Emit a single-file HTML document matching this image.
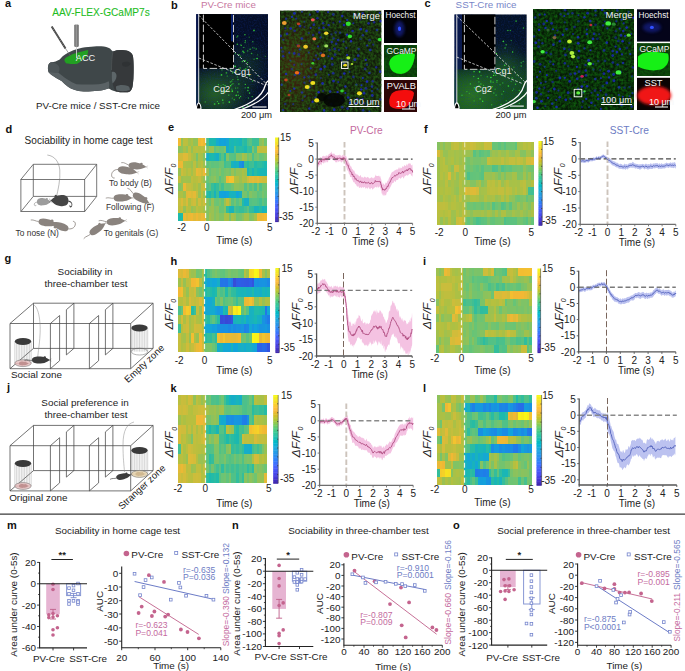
<!DOCTYPE html><html><head><meta charset="utf-8"><style>html,body{margin:0;padding:0;background:#fff;overflow:hidden;width:685px;height:671px;position:relative}svg{display:block;position:absolute;left:0;top:0}.hm{position:absolute;filter:blur(0.5px)}</style></head><body><div class="hm" style="left:178px;top:138px;width:89.20px;height:82.70px"><div style="height:7.518px;background:linear-gradient(90deg,#f2ba33 0.00% 2.86%,#92c258 2.86% 5.71%,#bdbf3e 5.71% 8.57%,#bbbf3e 8.57% 11.43%,#a1c14c 11.43% 14.29%,#adc044 14.29% 17.14%,#93c257 17.14% 20.00%,#93c257 20.00% 22.86%,#edb935 22.86% 25.71%,#f3bd32 25.71% 28.57%,#ebb935 28.57% 31.43%,#48c08d 31.43% 34.29%,#1bb7b3 34.29% 37.14%,#1cb9ae 37.14% 40.00%,#1bb7b2 40.00% 42.86%,#14aad0 42.86% 45.71%,#13a1db 45.71% 48.57%,#12a4da 48.57% 51.43%,#14a0dc 51.43% 54.29%,#13a7d5 54.29% 57.14%,#1bb8b0 57.14% 60.00%,#1ab5b7 60.00% 62.86%,#1bb9af 62.86% 65.71%,#1ab7b3 65.71% 68.57%,#19b3ba 68.57% 71.43%,#30bd9e 71.43% 74.29%,#27bba4 74.29% 77.14%,#4dc08a 77.14% 80.00%,#5ac280 80.00% 82.86%,#3cbe96 82.86% 85.71%,#3bbe96 85.71% 88.57%,#3ebe94 88.57% 91.43%,#88c25f 91.43% 94.29%,#97c154 94.29% 97.14%,#71c470 97.14% 100.00%)"></div><div style="height:7.518px;background:linear-gradient(90deg,#8bc25d 0.00% 2.86%,#90c259 2.86% 5.71%,#a9c047 5.71% 8.57%,#96c255 8.57% 11.43%,#bcbf3e 11.43% 14.29%,#95c255 14.29% 17.14%,#b5c03f 17.14% 20.00%,#babf3f 20.00% 22.86%,#b4c040 22.86% 25.71%,#bbbf3e 25.71% 28.57%,#b5c03f 28.57% 31.43%,#79c36a 31.43% 34.29%,#98c153 34.29% 37.14%,#9bc151 37.14% 40.00%,#61c37c 40.00% 42.86%,#72c46f 42.86% 45.71%,#67c477 45.71% 48.57%,#69c476 48.57% 51.43%,#7fc366 51.43% 54.29%,#15acca 54.29% 57.14%,#1ab6b5 57.14% 60.00%,#19b3bc 60.00% 62.86%,#4ec089 62.86% 65.71%,#24bba6 65.71% 68.57%,#29bca3 68.57% 71.43%,#26bba5 71.43% 74.29%,#1bb7b2 74.29% 77.14%,#37be99 77.14% 80.00%,#33bd9c 80.00% 82.86%,#7dc367 82.86% 85.71%,#52c186 85.71% 88.57%,#bdbf3e 88.57% 91.43%,#c0be3d 91.43% 94.29%,#c2be3d 94.29% 97.14%,#c1be3d 97.14% 100.00%)"></div><div style="height:7.518px;background:linear-gradient(90deg,#cfbc3b 0.00% 2.86%,#d0bc3a 2.86% 5.71%,#e0ba37 5.71% 8.57%,#deba38 8.57% 11.43%,#c6bd3c 11.43% 14.29%,#afc042 14.29% 17.14%,#a4c14a 17.14% 20.00%,#78c36b 20.00% 22.86%,#a8c147 22.86% 25.71%,#a4c14a 25.71% 28.57%,#84c362 28.57% 31.43%,#17afc5 31.43% 34.29%,#1ab7b3 34.29% 37.14%,#1cb9ae 37.14% 40.00%,#19b3bb 40.00% 42.86%,#16aec5 42.86% 45.71%,#35bd9b 45.71% 48.57%,#56c283 48.57% 51.43%,#29bca3 51.43% 54.29%,#83c363 54.29% 57.14%,#5ac281 57.14% 60.00%,#57c283 60.00% 62.86%,#51c187 62.86% 65.71%,#85c261 65.71% 68.57%,#80c365 68.57% 71.43%,#a7c148 71.43% 74.29%,#9ac151 74.29% 77.14%,#72c46f 77.14% 80.00%,#80c365 80.00% 82.86%,#4bc08b 82.86% 85.71%,#71c470 85.71% 88.57%,#7ec367 88.57% 91.43%,#66c478 91.43% 94.29%,#6dc473 94.29% 97.14%,#7bc369 97.14% 100.00%)"></div><div style="height:7.518px;background:linear-gradient(90deg,#ebb935 0.00% 2.86%,#ecb935 2.86% 5.71%,#adc044 5.71% 8.57%,#a6c149 8.57% 11.43%,#a5c149 11.43% 14.29%,#9ac152 14.29% 17.14%,#bcbf3e 17.14% 20.00%,#97c154 20.00% 22.86%,#aec043 22.86% 25.71%,#b9bf3f 25.71% 28.57%,#9ec14f 28.57% 31.43%,#5dc27e 31.43% 34.29%,#67c477 34.29% 37.14%,#5ec37e 37.14% 40.00%,#63c37a 40.00% 42.86%,#61c37c 42.86% 45.71%,#6ec472 45.71% 48.57%,#70c471 48.57% 51.43%,#3fbf93 51.43% 54.29%,#4dc08a 54.29% 57.14%,#4dc089 57.14% 60.00%,#18b3bc 60.00% 62.86%,#16adc8 62.86% 65.71%,#18b2bd 65.71% 68.57%,#1894e0 68.57% 71.43%,#1c87e5 71.43% 74.29%,#36bd9a 74.29% 77.14%,#28bca4 77.14% 80.00%,#3ebe94 80.00% 82.86%,#42bf92 82.86% 85.71%,#23bba7 85.71% 88.57%,#2fbc9f 88.57% 91.43%,#30bd9e 91.43% 94.29%,#27bba5 94.29% 97.14%,#1bb9af 97.14% 100.00%)"></div><div style="height:7.518px;background:linear-gradient(90deg,#98c153 0.00% 2.86%,#cbbd3b 2.86% 5.71%,#bebe3e 5.71% 8.57%,#aec043 8.57% 11.43%,#bbbf3e 11.43% 14.29%,#a5c14a 14.29% 17.14%,#bdbf3e 17.14% 20.00%,#e9b936 20.00% 22.86%,#e0ba37 22.86% 25.71%,#d0bc3a 25.71% 28.57%,#ebb935 28.57% 31.43%,#98c154 31.43% 34.29%,#65c379 34.29% 37.14%,#7ac36a 37.14% 40.00%,#7cc368 40.00% 42.86%,#72c470 42.86% 45.71%,#86c261 45.71% 48.57%,#6ac475 48.57% 51.43%,#77c36b 51.43% 54.29%,#7ec367 54.29% 57.14%,#74c36e 57.14% 60.00%,#99c153 60.00% 62.86%,#80c365 62.86% 65.71%,#96c255 65.71% 68.57%,#99c153 68.57% 71.43%,#a9c046 71.43% 74.29%,#9fc14e 74.29% 77.14%,#1bb7b2 77.14% 80.00%,#2abca2 80.00% 82.86%,#19b4b9 82.86% 85.71%,#29bca3 85.71% 88.57%,#1bb9af 88.57% 91.43%,#1ab6b5 91.43% 94.29%,#1ab6b6 94.29% 97.14%,#1ab5b6 97.14% 100.00%)"></div><div style="height:7.518px;background:linear-gradient(90deg,#c1be3d 0.00% 2.86%,#9ac151 2.86% 5.71%,#a2c14c 5.71% 8.57%,#a0c14d 8.57% 11.43%,#9ec14f 11.43% 14.29%,#bebf3e 14.29% 17.14%,#b6bf3f 17.14% 20.00%,#babf3e 20.00% 22.86%,#c6bd3c 22.86% 25.71%,#afc042 25.71% 28.57%,#97c154 28.57% 31.43%,#65c479 31.43% 34.29%,#79c36a 34.29% 37.14%,#84c362 37.14% 40.00%,#90c259 40.00% 42.86%,#78c36b 42.86% 45.71%,#58c282 45.71% 48.57%,#6ec472 48.57% 51.43%,#82c363 51.43% 54.29%,#eeb935 54.29% 57.14%,#f3c32f 57.14% 60.00%,#f3c22f 60.00% 62.86%,#b6c03f 62.86% 65.71%,#b1c041 65.71% 68.57%,#9cc150 68.57% 71.43%,#b1c041 71.43% 74.29%,#adc044 74.29% 77.14%,#cbbd3b 77.14% 80.00%,#debb38 80.00% 82.86%,#e5ba36 82.86% 85.71%,#dbbb38 85.71% 88.57%,#e5ba36 88.57% 91.43%,#d6bc39 91.43% 94.29%,#cfbc3b 94.29% 97.14%,#cdbd3b 97.14% 100.00%)"></div><div style="height:7.518px;background:linear-gradient(90deg,#81c364 0.00% 2.86%,#8fc25a 2.86% 5.71%,#ebb935 5.71% 8.57%,#c8bd3c 8.57% 11.43%,#c4be3d 11.43% 14.29%,#bdbf3e 14.29% 17.14%,#abc045 17.14% 20.00%,#b5c03f 20.00% 22.86%,#9ec14f 22.86% 25.71%,#c4be3d 25.71% 28.57%,#c7bd3c 28.57% 31.43%,#52c186 31.43% 34.29%,#5dc27e 34.29% 37.14%,#38be98 37.14% 40.00%,#26bba5 40.00% 42.86%,#36bd99 42.86% 45.71%,#5bc280 45.71% 48.57%,#41bf92 48.57% 51.43%,#66c478 51.43% 54.29%,#63c37a 54.29% 57.14%,#64c37a 57.14% 60.00%,#74c36e 60.00% 62.86%,#90c259 62.86% 65.71%,#8ec25b 65.71% 68.57%,#87c260 68.57% 71.43%,#87c260 71.43% 74.29%,#56c283 74.29% 77.14%,#79c36a 77.14% 80.00%,#58c282 80.00% 82.86%,#6ac475 82.86% 85.71%,#4cc08a 85.71% 88.57%,#80c365 88.57% 91.43%,#52c186 91.43% 94.29%,#6ec472 94.29% 97.14%,#72c36f 97.14% 100.00%)"></div><div style="height:7.518px;background:linear-gradient(90deg,#acc045 0.00% 2.86%,#aec043 2.86% 5.71%,#9cc150 5.71% 8.57%,#e0ba37 8.57% 11.43%,#e4ba37 11.43% 14.29%,#dbbb38 14.29% 17.14%,#e5ba36 17.14% 20.00%,#c4be3d 20.00% 22.86%,#98c153 22.86% 25.71%,#bbbf3e 25.71% 28.57%,#9ac152 28.57% 31.43%,#26bba5 31.43% 34.29%,#1bb8b1 34.29% 37.14%,#32bd9d 37.14% 40.00%,#18b2bd 40.00% 42.86%,#38be99 42.86% 45.71%,#13a3db 45.71% 48.57%,#13a3db 48.57% 51.43%,#13a1db 51.43% 54.29%,#12a5da 54.29% 57.14%,#19b3ba 57.14% 60.00%,#18b1c0 60.00% 62.86%,#18b2bd 62.86% 65.71%,#12a6d8 65.71% 68.57%,#17aec5 68.57% 71.43%,#7ac369 71.43% 74.29%,#76c36c 74.29% 77.14%,#5bc280 77.14% 80.00%,#84c262 80.00% 82.86%,#76c36c 82.86% 85.71%,#74c36e 85.71% 88.57%,#5cc27f 88.57% 91.43%,#63c37a 91.43% 94.29%,#78c36b 94.29% 97.14%,#6ac475 97.14% 100.00%)"></div><div style="height:7.518px;background:linear-gradient(90deg,#c5be3d 0.00% 2.86%,#dbbb38 2.86% 5.71%,#c1be3d 5.71% 8.57%,#d8bb39 8.57% 11.43%,#adc043 11.43% 14.29%,#c7bd3c 14.29% 17.14%,#d0bc3a 17.14% 20.00%,#abc045 20.00% 22.86%,#cfbc3b 22.86% 25.71%,#babf3e 25.71% 28.57%,#ccbd3b 28.57% 31.43%,#86c260 31.43% 34.29%,#6ac476 34.29% 37.14%,#99c153 37.14% 40.00%,#70c471 40.00% 42.86%,#6ac476 42.86% 45.71%,#7cc368 45.71% 48.57%,#65c479 48.57% 51.43%,#9bc151 51.43% 54.29%,#bfbe3d 54.29% 57.14%,#9ac151 57.14% 60.00%,#5cc27f 60.00% 62.86%,#71c470 62.86% 65.71%,#57c283 65.71% 68.57%,#6dc473 68.57% 71.43%,#21bba9 71.43% 74.29%,#17b0c2 74.29% 77.14%,#17afc5 77.14% 80.00%,#54c185 80.00% 82.86%,#59c281 82.86% 85.71%,#58c282 85.71% 88.57%,#50c188 88.57% 91.43%,#43bf91 91.43% 94.29%,#5fc37d 94.29% 97.14%,#51c187 97.14% 100.00%)"></div><div style="height:7.518px;background:linear-gradient(90deg,#bfbe3d 0.00% 2.86%,#c7bd3c 2.86% 5.71%,#98c153 5.71% 8.57%,#bebe3e 8.57% 11.43%,#b6bf3f 11.43% 14.29%,#96c255 14.29% 17.14%,#a4c14b 17.14% 20.00%,#bdbf3e 20.00% 22.86%,#b3c040 22.86% 25.71%,#b5c03f 25.71% 28.57%,#a6c149 28.57% 31.43%,#83c363 31.43% 34.29%,#95c255 34.29% 37.14%,#9bc151 37.14% 40.00%,#82c364 40.00% 42.86%,#8cc25c 42.86% 45.71%,#67c478 45.71% 48.57%,#6ac475 48.57% 51.43%,#82c363 51.43% 54.29%,#30bd9e 54.29% 57.14%,#19b4ba 57.14% 60.00%,#19b4b9 60.00% 62.86%,#4ac08c 62.86% 65.71%,#3ebe94 65.71% 68.57%,#34bd9b 68.57% 71.43%,#35bd9a 71.43% 74.29%,#46bf8f 74.29% 77.14%,#5cc27f 77.14% 80.00%,#36bd9a 80.00% 82.86%,#2fbc9f 82.86% 85.71%,#19b3bc 85.71% 88.57%,#1ab6b5 88.57% 91.43%,#26bba5 91.43% 94.29%,#18b2be 94.29% 97.14%,#1bb7b3 97.14% 100.00%)"></div><div style="height:7.518px;background:linear-gradient(90deg,#1ebaab 0.00% 2.86%,#22bba7 2.86% 5.71%,#efb835 5.71% 8.57%,#dcbb38 8.57% 11.43%,#ebb935 11.43% 14.29%,#f0b834 14.29% 17.14%,#dfba38 17.14% 20.00%,#eeb835 20.00% 22.86%,#e1ba37 22.86% 25.71%,#ecb935 25.71% 28.57%,#e7b936 28.57% 31.43%,#85c261 31.43% 34.29%,#a4c14a 34.29% 37.14%,#99c153 37.14% 40.00%,#83c363 40.00% 42.86%,#92c258 42.86% 45.71%,#81c364 45.71% 48.57%,#81c364 48.57% 51.43%,#a7c148 51.43% 54.29%,#a9c046 54.29% 57.14%,#7ac36a 57.14% 60.00%,#a6c149 60.00% 62.86%,#9ac152 62.86% 65.71%,#71c470 65.71% 68.57%,#77c36c 68.57% 71.43%,#8ac25e 71.43% 74.29%,#a4c14a 74.29% 77.14%,#a3c14b 77.14% 80.00%,#7fc366 80.00% 82.86%,#8ac25d 82.86% 85.71%,#a6c149 85.71% 88.57%,#ebb935 88.57% 91.43%,#e8b936 91.43% 94.29%,#f0b834 94.29% 97.14%,#f3bc32 97.14% 100.00%)"></div></div>
<div class="hm" style="left:437.4px;top:142.2px;width:96.40px;height:82.60px"><div style="height:7.509px;background:linear-gradient(90deg,#86c260 0.00% 2.86%,#9ac152 2.86% 5.71%,#87c260 5.71% 8.57%,#9dc14f 8.57% 11.43%,#99c152 11.43% 14.29%,#bbbf3e 14.29% 17.14%,#c3be3d 17.14% 20.00%,#c1be3d 20.00% 22.86%,#aec043 22.86% 25.71%,#c0be3d 25.71% 28.57%,#c3be3d 28.57% 31.43%,#c0be3d 31.43% 34.29%,#ccbd3b 34.29% 37.14%,#c7bd3c 37.14% 40.00%,#babf3e 40.00% 42.86%,#b5c03f 42.86% 45.71%,#b1c040 45.71% 48.57%,#cabd3c 48.57% 51.43%,#c6be3c 51.43% 54.29%,#c3be3d 54.29% 57.14%,#66c478 57.14% 60.00%,#69c476 60.00% 62.86%,#5dc27e 62.86% 65.71%,#6ac475 65.71% 68.57%,#5ac281 68.57% 71.43%,#6ec472 71.43% 74.29%,#6ec472 74.29% 77.14%,#70c471 77.14% 80.00%,#5ec37e 80.00% 82.86%,#a1c14c 82.86% 85.71%,#abc045 85.71% 88.57%,#b9bf3f 88.57% 91.43%,#b2c040 91.43% 94.29%,#bbbf3e 94.29% 97.14%,#afc042 97.14% 100.00%)"></div><div style="height:7.509px;background:linear-gradient(90deg,#d7bb39 0.00% 2.86%,#b4c040 2.86% 5.71%,#96c255 5.71% 8.57%,#97c154 8.57% 11.43%,#a7c148 11.43% 14.29%,#a9c147 14.29% 17.14%,#a1c14d 17.14% 20.00%,#a6c149 20.00% 22.86%,#a1c14d 22.86% 25.71%,#aac046 25.71% 28.57%,#9dc14f 28.57% 31.43%,#9bc151 31.43% 34.29%,#93c257 34.29% 37.14%,#58c282 37.14% 40.00%,#6dc473 40.00% 42.86%,#57c282 42.86% 45.71%,#5fc37d 45.71% 48.57%,#69c476 48.57% 51.43%,#62c37b 51.43% 54.29%,#90c259 54.29% 57.14%,#9fc14e 57.14% 60.00%,#99c153 60.00% 62.86%,#a6c149 62.86% 65.71%,#9ac152 65.71% 68.57%,#96c255 68.57% 71.43%,#a8c147 71.43% 74.29%,#96c255 74.29% 77.14%,#91c259 77.14% 80.00%,#a7c148 80.00% 82.86%,#a7c148 82.86% 85.71%,#87c260 85.71% 88.57%,#83c363 88.57% 91.43%,#a3c14b 91.43% 94.29%,#a4c14a 94.29% 97.14%,#90c259 97.14% 100.00%)"></div><div style="height:7.509px;background:linear-gradient(90deg,#a1c14d 0.00% 2.86%,#b2c040 2.86% 5.71%,#bbbf3e 5.71% 8.57%,#9fc14e 8.57% 11.43%,#a9c147 11.43% 14.29%,#b1c040 14.29% 17.14%,#9fc14e 17.14% 20.00%,#a7c148 20.00% 22.86%,#9cc150 22.86% 25.71%,#aac046 25.71% 28.57%,#7bc369 28.57% 31.43%,#75c36d 31.43% 34.29%,#82c364 34.29% 37.14%,#78c36b 37.14% 40.00%,#77c36c 40.00% 42.86%,#78c36b 42.86% 45.71%,#83c363 45.71% 48.57%,#7fc366 48.57% 51.43%,#c1be3d 51.43% 54.29%,#b5c03f 54.29% 57.14%,#afc042 57.14% 60.00%,#adc044 60.00% 62.86%,#b1c041 62.86% 65.71%,#c1be3d 65.71% 68.57%,#adc044 68.57% 71.43%,#b7bf3f 71.43% 74.29%,#c3be3d 74.29% 77.14%,#c4be3d 77.14% 80.00%,#b7bf3f 80.00% 82.86%,#c5be3c 82.86% 85.71%,#bebf3e 85.71% 88.57%,#aec043 88.57% 91.43%,#d1bc3a 91.43% 94.29%,#d2bc3a 94.29% 97.14%,#debb38 97.14% 100.00%)"></div><div style="height:7.509px;background:linear-gradient(90deg,#9fc14e 0.00% 2.86%,#b1c041 2.86% 5.71%,#b6c03f 5.71% 8.57%,#b4c040 8.57% 11.43%,#a2c14c 11.43% 14.29%,#8fc25a 14.29% 17.14%,#cabd3c 17.14% 20.00%,#c8bd3c 20.00% 22.86%,#a9c046 22.86% 25.71%,#acc045 25.71% 28.57%,#73c36f 28.57% 31.43%,#6ac475 31.43% 34.29%,#74c36d 34.29% 37.14%,#67c477 37.14% 40.00%,#60c37c 40.00% 42.86%,#6fc471 42.86% 45.71%,#58c282 45.71% 48.57%,#6dc473 48.57% 51.43%,#6bc475 51.43% 54.29%,#71c470 54.29% 57.14%,#4ec189 57.14% 60.00%,#54c185 60.00% 62.86%,#74c36e 62.86% 65.71%,#52c186 65.71% 68.57%,#5fc37d 68.57% 71.43%,#66c478 71.43% 74.29%,#61c37c 74.29% 77.14%,#71c470 77.14% 80.00%,#74c36e 80.00% 82.86%,#78c36b 82.86% 85.71%,#70c471 85.71% 88.57%,#90c259 88.57% 91.43%,#7dc367 91.43% 94.29%,#75c36d 94.29% 97.14%,#70c471 97.14% 100.00%)"></div><div style="height:7.509px;background:linear-gradient(90deg,#9ec14f 0.00% 2.86%,#b5c03f 2.86% 5.71%,#a9c047 5.71% 8.57%,#b4c040 8.57% 11.43%,#dbbb38 11.43% 14.29%,#a3c14b 14.29% 17.14%,#b5c03f 17.14% 20.00%,#92c258 20.00% 22.86%,#aec043 22.86% 25.71%,#aec043 25.71% 28.57%,#74c36e 28.57% 31.43%,#4dc08a 31.43% 34.29%,#62c37b 34.29% 37.14%,#64c37a 37.14% 40.00%,#66c478 40.00% 42.86%,#60c37c 42.86% 45.71%,#58c282 45.71% 48.57%,#9ec14f 48.57% 51.43%,#9dc150 51.43% 54.29%,#96c255 54.29% 57.14%,#a0c14d 57.14% 60.00%,#90c259 60.00% 62.86%,#7cc368 62.86% 65.71%,#95c255 65.71% 68.57%,#7dc367 68.57% 71.43%,#98c153 71.43% 74.29%,#94c257 74.29% 77.14%,#a6c149 77.14% 80.00%,#a4c14b 80.00% 82.86%,#7cc368 82.86% 85.71%,#80c365 85.71% 88.57%,#a1c14d 88.57% 91.43%,#82c363 91.43% 94.29%,#9dc14f 94.29% 97.14%,#7fc366 97.14% 100.00%)"></div><div style="height:7.509px;background:linear-gradient(90deg,#a4c14a 0.00% 2.86%,#aac046 2.86% 5.71%,#a5c14a 5.71% 8.57%,#bcbf3e 8.57% 11.43%,#a0c14d 11.43% 14.29%,#aac046 14.29% 17.14%,#9fc14e 17.14% 20.00%,#9bc151 20.00% 22.86%,#b2c040 22.86% 25.71%,#a4c14a 25.71% 28.57%,#94c256 28.57% 31.43%,#9dc150 31.43% 34.29%,#84c362 34.29% 37.14%,#83c363 37.14% 40.00%,#9cc150 40.00% 42.86%,#a9c047 42.86% 45.71%,#81c364 45.71% 48.57%,#93c257 48.57% 51.43%,#bdbf3e 51.43% 54.29%,#b8bf3f 54.29% 57.14%,#bdbf3e 57.14% 60.00%,#acc045 60.00% 62.86%,#bdbf3e 62.86% 65.71%,#99c153 65.71% 68.57%,#aac046 68.57% 71.43%,#b8bf3f 71.43% 74.29%,#a6c149 74.29% 77.14%,#a8c147 77.14% 80.00%,#a9c147 80.00% 82.86%,#a6c149 82.86% 85.71%,#b7bf3f 85.71% 88.57%,#bdbf3e 88.57% 91.43%,#a0c14e 91.43% 94.29%,#a3c14b 94.29% 97.14%,#b6bf3f 97.14% 100.00%)"></div><div style="height:7.509px;background:linear-gradient(90deg,#adc043 0.00% 2.86%,#b0c041 2.86% 5.71%,#abc045 5.71% 8.57%,#b4c040 8.57% 11.43%,#b1c040 11.43% 14.29%,#a9c147 14.29% 17.14%,#9bc151 17.14% 20.00%,#92c257 20.00% 22.86%,#b2c040 22.86% 25.71%,#b2c040 25.71% 28.57%,#dfba37 28.57% 31.43%,#d4bc3a 31.43% 34.29%,#ddbb38 34.29% 37.14%,#e0ba37 37.14% 40.00%,#d3bc3a 40.00% 42.86%,#9fc14e 42.86% 45.71%,#a5c14a 45.71% 48.57%,#a7c149 48.57% 51.43%,#b8bf3f 51.43% 54.29%,#bebf3e 54.29% 57.14%,#bdbf3e 57.14% 60.00%,#b9bf3f 60.00% 62.86%,#c3be3d 62.86% 65.71%,#c3be3d 65.71% 68.57%,#b0c042 68.57% 71.43%,#c1be3d 71.43% 74.29%,#babf3f 74.29% 77.14%,#a8c148 77.14% 80.00%,#b5c03f 80.00% 82.86%,#a5c14a 82.86% 85.71%,#aec043 85.71% 88.57%,#bdbf3e 88.57% 91.43%,#9ec14f 91.43% 94.29%,#44bf90 94.29% 97.14%,#40bf93 97.14% 100.00%)"></div><div style="height:7.509px;background:linear-gradient(90deg,#a9c047 0.00% 2.86%,#a0c14d 2.86% 5.71%,#b3c040 5.71% 8.57%,#abc045 8.57% 11.43%,#a2c14c 11.43% 14.29%,#aec043 14.29% 17.14%,#b8bf3f 17.14% 20.00%,#a1c14d 20.00% 22.86%,#bcbf3e 22.86% 25.71%,#a1c14d 25.71% 28.57%,#a2c14c 28.57% 31.43%,#9ec14f 31.43% 34.29%,#b2c040 34.29% 37.14%,#b3c040 37.14% 40.00%,#adc044 40.00% 42.86%,#9bc151 42.86% 45.71%,#9cc150 45.71% 48.57%,#b1c041 48.57% 51.43%,#a4c14b 51.43% 54.29%,#a9c047 54.29% 57.14%,#adc044 57.14% 60.00%,#97c154 60.00% 62.86%,#9fc14e 62.86% 65.71%,#b5c03f 65.71% 68.57%,#9dc150 68.57% 71.43%,#b2c040 71.43% 74.29%,#95c255 74.29% 77.14%,#90c259 77.14% 80.00%,#78c36b 80.00% 82.86%,#6fc472 82.86% 85.71%,#7cc368 85.71% 88.57%,#83c363 88.57% 91.43%,#65c379 91.43% 94.29%,#78c36b 94.29% 97.14%,#72c36f 97.14% 100.00%)"></div><div style="height:7.509px;background:linear-gradient(90deg,#c1be3d 0.00% 2.86%,#bebe3e 2.86% 5.71%,#c0be3d 5.71% 8.57%,#bbbf3e 8.57% 11.43%,#acc045 11.43% 14.29%,#b6bf3f 14.29% 17.14%,#b4c040 17.14% 20.00%,#adc044 20.00% 22.86%,#a9c046 22.86% 25.71%,#b7bf3f 25.71% 28.57%,#88c25f 28.57% 31.43%,#6dc473 31.43% 34.29%,#72c470 34.29% 37.14%,#6ac476 37.14% 40.00%,#72c46f 40.00% 42.86%,#73c36f 42.86% 45.71%,#67c477 45.71% 48.57%,#7ec367 48.57% 51.43%,#71c470 51.43% 54.29%,#84c362 54.29% 57.14%,#56c283 57.14% 60.00%,#6bc474 60.00% 62.86%,#75c36d 62.86% 65.71%,#53c185 65.71% 68.57%,#5cc27f 68.57% 71.43%,#75c36d 71.43% 74.29%,#5dc27e 74.29% 77.14%,#86c260 77.14% 80.00%,#7fc365 80.00% 82.86%,#9bc151 82.86% 85.71%,#86c260 85.71% 88.57%,#9dc150 88.57% 91.43%,#90c259 91.43% 94.29%,#80c365 94.29% 97.14%,#a2c14c 97.14% 100.00%)"></div><div style="height:7.509px;background:linear-gradient(90deg,#babf3f 0.00% 2.86%,#b5c040 2.86% 5.71%,#afc042 5.71% 8.57%,#b5c03f 8.57% 11.43%,#bcbf3e 11.43% 14.29%,#9ec14f 14.29% 17.14%,#a0c14d 17.14% 20.00%,#b5c03f 20.00% 22.86%,#a7c148 22.86% 25.71%,#bdbf3e 25.71% 28.57%,#aac046 28.57% 31.43%,#9dc150 31.43% 34.29%,#8ec25a 34.29% 37.14%,#a1c14d 37.14% 40.00%,#a0c14d 40.00% 42.86%,#9fc14e 42.86% 45.71%,#a7c148 45.71% 48.57%,#9bc151 48.57% 51.43%,#acc044 51.43% 54.29%,#a0c14d 54.29% 57.14%,#8ec25a 57.14% 60.00%,#a9c046 60.00% 62.86%,#8fc25a 62.86% 65.71%,#adc044 65.71% 68.57%,#aec043 68.57% 71.43%,#90c259 71.43% 74.29%,#90c259 74.29% 77.14%,#a4c14a 77.14% 80.00%,#9ac152 80.00% 82.86%,#97c154 82.86% 85.71%,#a6c149 85.71% 88.57%,#95c255 88.57% 91.43%,#8dc25b 91.43% 94.29%,#9ec14f 94.29% 97.14%,#acc045 97.14% 100.00%)"></div><div style="height:7.509px;background:linear-gradient(90deg,#b6c03f 0.00% 2.86%,#93c257 2.86% 5.71%,#adc043 5.71% 8.57%,#9cc150 8.57% 11.43%,#b6bf3f 11.43% 14.29%,#9fc14e 14.29% 17.14%,#93c257 17.14% 20.00%,#ccbd3b 20.00% 22.86%,#d3bc3a 22.86% 25.71%,#c6bd3c 25.71% 28.57%,#74c36e 28.57% 31.43%,#62c37b 31.43% 34.29%,#73c36f 34.29% 37.14%,#5dc37e 37.14% 40.00%,#4ac08c 40.00% 42.86%,#51c187 42.86% 45.71%,#5cc27f 45.71% 48.57%,#60c37c 48.57% 51.43%,#77c36c 51.43% 54.29%,#64c379 54.29% 57.14%,#62c37b 57.14% 60.00%,#6ec472 60.00% 62.86%,#71c470 62.86% 65.71%,#78c36b 65.71% 68.57%,#4dc08a 68.57% 71.43%,#59c281 71.43% 74.29%,#5bc280 74.29% 77.14%,#5dc27f 77.14% 80.00%,#5cc27f 80.00% 82.86%,#71c470 82.86% 85.71%,#71c470 85.71% 88.57%,#64c379 88.57% 91.43%,#58c282 91.43% 94.29%,#7ac369 94.29% 97.14%,#65c479 97.14% 100.00%)"></div></div>
<div class="hm" style="left:178.1px;top:269.1px;width:91.80px;height:82.70px"><div style="height:9.189px;background:linear-gradient(90deg,#ddbb38 0.00% 2.86%,#d8bb39 2.86% 5.71%,#ebb935 5.71% 8.57%,#deba38 8.57% 11.43%,#a8c147 11.43% 14.29%,#9ac152 14.29% 17.14%,#9fc14e 17.14% 20.00%,#71c470 20.00% 22.86%,#7ac369 22.86% 25.71%,#a5c14a 25.71% 28.57%,#2bbca1 28.57% 31.43%,#4cc08a 31.43% 34.29%,#5fc37d 34.29% 37.14%,#71c470 37.14% 40.00%,#7ec366 40.00% 42.86%,#6ec472 42.86% 45.71%,#62c37b 45.71% 48.57%,#5ec37e 48.57% 51.43%,#70c471 51.43% 54.29%,#7fc366 54.29% 57.14%,#72c36f 57.14% 60.00%,#76c36d 60.00% 62.86%,#7ac36a 62.86% 65.71%,#69c476 65.71% 68.57%,#65c379 68.57% 71.43%,#b6c03f 71.43% 74.29%,#9bc151 74.29% 77.14%,#f6d924 77.14% 80.00%,#f7de21 80.00% 82.86%,#faf616 82.86% 85.71%,#f9f019 85.71% 88.57%,#f0b834 88.57% 91.43%,#a6c149 91.43% 94.29%,#85c261 94.29% 97.14%,#aac046 97.14% 100.00%)"></div><div style="height:9.189px;background:linear-gradient(90deg,#a0c14d 0.00% 2.86%,#c3be3d 2.86% 5.71%,#97c154 5.71% 8.57%,#bbbf3e 8.57% 11.43%,#c2be3d 11.43% 14.29%,#f2b933 14.29% 17.14%,#f2bb32 17.14% 20.00%,#f3c22f 20.00% 22.86%,#bfbe3e 22.86% 25.71%,#91c259 25.71% 28.57%,#15accb 28.57% 31.43%,#13a2db 31.43% 34.29%,#14a9d1 34.29% 37.14%,#12a5d9 37.14% 40.00%,#12a6d9 40.00% 42.86%,#16adc8 42.86% 45.71%,#2375e8 45.71% 48.57%,#2277e8 48.57% 51.43%,#2473e8 51.43% 54.29%,#1b89e4 54.29% 57.14%,#2179e8 57.14% 60.00%,#364dd9 60.00% 62.86%,#2f5ce5 62.86% 65.71%,#2d5ee7 65.71% 68.57%,#2f5ce5 68.57% 71.43%,#305ae4 71.43% 74.29%,#3059e3 74.29% 77.14%,#2d5ee7 77.14% 80.00%,#3353df 80.00% 82.86%,#1892e1 82.86% 85.71%,#1a8de3 85.71% 88.57%,#1892e1 88.57% 91.43%,#1893e1 91.43% 94.29%,#1891e1 94.29% 97.14%,#1b88e5 97.14% 100.00%)"></div><div style="height:9.189px;background:linear-gradient(90deg,#f2b934 0.00% 2.86%,#f3be31 2.86% 5.71%,#b6bf3f 5.71% 8.57%,#96c254 8.57% 11.43%,#c7bd3c 11.43% 14.29%,#c3be3d 14.29% 17.14%,#d1bc3a 17.14% 20.00%,#8bc25d 20.00% 22.86%,#76c36d 22.86% 25.71%,#92c258 25.71% 28.57%,#22bba8 28.57% 31.43%,#2fbd9e 31.43% 34.29%,#23bba7 34.29% 37.14%,#1ab7b3 37.14% 40.00%,#20bba9 40.00% 42.86%,#5fc37d 42.86% 45.71%,#4bc08b 45.71% 48.57%,#58c282 48.57% 51.43%,#24bba6 51.43% 54.29%,#4ec189 54.29% 57.14%,#31bd9d 57.14% 60.00%,#2ebca0 60.00% 62.86%,#1bb7b2 62.86% 65.71%,#19b5b8 65.71% 68.57%,#19b3bb 68.57% 71.43%,#1ab5b7 71.43% 74.29%,#18b1bf 74.29% 77.14%,#18b2be 77.14% 80.00%,#1fbaaa 80.00% 82.86%,#17afc5 82.86% 85.71%,#18b1c0 85.71% 88.57%,#16aec6 88.57% 91.43%,#1ab6b5 91.43% 94.29%,#18b1bf 94.29% 97.14%,#1ab6b4 97.14% 100.00%)"></div><div style="height:9.189px;background:linear-gradient(90deg,#b8bf3f 0.00% 2.86%,#b6c03f 2.86% 5.71%,#c5be3d 5.71% 8.57%,#afc042 8.57% 11.43%,#d9bb39 11.43% 14.29%,#c8bd3c 14.29% 17.14%,#c0be3d 17.14% 20.00%,#c8bd3c 20.00% 22.86%,#dcbb38 22.86% 25.71%,#c5be3c 25.71% 28.57%,#14aad0 28.57% 31.43%,#13a7d7 31.43% 34.29%,#14a9d1 34.29% 37.14%,#17b0c2 37.14% 40.00%,#70c471 40.00% 42.86%,#5bc280 42.86% 45.71%,#80c365 45.71% 48.57%,#52c186 48.57% 51.43%,#60c37c 51.43% 54.29%,#6bc475 54.29% 57.14%,#73c36f 57.14% 60.00%,#57c283 60.00% 62.86%,#3bbe96 62.86% 65.71%,#5dc27e 65.71% 68.57%,#55c184 68.57% 71.43%,#e6ba36 71.43% 74.29%,#eeb835 74.29% 77.14%,#f3c12f 77.14% 80.00%,#e6b936 80.00% 82.86%,#91c259 82.86% 85.71%,#90c259 85.71% 88.57%,#b4c040 88.57% 91.43%,#98c153 91.43% 94.29%,#aec043 94.29% 97.14%,#aec043 97.14% 100.00%)"></div><div style="height:9.189px;background:linear-gradient(90deg,#4bc08b 0.00% 2.86%,#65c479 2.86% 5.71%,#f2bb33 5.71% 8.57%,#f5cc2a 8.57% 11.43%,#f4c42e 11.43% 14.29%,#23bba7 14.29% 17.14%,#3fbe94 17.14% 20.00%,#c3be3d 20.00% 22.86%,#99c153 22.86% 25.71%,#e8b936 25.71% 28.57%,#14a8d3 28.57% 31.43%,#14a8d3 31.43% 34.29%,#15aace 34.29% 37.14%,#14aacf 37.14% 40.00%,#13a0dc 40.00% 42.86%,#1698df 42.86% 45.71%,#14a0dc 45.71% 48.57%,#23bba7 48.57% 51.43%,#1ab6b6 51.43% 54.29%,#d5bc39 54.29% 57.14%,#c1be3d 57.14% 60.00%,#f9ec1b 60.00% 62.86%,#f7e120 62.86% 65.71%,#faf417 65.71% 68.57%,#5dc27e 68.57% 71.43%,#80c365 71.43% 74.29%,#58c282 74.29% 77.14%,#18b1c0 77.14% 80.00%,#18b2bf 80.00% 82.86%,#21bba9 82.86% 85.71%,#21bba9 85.71% 88.57%,#1cbaac 88.57% 91.43%,#1bb7b2 91.43% 94.29%,#2277e8 94.29% 97.14%,#13a7d6 97.14% 100.00%)"></div><div style="height:9.189px;background:linear-gradient(90deg,#a5c149 0.00% 2.86%,#d5bc39 2.86% 5.71%,#abc045 5.71% 8.57%,#cabd3c 8.57% 11.43%,#a3c14b 11.43% 14.29%,#b4c040 14.29% 17.14%,#c4be3d 17.14% 20.00%,#aec043 20.00% 22.86%,#a7c148 22.86% 25.71%,#d3bc3a 25.71% 28.57%,#35bd9a 28.57% 31.43%,#24bba6 31.43% 34.29%,#4fc188 34.29% 37.14%,#61c37c 37.14% 40.00%,#45bf8f 40.00% 42.86%,#26bba5 42.86% 45.71%,#374cd9 45.71% 48.57%,#3451dd 48.57% 51.43%,#3948d5 51.43% 54.29%,#374cd9 54.29% 57.14%,#3255e0 57.14% 60.00%,#18b2bd 60.00% 62.86%,#1ab5b7 62.86% 65.71%,#1bb7b2 65.71% 68.57%,#17b0c2 68.57% 71.43%,#1bb8b1 71.43% 74.29%,#14a9d1 74.29% 77.14%,#17b0c2 77.14% 80.00%,#18b2bd 80.00% 82.86%,#1ab7b3 82.86% 85.71%,#17afc4 85.71% 88.57%,#16aec5 88.57% 91.43%,#1893e1 91.43% 94.29%,#1c87e6 94.29% 97.14%,#207be8 97.14% 100.00%)"></div><div style="height:9.189px;background:linear-gradient(90deg,#40bf93 0.00% 2.86%,#b3c040 2.86% 5.71%,#c7bd3c 5.71% 8.57%,#cfbc3b 8.57% 11.43%,#a6c149 11.43% 14.29%,#b5c03f 14.29% 17.14%,#d3bc3a 17.14% 20.00%,#cfbc3b 20.00% 22.86%,#cdbd3b 22.86% 25.71%,#b9bf3f 25.71% 28.57%,#14a8d2 28.57% 31.43%,#13a7d6 31.43% 34.29%,#13a6d7 34.29% 37.14%,#149fdc 37.14% 40.00%,#13a2db 40.00% 42.86%,#1893e1 42.86% 45.71%,#1990e2 45.71% 48.57%,#198fe2 48.57% 51.43%,#1990e2 51.43% 54.29%,#1c88e5 54.29% 57.14%,#1795e0 57.14% 60.00%,#1b8ae4 60.00% 62.86%,#1990e2 62.86% 65.71%,#198fe2 65.71% 68.57%,#1795e0 68.57% 71.43%,#1e81e8 71.43% 74.29%,#1c87e5 74.29% 77.14%,#13a8d4 77.14% 80.00%,#1699df 80.00% 82.86%,#12a3db 82.86% 85.71%,#159bde 85.71% 88.57%,#1893e1 88.57% 91.43%,#1795e0 91.43% 94.29%,#1699de 94.29% 97.14%,#1990e2 97.14% 100.00%)"></div><div style="height:9.189px;background:linear-gradient(90deg,#c6be3c 0.00% 2.86%,#aac046 2.86% 5.71%,#a3c14b 5.71% 8.57%,#c1be3d 8.57% 11.43%,#95c255 11.43% 14.29%,#f3be31 14.29% 17.14%,#afc042 17.14% 20.00%,#9ac152 20.00% 22.86%,#efb834 22.86% 25.71%,#cbbd3b 25.71% 28.57%,#26bba5 28.57% 31.43%,#35bd9a 31.43% 34.29%,#2fbc9f 34.29% 37.14%,#48c08d 37.14% 40.00%,#30bd9e 40.00% 42.86%,#f3c130 42.86% 45.71%,#efb835 45.71% 48.57%,#f3c32f 48.57% 51.43%,#e8b936 51.43% 54.29%,#ebb935 54.29% 57.14%,#e6ba36 57.14% 60.00%,#e6b936 60.00% 62.86%,#eab936 62.86% 65.71%,#f2ba33 65.71% 68.57%,#6cc474 68.57% 71.43%,#76c36c 71.43% 74.29%,#59c281 74.29% 77.14%,#6fc472 77.14% 80.00%,#faf616 80.00% 82.86%,#f9f218 82.86% 85.71%,#f9ef19 85.71% 88.57%,#eab936 88.57% 91.43%,#f3c42e 91.43% 94.29%,#f2bb32 94.29% 97.14%,#f2b834 97.14% 100.00%)"></div><div style="height:9.189px;background:linear-gradient(90deg,#c5be3c 0.00% 2.86%,#afc042 2.86% 5.71%,#b7bf3f 5.71% 8.57%,#cfbc3a 8.57% 11.43%,#b8bf3f 11.43% 14.29%,#c6be3c 14.29% 17.14%,#dabb39 17.14% 20.00%,#eab936 20.00% 22.86%,#f1b834 22.86% 25.71%,#d3bc3a 25.71% 28.57%,#77c36b 28.57% 31.43%,#7cc368 31.43% 34.29%,#81c364 34.29% 37.14%,#6ec473 37.14% 40.00%,#58c282 40.00% 42.86%,#15abcc 42.86% 45.71%,#18b2bc 45.71% 48.57%,#13a6d7 48.57% 51.43%,#13a8d4 51.43% 54.29%,#13a6d7 54.29% 57.14%,#18b2be 57.14% 60.00%,#12a4da 60.00% 62.86%,#12a5d9 62.86% 65.71%,#16adc8 65.71% 68.57%,#17afc4 68.57% 71.43%,#14aacf 71.43% 74.29%,#17afc3 74.29% 77.14%,#17afc5 77.14% 80.00%,#14a9d0 80.00% 82.86%,#12a3db 82.86% 85.71%,#2b64e8 85.71% 88.57%,#2c62e8 88.57% 91.43%,#276be8 91.43% 94.29%,#2b64e8 94.29% 97.14%,#3353df 97.14% 100.00%)"></div></div>
<div class="hm" style="left:435.9px;top:267.8px;width:96.10px;height:85.00px"><div style="height:7.727px;background:linear-gradient(90deg,#9dc150 0.00% 2.86%,#87c260 2.86% 5.71%,#99c152 5.71% 8.57%,#edb935 8.57% 11.43%,#e2ba37 11.43% 14.29%,#bcbf3e 14.29% 17.14%,#abc045 17.14% 20.00%,#a4c14a 20.00% 22.86%,#acc045 22.86% 25.71%,#bbbf3e 25.71% 28.57%,#70c470 28.57% 31.43%,#85c261 31.43% 34.29%,#79c36a 34.29% 37.14%,#71c470 37.14% 40.00%,#7cc368 40.00% 42.86%,#7ac369 42.86% 45.71%,#7dc367 45.71% 48.57%,#ccbd3b 48.57% 51.43%,#cebd3b 51.43% 54.29%,#b5c03f 54.29% 57.14%,#d0bc3a 57.14% 60.00%,#5ec37d 60.00% 62.86%,#6dc473 62.86% 65.71%,#67c477 65.71% 68.57%,#5bc280 68.57% 71.43%,#4fc188 71.43% 74.29%,#c1be3d 74.29% 77.14%,#c4be3d 77.14% 80.00%,#b6bf3f 80.00% 82.86%,#a2c14c 82.86% 85.71%,#f3be31 85.71% 88.57%,#f3bd32 88.57% 91.43%,#f3bf31 91.43% 94.29%,#f3c030 94.29% 97.14%,#f3c030 97.14% 100.00%)"></div><div style="height:7.727px;background:linear-gradient(90deg,#babf3e 0.00% 2.86%,#aec043 2.86% 5.71%,#b3c040 5.71% 8.57%,#b2c040 8.57% 11.43%,#bbbf3e 11.43% 14.29%,#b7bf3f 14.29% 17.14%,#bebf3e 17.14% 20.00%,#b3c040 20.00% 22.86%,#b5c03f 22.86% 25.71%,#c3be3d 25.71% 28.57%,#75c36d 28.57% 31.43%,#7bc369 31.43% 34.29%,#71c470 34.29% 37.14%,#59c281 37.14% 40.00%,#66c478 40.00% 42.86%,#60c37c 42.86% 45.71%,#5fc37d 45.71% 48.57%,#59c281 48.57% 51.43%,#58c282 51.43% 54.29%,#68c477 54.29% 57.14%,#75c36d 57.14% 60.00%,#78c36b 60.00% 62.86%,#7cc368 62.86% 65.71%,#6cc474 65.71% 68.57%,#9ec14f 68.57% 71.43%,#a5c149 71.43% 74.29%,#a0c14d 74.29% 77.14%,#bfbe3e 77.14% 80.00%,#abc045 80.00% 82.86%,#97c154 82.86% 85.71%,#8cc25c 85.71% 88.57%,#91c258 88.57% 91.43%,#9cc150 91.43% 94.29%,#94c256 94.29% 97.14%,#7cc368 97.14% 100.00%)"></div><div style="height:7.727px;background:linear-gradient(90deg,#bdbf3e 0.00% 2.86%,#b3c040 2.86% 5.71%,#c9bd3c 5.71% 8.57%,#cabd3c 8.57% 11.43%,#c9bd3c 11.43% 14.29%,#c8bd3c 14.29% 17.14%,#b5c03f 17.14% 20.00%,#a8c147 20.00% 22.86%,#c3be3d 22.86% 25.71%,#c7bd3c 25.71% 28.57%,#77c36b 28.57% 31.43%,#6ac475 31.43% 34.29%,#87c260 34.29% 37.14%,#71c470 37.14% 40.00%,#6dc473 40.00% 42.86%,#65c379 42.86% 45.71%,#87c260 45.71% 48.57%,#6dc473 48.57% 51.43%,#68c477 51.43% 54.29%,#4cc08a 54.29% 57.14%,#5bc280 57.14% 60.00%,#67c477 60.00% 62.86%,#45bf8f 62.86% 65.71%,#57c283 65.71% 68.57%,#48c08d 68.57% 71.43%,#70c470 71.43% 74.29%,#61c37c 74.29% 77.14%,#69c476 77.14% 80.00%,#70c471 80.00% 82.86%,#63c37a 82.86% 85.71%,#60c37c 85.71% 88.57%,#79c36a 88.57% 91.43%,#80c365 91.43% 94.29%,#95c255 94.29% 97.14%,#98c153 97.14% 100.00%)"></div><div style="height:7.727px;background:linear-gradient(90deg,#b5c03f 0.00% 2.86%,#a0c14e 2.86% 5.71%,#bbbf3e 5.71% 8.57%,#bfbe3e 8.57% 11.43%,#bfbe3e 11.43% 14.29%,#bbbf3e 14.29% 17.14%,#b8bf3f 17.14% 20.00%,#acc045 20.00% 22.86%,#acc044 22.86% 25.71%,#a5c149 25.71% 28.57%,#85c261 28.57% 31.43%,#78c36b 31.43% 34.29%,#8cc25c 34.29% 37.14%,#74c36e 37.14% 40.00%,#75c36d 40.00% 42.86%,#6ec472 42.86% 45.71%,#76c36c 45.71% 48.57%,#8ac25d 48.57% 51.43%,#8cc25c 51.43% 54.29%,#90c259 54.29% 57.14%,#6cc474 57.14% 60.00%,#dcbb38 60.00% 62.86%,#dabb39 62.86% 65.71%,#d6bc39 65.71% 68.57%,#e0ba37 68.57% 71.43%,#dcbb38 71.43% 74.29%,#d5bc39 74.29% 77.14%,#f3be31 77.14% 80.00%,#f1b834 80.00% 82.86%,#f1b834 82.86% 85.71%,#f2b834 85.71% 88.57%,#f2b834 88.57% 91.43%,#eab936 91.43% 94.29%,#ddbb38 94.29% 97.14%,#cbbd3b 97.14% 100.00%)"></div><div style="height:7.727px;background:linear-gradient(90deg,#8bc25d 0.00% 2.86%,#b3c040 2.86% 5.71%,#c1be3d 5.71% 8.57%,#afc042 8.57% 11.43%,#adc043 11.43% 14.29%,#b4c040 14.29% 17.14%,#ccbd3b 17.14% 20.00%,#c5be3c 20.00% 22.86%,#c7bd3c 22.86% 25.71%,#b0c042 25.71% 28.57%,#40bf92 28.57% 31.43%,#4dc08a 31.43% 34.29%,#4dc08a 34.29% 37.14%,#40bf93 37.14% 40.00%,#30bd9e 40.00% 42.86%,#3dbe95 42.86% 45.71%,#7bc368 45.71% 48.57%,#79c36a 48.57% 51.43%,#b6bf3f 51.43% 54.29%,#acc044 54.29% 57.14%,#b6c03f 57.14% 60.00%,#b5c03f 60.00% 62.86%,#b0c041 62.86% 65.71%,#bfbe3e 65.71% 68.57%,#b4c040 68.57% 71.43%,#67c477 71.43% 74.29%,#81c364 74.29% 77.14%,#80c365 77.14% 80.00%,#67c477 80.00% 82.86%,#79c36a 82.86% 85.71%,#8bc25d 85.71% 88.57%,#7ec367 88.57% 91.43%,#7fc366 91.43% 94.29%,#77c36c 94.29% 97.14%,#afc042 97.14% 100.00%)"></div><div style="height:7.727px;background:linear-gradient(90deg,#c3be3d 0.00% 2.86%,#a9c047 2.86% 5.71%,#b1c041 5.71% 8.57%,#a1c14c 8.57% 11.43%,#b2c040 11.43% 14.29%,#b8bf3f 14.29% 17.14%,#b9bf3f 17.14% 20.00%,#f3c030 20.00% 22.86%,#eeb935 22.86% 25.71%,#a6c149 25.71% 28.57%,#63c37a 28.57% 31.43%,#62c37b 31.43% 34.29%,#7ac36a 34.29% 37.14%,#5cc27f 37.14% 40.00%,#32bd9d 40.00% 42.86%,#49c08d 42.86% 45.71%,#2fbc9f 45.71% 48.57%,#31bd9d 48.57% 51.43%,#30bd9e 51.43% 54.29%,#9cc150 54.29% 57.14%,#9cc150 57.14% 60.00%,#b1c041 60.00% 62.86%,#90c259 62.86% 65.71%,#6dc473 65.71% 68.57%,#8bc25d 68.57% 71.43%,#88c25f 71.43% 74.29%,#7cc368 74.29% 77.14%,#7ec366 77.14% 80.00%,#7ec367 80.00% 82.86%,#75c36d 82.86% 85.71%,#7cc368 85.71% 88.57%,#79c36a 88.57% 91.43%,#83c363 91.43% 94.29%,#78c36b 94.29% 97.14%,#83c363 97.14% 100.00%)"></div><div style="height:7.727px;background:linear-gradient(90deg,#89c25e 0.00% 2.86%,#b0c041 2.86% 5.71%,#88c25f 5.71% 8.57%,#9bc151 8.57% 11.43%,#97c154 11.43% 14.29%,#8dc25b 14.29% 17.14%,#e3ba37 17.14% 20.00%,#d0bc3a 20.00% 22.86%,#a5c14a 22.86% 25.71%,#abc045 25.71% 28.57%,#a5c149 28.57% 31.43%,#b4c040 31.43% 34.29%,#c4be3d 34.29% 37.14%,#7cc368 37.14% 40.00%,#5dc27e 40.00% 42.86%,#72c470 42.86% 45.71%,#6cc474 45.71% 48.57%,#74c36e 48.57% 51.43%,#a4c14a 51.43% 54.29%,#9fc14e 54.29% 57.14%,#a3c14b 57.14% 60.00%,#c1be3d 60.00% 62.86%,#a0c14d 62.86% 65.71%,#9fc14e 65.71% 68.57%,#b0c041 68.57% 71.43%,#a0c14d 71.43% 74.29%,#dfba37 74.29% 77.14%,#edb935 77.14% 80.00%,#dfba37 80.00% 82.86%,#eab936 82.86% 85.71%,#bebe3e 85.71% 88.57%,#b0c041 88.57% 91.43%,#b0c042 91.43% 94.29%,#a6c149 94.29% 97.14%,#abc045 97.14% 100.00%)"></div><div style="height:7.727px;background:linear-gradient(90deg,#b3c040 0.00% 2.86%,#b5c040 2.86% 5.71%,#b3c040 5.71% 8.57%,#acc044 8.57% 11.43%,#c0be3d 11.43% 14.29%,#b0c041 14.29% 17.14%,#adc044 17.14% 20.00%,#b1c041 20.00% 22.86%,#bebe3e 22.86% 25.71%,#b6c03f 25.71% 28.57%,#82c364 28.57% 31.43%,#85c261 31.43% 34.29%,#72c470 34.29% 37.14%,#81c364 37.14% 40.00%,#67c477 40.00% 42.86%,#77c36c 42.86% 45.71%,#76c36c 45.71% 48.57%,#73c36f 48.57% 51.43%,#6ac475 51.43% 54.29%,#84c362 54.29% 57.14%,#71c470 57.14% 60.00%,#73c36e 60.00% 62.86%,#68c477 62.86% 65.71%,#87c260 65.71% 68.57%,#87c260 68.57% 71.43%,#6bc475 71.43% 74.29%,#73c36f 74.29% 77.14%,#6fc472 77.14% 80.00%,#6bc475 80.00% 82.86%,#85c261 82.86% 85.71%,#7cc368 85.71% 88.57%,#88c25f 88.57% 91.43%,#7fc365 91.43% 94.29%,#71c470 94.29% 97.14%,#83c363 97.14% 100.00%)"></div><div style="height:7.727px;background:linear-gradient(90deg,#a2c14c 0.00% 2.86%,#b5c03f 2.86% 5.71%,#b3c040 5.71% 8.57%,#a1c14d 8.57% 11.43%,#a9c046 11.43% 14.29%,#b3c040 14.29% 17.14%,#d2bc3a 17.14% 20.00%,#d1bc3a 20.00% 22.86%,#dabb38 22.86% 25.71%,#c3be3d 25.71% 28.57%,#7bc369 28.57% 31.43%,#8cc25c 31.43% 34.29%,#77c36c 34.29% 37.14%,#67c477 37.14% 40.00%,#6ac475 40.00% 42.86%,#76c36d 42.86% 45.71%,#87c260 45.71% 48.57%,#84c262 48.57% 51.43%,#c3be3d 51.43% 54.29%,#b5c03f 54.29% 57.14%,#bbbf3e 57.14% 60.00%,#b4c040 60.00% 62.86%,#a4c14a 62.86% 65.71%,#b3c040 65.71% 68.57%,#a9c047 68.57% 71.43%,#bdbf3e 71.43% 74.29%,#d1bc3a 74.29% 77.14%,#bbbf3e 77.14% 80.00%,#b8bf3f 80.00% 82.86%,#85c261 82.86% 85.71%,#7ac36a 85.71% 88.57%,#81c364 88.57% 91.43%,#a0c14d 91.43% 94.29%,#9fc14e 94.29% 97.14%,#8bc25d 97.14% 100.00%)"></div><div style="height:7.727px;background:linear-gradient(90deg,#9dc14f 0.00% 2.86%,#81c364 2.86% 5.71%,#a2c14c 5.71% 8.57%,#90c259 8.57% 11.43%,#92c258 11.43% 14.29%,#dbbb38 14.29% 17.14%,#d6bc39 17.14% 20.00%,#e0ba37 20.00% 22.86%,#e1ba37 22.86% 25.71%,#b9bf3f 25.71% 28.57%,#8ac25d 28.57% 31.43%,#90c259 31.43% 34.29%,#6cc474 34.29% 37.14%,#86c260 37.14% 40.00%,#6ec472 40.00% 42.86%,#51c187 42.86% 45.71%,#44bf90 45.71% 48.57%,#2dbca0 48.57% 51.43%,#3ebe94 51.43% 54.29%,#51c187 54.29% 57.14%,#53c185 57.14% 60.00%,#55c184 60.00% 62.86%,#43bf91 62.86% 65.71%,#4bc08b 65.71% 68.57%,#4ac08c 68.57% 71.43%,#69c476 71.43% 74.29%,#74c36e 74.29% 77.14%,#5ac280 77.14% 80.00%,#5dc27e 80.00% 82.86%,#48c08d 82.86% 85.71%,#4dc08a 85.71% 88.57%,#57c283 88.57% 91.43%,#30bd9e 91.43% 94.29%,#58c282 94.29% 97.14%,#3abe97 97.14% 100.00%)"></div><div style="height:7.727px;background:linear-gradient(90deg,#63c37a 0.00% 2.86%,#acc045 2.86% 5.71%,#b7bf3f 5.71% 8.57%,#97c154 8.57% 11.43%,#9fc14e 11.43% 14.29%,#b4c040 14.29% 17.14%,#b2c040 17.14% 20.00%,#a0c14d 20.00% 22.86%,#9ac152 22.86% 25.71%,#b0c042 25.71% 28.57%,#6bc474 28.57% 31.43%,#72c36f 31.43% 34.29%,#63c37a 34.29% 37.14%,#6cc474 37.14% 40.00%,#76c36d 40.00% 42.86%,#78c36b 42.86% 45.71%,#83c363 45.71% 48.57%,#7cc368 48.57% 51.43%,#6cc473 51.43% 54.29%,#73c36e 54.29% 57.14%,#6dc473 57.14% 60.00%,#33bd9c 60.00% 62.86%,#34bd9b 62.86% 65.71%,#56c283 65.71% 68.57%,#4fc188 68.57% 71.43%,#52c186 71.43% 74.29%,#96c254 74.29% 77.14%,#84c362 77.14% 80.00%,#97c154 80.00% 82.86%,#8fc25a 82.86% 85.71%,#99c152 85.71% 88.57%,#c8bd3c 88.57% 91.43%,#cabd3b 91.43% 94.29%,#59c281 94.29% 97.14%,#78c36b 97.14% 100.00%)"></div></div>
<div class="hm" style="left:178.1px;top:395.3px;width:88.90px;height:87.90px"><div style="height:9.767px;background:linear-gradient(90deg,#babf3f 0.00% 2.86%,#c9bd3c 2.86% 5.71%,#c7bd3c 5.71% 8.57%,#b9bf3f 8.57% 11.43%,#d1bc3a 11.43% 14.29%,#c9bd3c 14.29% 17.14%,#91c258 17.14% 20.00%,#bcbf3e 20.00% 22.86%,#b0c041 22.86% 25.71%,#97c154 25.71% 28.57%,#a8c147 28.57% 31.43%,#65c379 31.43% 34.29%,#6fc471 34.29% 37.14%,#4ec089 37.14% 40.00%,#50c188 40.00% 42.86%,#49c08d 42.86% 45.71%,#5ec37d 45.71% 48.57%,#70c471 48.57% 51.43%,#40bf93 51.43% 54.29%,#20baa9 54.29% 57.14%,#18b2be 57.14% 60.00%,#16adc7 60.00% 62.86%,#17afc5 62.86% 65.71%,#19b4ba 65.71% 68.57%,#17afc5 68.57% 71.43%,#4dc089 71.43% 74.29%,#4cc08b 74.29% 77.14%,#55c184 77.14% 80.00%,#6dc473 80.00% 82.86%,#4bc08b 82.86% 85.71%,#b7bf3f 85.71% 88.57%,#adc044 88.57% 91.43%,#a7c148 91.43% 94.29%,#a8c148 94.29% 97.14%,#bebe3e 97.14% 100.00%)"></div><div style="height:9.767px;background:linear-gradient(90deg,#cebc3b 0.00% 2.86%,#c9bd3c 2.86% 5.71%,#d0bc3a 5.71% 8.57%,#c9bd3c 8.57% 11.43%,#b6c03f 11.43% 14.29%,#b3c040 14.29% 17.14%,#c2be3d 17.14% 20.00%,#c4be3d 20.00% 22.86%,#ccbd3b 22.86% 25.71%,#d1bc3a 25.71% 28.57%,#ccbd3b 28.57% 31.43%,#a6c149 31.43% 34.29%,#96c254 34.29% 37.14%,#97c154 37.14% 40.00%,#9dc150 40.00% 42.86%,#8dc25b 42.86% 45.71%,#9dc150 45.71% 48.57%,#a1c14d 48.57% 51.43%,#6ac476 51.43% 54.29%,#61c37c 54.29% 57.14%,#63c37a 57.14% 60.00%,#6fc472 60.00% 62.86%,#6cc474 62.86% 65.71%,#69c476 65.71% 68.57%,#63c37a 68.57% 71.43%,#4fc188 71.43% 74.29%,#4cc08a 74.29% 77.14%,#5ac280 77.14% 80.00%,#5bc280 80.00% 82.86%,#28bca3 82.86% 85.71%,#3dbe95 85.71% 88.57%,#40bf93 88.57% 91.43%,#35bd9a 91.43% 94.29%,#39be97 94.29% 97.14%,#26bba5 97.14% 100.00%)"></div><div style="height:9.767px;background:linear-gradient(90deg,#9ec14f 0.00% 2.86%,#b5c03f 2.86% 5.71%,#acc044 5.71% 8.57%,#b6bf3f 8.57% 11.43%,#b8bf3f 11.43% 14.29%,#b8bf3f 14.29% 17.14%,#b6c03f 17.14% 20.00%,#efb835 20.00% 22.86%,#eeb835 22.86% 25.71%,#efb835 25.71% 28.57%,#e3ba37 28.57% 31.43%,#7ac369 31.43% 34.29%,#7cc368 34.29% 37.14%,#8dc25c 37.14% 40.00%,#97c154 40.00% 42.86%,#88c25f 42.86% 45.71%,#17aec5 45.71% 48.57%,#14a9d0 48.57% 51.43%,#14aacf 51.43% 54.29%,#198fe2 54.29% 57.14%,#1991e2 57.14% 60.00%,#1a8de3 60.00% 62.86%,#1697df 62.86% 65.71%,#1795e0 65.71% 68.57%,#1893e1 68.57% 71.43%,#1f7fe8 71.43% 74.29%,#1f7de8 74.29% 77.14%,#1892e1 77.14% 80.00%,#59c281 80.00% 82.86%,#43bf91 82.86% 85.71%,#b4c040 85.71% 88.57%,#aac046 88.57% 91.43%,#adc044 91.43% 94.29%,#a7c148 94.29% 97.14%,#9ec14f 97.14% 100.00%)"></div><div style="height:9.767px;background:linear-gradient(90deg,#d4bc3a 0.00% 2.86%,#cfbc3b 2.86% 5.71%,#cfbc3b 5.71% 8.57%,#afc043 8.57% 11.43%,#c5be3c 11.43% 14.29%,#aac046 14.29% 17.14%,#c8bd3c 17.14% 20.00%,#abc045 20.00% 22.86%,#c4be3d 22.86% 25.71%,#afc042 25.71% 28.57%,#d4bc3a 28.57% 31.43%,#32bd9c 31.43% 34.29%,#1bb9ae 34.29% 37.14%,#33bd9c 37.14% 40.00%,#2bbca1 40.00% 42.86%,#1ab5b6 42.86% 45.71%,#56c283 45.71% 48.57%,#57c283 48.57% 51.43%,#35bd9a 51.43% 54.29%,#babf3f 54.29% 57.14%,#a8c147 57.14% 60.00%,#9ac152 60.00% 62.86%,#31bd9d 62.86% 65.71%,#1fbaaa 65.71% 68.57%,#44bf90 68.57% 71.43%,#3ebe94 71.43% 74.29%,#5bc280 74.29% 77.14%,#64c37a 77.14% 80.00%,#f3c130 80.00% 82.86%,#f4c82c 82.86% 85.71%,#f5cd2a 85.71% 88.57%,#f5d228 88.57% 91.43%,#f3c22f 91.43% 94.29%,#f2bb33 94.29% 97.14%,#f1b834 97.14% 100.00%)"></div><div style="height:9.767px;background:linear-gradient(90deg,#d6bb39 0.00% 2.86%,#b6c03f 2.86% 5.71%,#c0be3d 5.71% 8.57%,#abc045 8.57% 11.43%,#a1c14c 11.43% 14.29%,#7ec367 14.29% 17.14%,#c1be3d 17.14% 20.00%,#b9bf3f 20.00% 22.86%,#c0be3d 22.86% 25.71%,#cabd3b 25.71% 28.57%,#d9bb39 28.57% 31.43%,#76c36c 31.43% 34.29%,#92c258 34.29% 37.14%,#7fc366 37.14% 40.00%,#9ec14f 40.00% 42.86%,#9ac152 42.86% 45.71%,#45bf8f 45.71% 48.57%,#44bf90 48.57% 51.43%,#33bd9c 51.43% 54.29%,#1ebaaa 54.29% 57.14%,#37be99 57.14% 60.00%,#29bca3 60.00% 62.86%,#1fbaaa 62.86% 65.71%,#1bb8af 65.71% 68.57%,#41bf92 68.57% 71.43%,#c9bd3c 71.43% 74.29%,#bbbf3e 74.29% 77.14%,#bfbe3e 77.14% 80.00%,#bbbf3e 80.00% 82.86%,#b8bf3f 82.86% 85.71%,#d7bb39 85.71% 88.57%,#cabd3b 88.57% 91.43%,#c3be3d 91.43% 94.29%,#c4be3d 94.29% 97.14%,#c1be3d 97.14% 100.00%)"></div><div style="height:9.767px;background:linear-gradient(90deg,#43bf91 0.00% 2.86%,#c2be3d 2.86% 5.71%,#abc045 5.71% 8.57%,#bbbf3e 8.57% 11.43%,#d0bc3a 11.43% 14.29%,#c8bd3c 14.29% 17.14%,#bfbe3d 17.14% 20.00%,#babf3e 20.00% 22.86%,#b7bf3f 22.86% 25.71%,#afc043 25.71% 28.57%,#b6c03f 28.57% 31.43%,#54c184 31.43% 34.29%,#50c188 34.29% 37.14%,#55c184 37.14% 40.00%,#82c363 40.00% 42.86%,#80c365 42.86% 45.71%,#50c187 45.71% 48.57%,#61c37c 48.57% 51.43%,#54c185 51.43% 54.29%,#86c261 54.29% 57.14%,#93c257 57.14% 60.00%,#35bd9b 60.00% 62.86%,#40bf93 62.86% 65.71%,#31bd9d 65.71% 68.57%,#43bf90 68.57% 71.43%,#30bd9e 71.43% 74.29%,#16adc9 74.29% 77.14%,#16aec6 77.14% 80.00%,#15acca 80.00% 82.86%,#42bf91 82.86% 85.71%,#52c186 85.71% 88.57%,#3fbf93 88.57% 91.43%,#55c184 91.43% 94.29%,#7dc368 94.29% 97.14%,#98c153 97.14% 100.00%)"></div><div style="height:9.767px;background:linear-gradient(90deg,#b4c040 0.00% 2.86%,#b9bf3f 2.86% 5.71%,#adc044 5.71% 8.57%,#9ac152 8.57% 11.43%,#ddbb38 11.43% 14.29%,#dbbb38 14.29% 17.14%,#d6bb39 17.14% 20.00%,#b6bf3f 20.00% 22.86%,#9bc151 22.86% 25.71%,#99c153 25.71% 28.57%,#a2c14c 28.57% 31.43%,#59c281 31.43% 34.29%,#29bca3 34.29% 37.14%,#35bd9a 37.14% 40.00%,#77c36c 40.00% 42.86%,#7cc368 42.86% 45.71%,#64c379 45.71% 48.57%,#69c476 48.57% 51.43%,#7ec367 51.43% 54.29%,#5ec37e 54.29% 57.14%,#54c185 57.14% 60.00%,#5dc27e 60.00% 62.86%,#74c36e 62.86% 65.71%,#60c37c 65.71% 68.57%,#6dc473 68.57% 71.43%,#52c186 71.43% 74.29%,#7ac36a 74.29% 77.14%,#81c365 77.14% 80.00%,#7dc367 80.00% 82.86%,#afc042 82.86% 85.71%,#d4bc3a 85.71% 88.57%,#d0bc3a 88.57% 91.43%,#b2c040 91.43% 94.29%,#bbbf3e 94.29% 97.14%,#afc042 97.14% 100.00%)"></div><div style="height:9.767px;background:linear-gradient(90deg,#e2ba37 0.00% 2.86%,#ebb935 2.86% 5.71%,#dcbb38 5.71% 8.57%,#b9bf3f 8.57% 11.43%,#bfbe3e 11.43% 14.29%,#9bc151 14.29% 17.14%,#a1c14d 17.14% 20.00%,#bfbe3e 20.00% 22.86%,#c0be3d 22.86% 25.71%,#a7c148 25.71% 28.57%,#c3be3d 28.57% 31.43%,#70c471 31.43% 34.29%,#4fc188 34.29% 37.14%,#75c36d 37.14% 40.00%,#58c282 40.00% 42.86%,#41bf92 42.86% 45.71%,#5bc280 45.71% 48.57%,#30bd9e 48.57% 51.43%,#5cc27f 51.43% 54.29%,#42bf91 54.29% 57.14%,#50c188 57.14% 60.00%,#3fbf93 60.00% 62.86%,#4ec189 62.86% 65.71%,#3bbe96 65.71% 68.57%,#4fc188 68.57% 71.43%,#47c08e 71.43% 74.29%,#50c187 74.29% 77.14%,#2fbd9e 77.14% 80.00%,#47c08e 80.00% 82.86%,#2cbca1 82.86% 85.71%,#8fc25a 85.71% 88.57%,#7ec367 88.57% 91.43%,#88c25f 91.43% 94.29%,#7bc368 94.29% 97.14%,#6cc474 97.14% 100.00%)"></div><div style="height:9.767px;background:linear-gradient(90deg,#d4bc3a 0.00% 2.86%,#c9bd3c 2.86% 5.71%,#d4bc3a 5.71% 8.57%,#c6bd3c 8.57% 11.43%,#bbbf3e 11.43% 14.29%,#babf3e 14.29% 17.14%,#ccbd3b 17.14% 20.00%,#cebd3b 20.00% 22.86%,#cbbd3b 22.86% 25.71%,#b2c040 25.71% 28.57%,#b4c040 28.57% 31.43%,#2dbca0 31.43% 34.29%,#1cbaad 34.29% 37.14%,#23bba7 37.14% 40.00%,#2cbca1 40.00% 42.86%,#20bba9 42.86% 45.71%,#5ac280 45.71% 48.57%,#6cc474 48.57% 51.43%,#73c36f 51.43% 54.29%,#60c37d 54.29% 57.14%,#7bc369 57.14% 60.00%,#4fc188 60.00% 62.86%,#51c187 62.86% 65.71%,#32bd9d 65.71% 68.57%,#52c186 68.57% 71.43%,#34bd9b 71.43% 74.29%,#8bc25d 74.29% 77.14%,#75c36d 77.14% 80.00%,#8ec25a 80.00% 82.86%,#7ec366 82.86% 85.71%,#6fc471 85.71% 88.57%,#94c256 88.57% 91.43%,#98c153 91.43% 94.29%,#94c256 94.29% 97.14%,#e4ba37 97.14% 100.00%)"></div></div>
<div class="hm" style="left:437px;top:395.2px;width:95.00px;height:90.10px"><div style="height:8.191px;background:linear-gradient(90deg,#8ec25b 0.00% 2.86%,#b5c03f 2.86% 5.71%,#b9bf3f 5.71% 8.57%,#9dc150 8.57% 11.43%,#96c254 11.43% 14.29%,#c2be3d 14.29% 17.14%,#bdbf3e 17.14% 20.00%,#a1c14c 20.00% 22.86%,#a1c14d 22.86% 25.71%,#c4be3d 25.71% 28.57%,#6dc473 28.57% 31.43%,#6dc473 31.43% 34.29%,#98c153 34.29% 37.14%,#97c154 37.14% 40.00%,#68c477 40.00% 42.86%,#75c36d 42.86% 45.71%,#9bc151 45.71% 48.57%,#79c36b 48.57% 51.43%,#4ac08b 51.43% 54.29%,#4ec189 54.29% 57.14%,#4cc08b 57.14% 60.00%,#27bba4 60.00% 62.86%,#76c36c 62.86% 65.71%,#7bc368 65.71% 68.57%,#66c478 68.57% 71.43%,#5fc37d 71.43% 74.29%,#76c36c 74.29% 77.14%,#86c261 77.14% 80.00%,#4ec189 80.00% 82.86%,#21bba9 82.86% 85.71%,#43bf91 85.71% 88.57%,#32bd9c 88.57% 91.43%,#51c187 91.43% 94.29%,#50c187 94.29% 97.14%,#32bd9c 97.14% 100.00%)"></div><div style="height:8.191px;background:linear-gradient(90deg,#a5c14a 0.00% 2.86%,#a4c14a 2.86% 5.71%,#77c36c 5.71% 8.57%,#f0b834 8.57% 11.43%,#f3c32f 11.43% 14.29%,#a3c14b 14.29% 17.14%,#aec043 17.14% 20.00%,#86c260 20.00% 22.86%,#76c36c 22.86% 25.71%,#90c259 25.71% 28.57%,#14aacf 28.57% 31.43%,#18b1bf 31.43% 34.29%,#1990e2 34.29% 37.14%,#1e81e8 37.14% 40.00%,#1697df 40.00% 42.86%,#1697df 42.86% 45.71%,#1699de 45.71% 48.57%,#1c86e6 48.57% 51.43%,#1990e2 51.43% 54.29%,#1d84e6 54.29% 57.14%,#1796e0 57.14% 60.00%,#1892e1 60.00% 62.86%,#159ade 62.86% 65.71%,#1d84e6 65.71% 68.57%,#1c87e5 68.57% 71.43%,#1d82e7 71.43% 74.29%,#159bde 74.29% 77.14%,#1893e1 77.14% 80.00%,#1d84e6 80.00% 82.86%,#2376e8 82.86% 85.71%,#266ee8 85.71% 88.57%,#276de8 88.57% 91.43%,#159bde 91.43% 94.29%,#1699de 94.29% 97.14%,#1892e1 97.14% 100.00%)"></div><div style="height:8.191px;background:linear-gradient(90deg,#a6c149 0.00% 2.86%,#abc045 2.86% 5.71%,#abc045 5.71% 8.57%,#a0c14e 8.57% 11.43%,#9fc14e 11.43% 14.29%,#b5c03f 14.29% 17.14%,#cabd3b 17.14% 20.00%,#b6bf3f 20.00% 22.86%,#acc044 22.86% 25.71%,#97c254 25.71% 28.57%,#73c36f 28.57% 31.43%,#4ec189 31.43% 34.29%,#4dc08a 34.29% 37.14%,#67c477 37.14% 40.00%,#71c470 40.00% 42.86%,#42bf92 42.86% 45.71%,#3fbf93 45.71% 48.57%,#48c08d 48.57% 51.43%,#61c37c 51.43% 54.29%,#43bf90 54.29% 57.14%,#2abca2 57.14% 60.00%,#4cc08b 60.00% 62.86%,#43bf91 62.86% 65.71%,#1cbaad 65.71% 68.57%,#1cb9ae 68.57% 71.43%,#2bbca1 71.43% 74.29%,#f1b834 74.29% 77.14%,#e3ba37 77.14% 80.00%,#f2b834 80.00% 82.86%,#e2ba37 82.86% 85.71%,#f9f218 85.71% 88.57%,#f9ec1b 88.57% 91.43%,#faf616 91.43% 94.29%,#f9ee1a 94.29% 97.14%,#f3c32f 97.14% 100.00%)"></div><div style="height:8.191px;background:linear-gradient(90deg,#95c256 0.00% 2.86%,#72c470 2.86% 5.71%,#c5be3c 5.71% 8.57%,#bdbf3e 8.57% 11.43%,#c7bd3c 11.43% 14.29%,#c4be3d 14.29% 17.14%,#aac046 17.14% 20.00%,#bebf3e 20.00% 22.86%,#c6be3c 22.86% 25.71%,#a8c147 25.71% 28.57%,#5ac281 28.57% 31.43%,#50c188 31.43% 34.29%,#30bd9e 34.29% 37.14%,#28bca3 37.14% 40.00%,#3dbe95 40.00% 42.86%,#71c470 42.86% 45.71%,#71c470 45.71% 48.57%,#51c186 48.57% 51.43%,#6fc472 51.43% 54.29%,#6cc474 54.29% 57.14%,#55c184 57.14% 60.00%,#69c476 60.00% 62.86%,#71c470 62.86% 65.71%,#76c36c 65.71% 68.57%,#51c187 68.57% 71.43%,#4fc188 71.43% 74.29%,#75c36d 74.29% 77.14%,#85c261 77.14% 80.00%,#6cc473 80.00% 82.86%,#80c365 82.86% 85.71%,#78c36b 85.71% 88.57%,#6bc474 88.57% 91.43%,#88c25f 91.43% 94.29%,#72c46f 94.29% 97.14%,#94c256 97.14% 100.00%)"></div><div style="height:8.191px;background:linear-gradient(90deg,#dfba38 0.00% 2.86%,#bbbf3e 2.86% 5.71%,#c8bd3c 5.71% 8.57%,#e1ba37 8.57% 11.43%,#bbbf3e 11.43% 14.29%,#c4be3d 14.29% 17.14%,#babf3e 17.14% 20.00%,#bcbf3e 20.00% 22.86%,#cabd3c 22.86% 25.71%,#bdbf3e 25.71% 28.57%,#5bc280 28.57% 31.43%,#30bd9e 31.43% 34.29%,#56c184 34.29% 37.14%,#61c37c 37.14% 40.00%,#56c283 40.00% 42.86%,#198ee3 42.86% 45.71%,#1990e2 45.71% 48.57%,#13a3db 48.57% 51.43%,#159cdd 51.43% 54.29%,#1894e1 54.29% 57.14%,#198fe2 57.14% 60.00%,#1b89e5 60.00% 62.86%,#149edd 62.86% 65.71%,#1699df 65.71% 68.57%,#1a8ce4 68.57% 71.43%,#1a8be4 71.43% 74.29%,#12a5da 74.29% 77.14%,#13a3db 77.14% 80.00%,#1c88e5 80.00% 82.86%,#1a8ce3 82.86% 85.71%,#1796e0 85.71% 88.57%,#1b8ae4 88.57% 91.43%,#1796e0 91.43% 94.29%,#2179e8 94.29% 97.14%,#2276e8 97.14% 100.00%)"></div><div style="height:8.191px;background:linear-gradient(90deg,#75c36d 0.00% 2.86%,#4ec089 2.86% 5.71%,#dcbb38 5.71% 8.57%,#d3bc3a 8.57% 11.43%,#b2c040 11.43% 14.29%,#dbbb38 14.29% 17.14%,#f3c32f 17.14% 20.00%,#e8b936 20.00% 22.86%,#f2b934 22.86% 25.71%,#b1c040 25.71% 28.57%,#70c471 28.57% 31.43%,#8dc25c 31.43% 34.29%,#98c153 34.29% 37.14%,#7fc366 37.14% 40.00%,#7bc369 40.00% 42.86%,#64c37a 42.86% 45.71%,#72c470 45.71% 48.57%,#7ec367 48.57% 51.43%,#99c152 51.43% 54.29%,#b2c040 54.29% 57.14%,#65c379 57.14% 60.00%,#81c364 60.00% 62.86%,#eeb835 62.86% 65.71%,#f2b933 65.71% 68.57%,#f1b834 68.57% 71.43%,#e9b936 71.43% 74.29%,#b1c040 74.29% 77.14%,#bebe3e 77.14% 80.00%,#b8bf3f 80.00% 82.86%,#99c153 82.86% 85.71%,#90c259 85.71% 88.57%,#69c476 88.57% 91.43%,#7fc366 91.43% 94.29%,#7cc368 94.29% 97.14%,#62c37b 97.14% 100.00%)"></div><div style="height:8.191px;background:linear-gradient(90deg,#bcbf3e 0.00% 2.86%,#acc045 2.86% 5.71%,#d4bc3a 5.71% 8.57%,#b8bf3f 8.57% 11.43%,#babf3e 11.43% 14.29%,#c0be3d 14.29% 17.14%,#c6be3c 17.14% 20.00%,#b6c03f 20.00% 22.86%,#b3c040 22.86% 25.71%,#b6c03f 25.71% 28.57%,#58c282 28.57% 31.43%,#4cc08a 31.43% 34.29%,#2bbca2 34.29% 37.14%,#2abca2 37.14% 40.00%,#19b3bb 40.00% 42.86%,#1bb8b1 42.86% 45.71%,#1ab6b6 45.71% 48.57%,#19b3ba 48.57% 51.43%,#28bca4 51.43% 54.29%,#1bb8b0 54.29% 57.14%,#1a8de3 57.14% 60.00%,#169ade 60.00% 62.86%,#159bde 62.86% 65.71%,#1a8ce3 65.71% 68.57%,#1794e0 68.57% 71.43%,#1a8ce4 71.43% 74.29%,#1a8be4 74.29% 77.14%,#1a8ce4 77.14% 80.00%,#207be8 80.00% 82.86%,#2278e8 82.86% 85.71%,#1a8ce3 85.71% 88.57%,#12a5d9 88.57% 91.43%,#169ade 91.43% 94.29%,#1893e1 94.29% 97.14%,#169ade 97.14% 100.00%)"></div><div style="height:8.191px;background:linear-gradient(90deg,#a7c148 0.00% 2.86%,#76c36c 2.86% 5.71%,#a3c14b 5.71% 8.57%,#82c364 8.57% 11.43%,#d9bb39 11.43% 14.29%,#f1b834 14.29% 17.14%,#dfba37 17.14% 20.00%,#c8bd3c 20.00% 22.86%,#9ac152 22.86% 25.71%,#9cc150 25.71% 28.57%,#16aec6 28.57% 31.43%,#12a6d9 31.43% 34.29%,#17b0c2 34.29% 37.14%,#14aacf 37.14% 40.00%,#19b3bb 40.00% 42.86%,#14aacf 42.86% 45.71%,#16aec6 45.71% 48.57%,#14a8d3 48.57% 51.43%,#14a9d2 51.43% 54.29%,#a6c149 54.29% 57.14%,#97c154 57.14% 60.00%,#a8c147 60.00% 62.86%,#99c152 62.86% 65.71%,#6bc474 65.71% 68.57%,#54c185 68.57% 71.43%,#5ec37e 71.43% 74.29%,#5fc37d 74.29% 77.14%,#68c477 77.14% 80.00%,#86c261 80.00% 82.86%,#85c261 82.86% 85.71%,#67c477 85.71% 88.57%,#73c36e 88.57% 91.43%,#7bc369 91.43% 94.29%,#7ec367 94.29% 97.14%,#70c471 97.14% 100.00%)"></div><div style="height:8.191px;background:linear-gradient(90deg,#eab936 0.00% 2.86%,#f2bc32 2.86% 5.71%,#efb835 5.71% 8.57%,#9dc150 8.57% 11.43%,#9ec14f 11.43% 14.29%,#bebf3e 14.29% 17.14%,#7fc366 17.14% 20.00%,#81c364 20.00% 22.86%,#88c25f 22.86% 25.71%,#83c363 25.71% 28.57%,#17b0c2 28.57% 31.43%,#15abcd 31.43% 34.29%,#14aacf 34.29% 37.14%,#18b2bd 37.14% 40.00%,#14a8d3 40.00% 42.86%,#1ab6b5 42.86% 45.71%,#84c362 45.71% 48.57%,#51c187 48.57% 51.43%,#70c471 51.43% 54.29%,#a2c14c 54.29% 57.14%,#7cc368 57.14% 60.00%,#a8c147 60.00% 62.86%,#85c261 62.86% 65.71%,#73c36e 65.71% 68.57%,#73c36e 68.57% 71.43%,#82c364 71.43% 74.29%,#81c364 74.29% 77.14%,#97c154 77.14% 80.00%,#b5c03f 80.00% 82.86%,#c2be3d 82.86% 85.71%,#85c261 85.71% 88.57%,#76c36d 88.57% 91.43%,#65c479 91.43% 94.29%,#94c256 94.29% 97.14%,#74c36e 97.14% 100.00%)"></div><div style="height:8.191px;background:linear-gradient(90deg,#34bd9b 0.00% 2.86%,#f5cc2a 2.86% 5.71%,#f5d128 5.71% 8.57%,#f7e120 8.57% 11.43%,#f7de22 11.43% 14.29%,#84c362 14.29% 17.14%,#a8c147 17.14% 20.00%,#afc042 20.00% 22.86%,#a8c147 22.86% 25.71%,#aac046 25.71% 28.57%,#1ab6b5 28.57% 31.43%,#1cb9ae 31.43% 34.29%,#2fbc9f 34.29% 37.14%,#26bba5 37.14% 40.00%,#217ae8 40.00% 42.86%,#1f7ee8 42.86% 45.71%,#1d82e7 45.71% 48.57%,#1f7de8 48.57% 51.43%,#1d82e7 51.43% 54.29%,#2dbca0 54.29% 57.14%,#5bc280 57.14% 60.00%,#35bd9b 60.00% 62.86%,#60c37c 62.86% 65.71%,#30bd9e 65.71% 68.57%,#1ab7b3 68.57% 71.43%,#1ab5b7 71.43% 74.29%,#34bd9b 74.29% 77.14%,#77c36b 77.14% 80.00%,#8ac25d 80.00% 82.86%,#8dc25c 82.86% 85.71%,#80c365 85.71% 88.57%,#8ac25d 88.57% 91.43%,#87c260 91.43% 94.29%,#83c363 94.29% 97.14%,#6cc474 97.14% 100.00%)"></div><div style="height:8.191px;background:linear-gradient(90deg,#c3be3d 0.00% 2.86%,#bebf3e 2.86% 5.71%,#9ac152 5.71% 8.57%,#aec043 8.57% 11.43%,#a1c14c 11.43% 14.29%,#b2c040 14.29% 17.14%,#a8c147 17.14% 20.00%,#a4c14a 20.00% 22.86%,#9ec14e 22.86% 25.71%,#bfbe3e 25.71% 28.57%,#3cbe96 28.57% 31.43%,#26bba5 31.43% 34.29%,#47c08e 34.29% 37.14%,#60c37c 37.14% 40.00%,#3dbe95 40.00% 42.86%,#12a6d8 42.86% 45.71%,#149edd 45.71% 48.57%,#13a1dc 48.57% 51.43%,#1892e1 51.43% 54.29%,#198ee3 54.29% 57.14%,#27bba4 57.14% 60.00%,#1ab5b6 60.00% 62.86%,#23bba7 62.86% 65.71%,#18b2be 65.71% 68.57%,#36bd9a 68.57% 71.43%,#54c184 71.43% 74.29%,#74c36e 74.29% 77.14%,#6dc473 77.14% 80.00%,#70c471 80.00% 82.86%,#74c36e 82.86% 85.71%,#3fbf94 85.71% 88.57%,#68c477 88.57% 91.43%,#48c08d 91.43% 94.29%,#75c36d 94.29% 97.14%,#72c46f 97.14% 100.00%)"></div></div><svg width="685" height="671" viewBox="0 0 685 671" font-family="Liberation Sans, sans-serif">
<defs>
<radialGradient id="gglow" cx="0.5" cy="0.5" r="0.5"><stop offset="0" stop-color="#2f7a22" stop-opacity="0.85"/><stop offset="1" stop-color="#2f7a22" stop-opacity="0"/></radialGradient>
<radialGradient id="gglow2" cx="0.5" cy="0.5" r="0.5"><stop offset="0" stop-color="#2c8a20" stop-opacity="0.9"/><stop offset="1" stop-color="#2c8a20" stop-opacity="0"/></radialGradient>
<radialGradient id="redhaze" cx="0.5" cy="0.5" r="0.5"><stop offset="0" stop-color="#5a2a10" stop-opacity="0.7"/><stop offset="1" stop-color="#5a2a10" stop-opacity="0"/></radialGradient>
<radialGradient id="bluenuc" cx="0.5" cy="0.5" r="0.5"><stop offset="0" stop-color="#2a3cff"/><stop offset="0.6" stop-color="#1a2ab0"/><stop offset="1" stop-color="#000018" stop-opacity="0"/></radialGradient>
<radialGradient id="gcell" cx="0.5" cy="0.5" r="0.5"><stop offset="0" stop-color="#20ff20"/><stop offset="0.75" stop-color="#18e818"/><stop offset="1" stop-color="#0a3a0a"/></radialGradient>
<radialGradient id="rcell" cx="0.5" cy="0.5" r="0.5"><stop offset="0" stop-color="#ff1010"/><stop offset="0.7" stop-color="#f01010"/><stop offset="1" stop-color="#3a0505"/></radialGradient>
<filter id="gtexA" x="0" y="0" width="1" height="1" color-interpolation-filters="sRGB"><feTurbulence type="fractalNoise" baseFrequency="0.38" numOctaves="2" seed="3"/><feColorMatrix values="0 0 0 0 0.15  0 0 0 0 0.38  0 0 0 0 0.08  1.9 0 0 0 -0.62"/></filter>
<filter id="gtexB" x="0" y="0" width="1" height="1" color-interpolation-filters="sRGB"><feTurbulence type="fractalNoise" baseFrequency="0.38" numOctaves="2" seed="8"/><feColorMatrix values="0 0 0 0 0.06  0 0 0 0 0.36  0 0 0 0 0.05  2.0 0 0 0 -0.6"/></filter>
<filter id="bl5"><feGaussianBlur stdDeviation="0.45"/></filter><filter id="bl15" x="-50%" y="-50%" width="200%" height="200%"><feGaussianBlur stdDeviation="1.6"/></filter>
<linearGradient id="glinA" x1="0" y1="0" x2="0" y2="1"><stop offset="0.45" stop-color="#1a5a1c" stop-opacity="0"/><stop offset="0.75" stop-color="#1a5a1c" stop-opacity="0.55"/><stop offset="1" stop-color="#1a5a1c" stop-opacity="0.7"/></linearGradient>
<linearGradient id="glinB" x1="0" y1="0" x2="0" y2="1"><stop offset="0.4" stop-color="#1a601c" stop-opacity="0"/><stop offset="0.7" stop-color="#1a601c" stop-opacity="0.7"/><stop offset="1" stop-color="#1a601c" stop-opacity="0.85"/></linearGradient>
<filter id="btex" x="0" y="0" width="1" height="1" color-interpolation-filters="sRGB"><feTurbulence type="fractalNoise" baseFrequency="0.7" numOctaves="2" seed="5"/><feColorMatrix values="0 0 0 0 0.08  0 0 0 0 0.2  0 0 0 0 0.6  2.4 0 0 0 -1.0"/></filter>
<linearGradient id="probe" x1="0" x2="1"><stop offset="0" stop-color="#5a5a5a"/><stop offset="0.45" stop-color="#9a9a9a"/><stop offset="1" stop-color="#5a5a5a"/></linearGradient>
</defs>
<text x="5.0" y="7.3" font-size="11" fill="#111" text-anchor="start" font-weight="bold" >a</text>
<text x="101.0" y="15.9" font-size="10.1" fill="#1fbd1f" text-anchor="middle" font-weight="normal" stroke="#1fbd1f" stroke-width="0.1">AAV-FLEX-GCaMP7s</text>
<path d="M48,66.7 C48.5,63.5 50,62.3 51.5,62.3 C54,62 57,61 59.7,59.4 C62,57 63.5,55.5 65.5,54.3 C69,52 72,50.5 76.5,49.2 C80,48 84,47.3 88.2,47 C93,46.4 97,46.2 101.3,46.3 C105,46.6 108,47.4 110,48.5 C111,49.8 112,50.8 113,51.4 C116,50.3 119,49.8 121.8,50 C125,50.2 128,50.6 129.5,51.8 C131.5,53 132.6,54.5 133,56.5 C133.8,62 133.8,72 133.4,78.4 C133,83 132.8,86 132,88.6 C131,91 129.5,92.2 127.6,92.3 C123,92.5 119,92.2 115.9,91.5 C112,90.6 110,89.3 108.6,88.6 C105,89.8 102,90.6 98.4,90.8 C93,91.3 88,91.6 83.8,91.5 C80,91.2 77,90.7 75,90 C72,89 69.5,87.8 67.7,86.4 C65,84.5 63.5,83 61.9,81.3 C59,79.5 56.5,78.2 54.6,77 C52,75.5 50,74 48.8,72.6 C48,70.8 47.8,68.5 48,66.7 Z" fill="#3f4749"/>
<path d="M48.8,72.6 C50,74 52,75.5 54.6,77 C56.5,78.2 59,79.5 61.9,81.3 C63.5,83 65,84.5 67.7,86.4 C69.5,87.8 72,89 75,90 C77,90.7 80,91.2 83.8,91.5 C88,91.6 93,91.3 98.4,90.8 C102,90.6 105,89.8 108.6,88.6 C109.5,86 109.5,83 108.6,81.3 C104,83.5 101,84.2 98.4,84.2 C92,84.6 84,84.8 76.5,84.2 C71,82 66,79 61.9,75.5 C59,73 56,70.5 54,69 C51,69.8 49.5,71 48.8,72.6 Z" fill="#5a6265"/>
<path d="M48,66.7 C48.5,63.5 50,62.3 51.5,62.3 C54.5,62.5 57.5,64 59,66.5 C60,69 59.5,71.5 58,73 C55,73.5 51,71.5 48.8,72.6 C48,70.8 47.8,68.5 48,66.7 Z" fill="#4d5558"/>
<path d="M113,51.4 C116,50.3 119,49.8 121.8,50 C125,50.2 128,50.6 129.5,51.8 C131.5,53 132.6,54.5 133,56.5 C133.8,62 133.8,72 133.4,78.4 C133,83 132.8,86 132,88.6 C131,91 129.5,92.2 127.6,92.3 C123,92.5 119,92.2 115.9,91.5 C113,88 111.5,80 111.5,70 C111.5,62 112,56 113,51.4 Z" fill="#36393b"/>
<path d="M111.8,72 C114.5,71 116.5,73 116.5,76 C116.5,79 114.5,82 112.5,83.5 C111.8,80 111.6,76 111.8,72 Z" fill="#5d6669"/>
<path d="M116,86.5 C119,84.5 124,84.5 128,86 C129.5,87 130,88.5 129.8,90 C126,91.5 121,91.5 117,90.5 C116,89.5 115.8,88 116,86.5 Z" fill="#586164"/>
<path d="M122,63 C125,61 129,61.5 131,63.5 C130,66 127,67 124,66.5 C122.5,66 121.8,64.5 122,63 Z" fill="#2f3234"/>
<path d="M113,51.4 C112,56 111.5,62 111.5,70" fill="none" stroke="#54595b" stroke-width="0.6"/>
<path d="M64.8,58.7 C68,55.5 76,52.5 82,51.4 C85,50.6 87,50 88.2,49.9 C88,53 87.5,55 86.7,56.5 C83,60 80,62 77.2,63.8 C73,64.2 69,64 66.5,63.5 C64.5,62 64,60 64.8,58.7 Z" fill="#22a022"/>
<rect x="74.3" y="24.4" width="4.4" height="22.6" rx="1.2" fill="url(#probe)"/>
<line x1="76.5" y1="47.0" x2="76.5" y2="58.0" stroke="#cfcfcf" stroke-width="0.9" />
<line x1="51.7" y1="26.6" x2="65.5" y2="48.5" stroke="#3a3a3a" stroke-width="1.9" />
<line x1="52.2" y1="27.4" x2="65.0" y2="47.7" stroke="#b0b0b0" stroke-width="0.6" stroke-dasharray="1.2,0.9"/>
<line x1="65.5" y1="48.5" x2="70.5" y2="56.0" stroke="#666" stroke-width="0.6" />
<text x="85.5" y="61.3" font-size="9.2" fill="#f4f4f4" text-anchor="middle" font-weight="normal" >ACC</text>
<text x="98.0" y="108.5" font-size="9.8" fill="#222" text-anchor="middle" font-weight="normal" >PV-Cre mice / SST-Cre mice</text>
<text x="171.0" y="8.6" font-size="11" fill="#111" text-anchor="start" font-weight="bold" >b</text>
<text x="200.9" y="8.1" font-size="9.8" fill="#c8789f" text-anchor="start" font-weight="normal" >PV-Cre mice</text>
<clipPath id="cl196"><rect x="196.1" y="14.1" width="71.9" height="94.9"/></clipPath><g clip-path="url(#cl196)">
<rect x="196.1" y="14.1" width="71.9" height="94.9" fill="#050e26"/>
<ellipse cx="217.7" cy="91.9" rx="43.1" ry="30.4" fill="url(#gglow)" opacity="0.6"/>
<ellipse cx="214.1" cy="94.8" rx="32.4" ry="28.5" fill="url(#gglow)" opacity="0.6"/>
<ellipse cx="246.4" cy="66.3" rx="25.2" ry="28.5" fill="url(#gglow)" opacity="0.35"/>
<rect x="196.1" y="14.1" width="71.9" height="94.9" filter="url(#btex)" opacity="0.3"/>
<rect x="196.1" y="14.1" width="2.6" height="94.9" fill="#0a1a60" opacity="0.6"/>
<rect x="199.2" y="14.1" width="34.8" height="54.3" fill="#000"/>
<rect x="231.0" y="14.1" width="2" height="27.2" fill="#1030b0" opacity="0.6" filter="url(#bl5)"/>
<circle cx="232.9" cy="72.2" r="0.83" fill="#3cf03c" opacity="0.55"/>
<circle cx="231.9" cy="89.2" r="0.65" fill="#3cf03c" opacity="0.50"/>
<circle cx="243.0" cy="51.3" r="0.85" fill="#3cf03c" opacity="0.74"/>
<circle cx="244.9" cy="34.8" r="0.72" fill="#3cf03c" opacity="0.75"/>
<circle cx="254.1" cy="59.2" r="0.68" fill="#3cf03c" opacity="0.51"/>
<circle cx="245.4" cy="75.5" r="0.62" fill="#3cf03c" opacity="0.78"/>
<circle cx="230.6" cy="85.7" r="0.76" fill="#3cf03c" opacity="0.93"/>
<circle cx="247.5" cy="62.6" r="0.71" fill="#3cf03c" opacity="0.72"/>
<circle cx="249.2" cy="37.2" r="0.66" fill="#3cf03c" opacity="0.47"/>
<circle cx="236.2" cy="71.8" r="0.80" fill="#3cf03c" opacity="0.65"/>
<circle cx="236.2" cy="95.5" r="0.81" fill="#3cf03c" opacity="0.73"/>
<circle cx="237.3" cy="44.2" r="0.70" fill="#3cf03c" opacity="0.84"/>
<circle cx="252.8" cy="41.7" r="0.76" fill="#3cf03c" opacity="0.57"/>
<circle cx="217.4" cy="101.6" r="0.57" fill="#3cf03c" opacity="0.76"/>
<circle cx="251.6" cy="53.5" r="0.78" fill="#3cf03c" opacity="0.63"/>
<circle cx="222.0" cy="69.8" r="0.84" fill="#3cf03c" opacity="0.46"/>
<circle cx="249.5" cy="93.1" r="0.83" fill="#3cf03c" opacity="0.71"/>
<circle cx="232.9" cy="79.5" r="0.58" fill="#3cf03c" opacity="0.70"/>
<circle cx="230.5" cy="81.9" r="0.86" fill="#3cf03c" opacity="0.47"/>
<circle cx="249.4" cy="75.5" r="0.85" fill="#3cf03c" opacity="0.71"/>
<circle cx="245.3" cy="40.7" r="0.68" fill="#3cf03c" opacity="0.74"/>
<circle cx="232.3" cy="91.2" r="0.85" fill="#3cf03c" opacity="0.82"/>
<circle cx="247.6" cy="105.8" r="0.78" fill="#3cf03c" opacity="0.56"/>
<circle cx="241.3" cy="45.4" r="0.57" fill="#3cf03c" opacity="0.73"/>
<circle cx="245.3" cy="84.4" r="0.67" fill="#3cf03c" opacity="0.76"/>
<circle cx="239.0" cy="54.8" r="0.84" fill="#3cf03c" opacity="0.64"/>
<circle cx="221.0" cy="85.8" r="0.66" fill="#3cf03c" opacity="0.52"/>
<circle cx="222.6" cy="93.2" r="0.88" fill="#3cf03c" opacity="0.54"/>
<circle cx="229.3" cy="102.1" r="0.89" fill="#3cf03c" opacity="0.87"/>
<circle cx="239.4" cy="97.9" r="0.63" fill="#3cf03c" opacity="0.86"/>
<circle cx="236.3" cy="95.1" r="0.69" fill="#3cf03c" opacity="0.71"/>
<circle cx="236.9" cy="37.1" r="0.58" fill="#3cf03c" opacity="0.75"/>
<circle cx="245.8" cy="69.0" r="0.78" fill="#3cf03c" opacity="0.84"/>
<circle cx="245.2" cy="87.8" r="0.60" fill="#3cf03c" opacity="0.75"/>
<circle cx="248.4" cy="98.1" r="0.73" fill="#3cf03c" opacity="0.56"/>
<circle cx="205.2" cy="101.9" r="0.59" fill="#3cf03c" opacity="0.63"/>
<circle cx="243.9" cy="52.6" r="0.79" fill="#3cf03c" opacity="0.71"/>
<circle cx="222.7" cy="100.2" r="0.83" fill="#3cf03c" opacity="0.70"/>
<circle cx="227.2" cy="76.0" r="0.55" fill="#3cf03c" opacity="0.80"/>
<circle cx="238.9" cy="84.0" r="0.65" fill="#3cf03c" opacity="0.84"/>
<circle cx="257.0" cy="58.6" r="0.71" fill="#3cf03c" opacity="0.69"/>
<circle cx="237.7" cy="36.1" r="0.80" fill="#3cf03c" opacity="0.55"/>
<circle cx="223.2" cy="84.6" r="0.58" fill="#3cf03c" opacity="0.66"/>
<circle cx="247.7" cy="50.9" r="0.80" fill="#3cf03c" opacity="0.45"/>
<circle cx="237.8" cy="92.0" r="0.73" fill="#3cf03c" opacity="0.78"/>
<circle cx="231.8" cy="84.4" r="0.59" fill="#3cf03c" opacity="0.65"/>
<circle cx="233.0" cy="83.7" r="0.66" fill="#3cf03c" opacity="0.62"/>
<circle cx="243.8" cy="47.4" r="0.60" fill="#3cf03c" opacity="0.64"/>
<circle cx="223.1" cy="90.7" r="0.70" fill="#3cf03c" opacity="0.56"/>
<circle cx="214.6" cy="104.0" r="0.85" fill="#3cf03c" opacity="0.74"/>
<circle cx="240.6" cy="96.5" r="0.64" fill="#3cf03c" opacity="0.72"/>
<circle cx="237.3" cy="76.9" r="0.58" fill="#3cf03c" opacity="0.60"/>
<circle cx="226.4" cy="72.9" r="0.83" fill="#3cf03c" opacity="0.60"/>
<circle cx="232.5" cy="73.1" r="0.66" fill="#3cf03c" opacity="0.59"/>
<circle cx="238.5" cy="68.6" r="0.56" fill="#3cf03c" opacity="0.50"/>
<circle cx="245.1" cy="42.5" r="0.79" fill="#3cf03c" opacity="0.50"/>
<circle cx="240.7" cy="56.1" r="0.60" fill="#3cf03c" opacity="0.76"/>
<circle cx="252.7" cy="47.7" r="0.58" fill="#3cf03c" opacity="0.54"/>
<circle cx="225.1" cy="91.6" r="0.84" fill="#3cf03c" opacity="0.92"/>
<circle cx="237.8" cy="87.9" r="0.60" fill="#3cf03c" opacity="0.59"/>
<circle cx="228.9" cy="90.6" r="0.57" fill="#3cf03c" opacity="0.78"/>
<circle cx="235.3" cy="53.7" r="0.62" fill="#3cf03c" opacity="0.63"/>
<circle cx="218.7" cy="103.5" r="0.69" fill="#3cf03c" opacity="0.91"/>
<circle cx="257.1" cy="58.4" r="0.74" fill="#3cf03c" opacity="0.79"/>
<circle cx="218.4" cy="84.7" r="0.63" fill="#3cf03c" opacity="0.72"/>
<circle cx="223.1" cy="102.9" r="0.57" fill="#3cf03c" opacity="0.71"/>
<circle cx="252.2" cy="96.6" r="0.66" fill="#3cf03c" opacity="0.76"/>
<circle cx="238.4" cy="95.2" r="0.74" fill="#3cf03c" opacity="0.61"/>
<circle cx="230.6" cy="70.2" r="0.83" fill="#3cf03c" opacity="0.66"/>
<circle cx="247.9" cy="90.6" r="0.83" fill="#3cf03c" opacity="0.67"/>
<circle cx="257.5" cy="75.3" r="0.62" fill="#3cf03c" opacity="0.50"/>
<circle cx="257.7" cy="54.9" r="0.58" fill="#3cf03c" opacity="0.47"/>
<circle cx="252.5" cy="80.9" r="0.77" fill="#3cf03c" opacity="0.64"/>
<circle cx="235.1" cy="66.3" r="0.89" fill="#3cf03c" opacity="0.87"/>
<circle cx="225.1" cy="85.6" r="0.81" fill="#3cf03c" opacity="0.63"/>
<circle cx="235.7" cy="88.0" r="0.61" fill="#3cf03c" opacity="0.88"/>
<circle cx="247.4" cy="66.8" r="0.62" fill="#3cf03c" opacity="0.70"/>
<circle cx="234.3" cy="99.7" r="0.83" fill="#3cf03c" opacity="0.52"/>
<circle cx="265.3" cy="56.3" r="0.57" fill="#3cf03c" opacity="0.58"/>
<circle cx="242.9" cy="107.2" r="0.82" fill="#3cf03c" opacity="0.84"/>
<circle cx="240.1" cy="67.9" r="0.74" fill="#3cf03c" opacity="0.78"/>
<circle cx="238.0" cy="79.6" r="0.78" fill="#3cf03c" opacity="0.69"/>
<circle cx="254.2" cy="48.0" r="0.62" fill="#3cf03c" opacity="0.64"/>
<circle cx="244.1" cy="69.6" r="0.63" fill="#3cf03c" opacity="0.93"/>
<circle cx="250.1" cy="49.3" r="0.71" fill="#3cf03c" opacity="0.76"/>
<circle cx="232.3" cy="98.1" r="0.60" fill="#3cf03c" opacity="0.58"/>
<circle cx="240.8" cy="45.0" r="0.76" fill="#3cf03c" opacity="0.48"/>
<circle cx="256.2" cy="48.9" r="0.58" fill="#3cf03c" opacity="0.87"/>
<circle cx="231.8" cy="81.1" r="0.79" fill="#3cf03c" opacity="0.46"/>
<circle cx="221.5" cy="74.9" r="0.89" fill="#3cf03c" opacity="0.76"/>
<circle cx="254.0" cy="30.4" r="0.90" fill="#3cf03c" opacity="0.74"/>
<circle cx="242.3" cy="61.5" r="0.67" fill="#3cf03c" opacity="0.84"/>
<circle cx="248.1" cy="87.6" r="0.85" fill="#3cf03c" opacity="0.78"/>
<circle cx="244.9" cy="60.8" r="0.88" fill="#3cf03c" opacity="0.92"/>
<circle cx="228.8" cy="95.1" r="0.68" fill="#3cf03c" opacity="0.74"/>
</g>
<polyline points="203.4,14.6 203.4,68.4 233.5,68.4 233.5,14.6" fill="none" stroke="#e4e4e4" stroke-width="0.9" stroke-dasharray="7.5,2.5"/>
<line x1="198.8" y1="15.3" x2="268" y2="85.5" stroke="#e0e0e0" stroke-width="0.8" stroke-dasharray="2.6,1.6"/>
<line x1="198.8" y1="58" x2="265" y2="85" stroke="#e0e0e0" stroke-width="0.8" stroke-dasharray="2.6,1.6"/>
<line x1="198.7" y1="14.1" x2="198.7" y2="103" stroke="#f4f4f4" stroke-width="0.9"/>
<path d="M196.5,109 C196.2,106.0 197.7,103.0 198.7,103.0 C199.7,103.0 201.2,106.0 200.9,109 Z" fill="#000" stroke="#fff" stroke-width="1.1"/>
<path d="M234.2,109.5 C254.0,103.0 263.0,94.0 265.0,86.0 C266.0,82.0 269.0,80.0 269.0,80.0" fill="none" stroke="#fff" stroke-width="1.3"/>
<path d="M241.4,109.5 C256.0,104.0 264.0,99.0 268.5,92.0" fill="none" stroke="#fff" stroke-width="1.2"/>
<text x="242.7" y="74.8" font-size="9.2" fill="#eee" text-anchor="middle" font-weight="normal" >Cg1</text>
<text x="221.8" y="92.0" font-size="9.2" fill="#eee" text-anchor="middle" font-weight="normal" >Cg2</text>
<line x1="252.4" y1="107.0" x2="266.6" y2="107.0" stroke="#fff" stroke-width="1.1" />
<text x="256.5" y="118.0" font-size="9.3" fill="#222" text-anchor="middle" font-weight="normal" >200 μm</text>
<clipPath id="cm280"><rect x="280" y="10.4" width="101.5" height="101.6"/></clipPath><g clip-path="url(#cm280)">
<rect x="280" y="10.4" width="101.5" height="101.6" fill="#121c0b"/>
<ellipse cx="295.2" cy="66.3" rx="32.5" ry="61.0" fill="url(#redhaze)"/>
<rect x="280" y="10.4" width="101.5" height="101.6" filter="url(#gtexA)"/>
<g filter="url(#bl5)">
<circle cx="338.9" cy="49.9" r="1.26" fill="#1c28c4" opacity="0.49"/>
<circle cx="315.4" cy="97.5" r="1.02" fill="#1c28c4" opacity="0.67"/>
<circle cx="294.9" cy="75.0" r="1.28" fill="#1c28c4" opacity="0.57"/>
<circle cx="368.6" cy="23.3" r="1.33" fill="#1c28c4" opacity="0.69"/>
<circle cx="356.0" cy="103.7" r="1.34" fill="#1c28c4" opacity="0.80"/>
<circle cx="309.3" cy="108.5" r="1.19" fill="#1c28c4" opacity="0.78"/>
<circle cx="366.5" cy="30.9" r="1.32" fill="#1c28c4" opacity="0.81"/>
<circle cx="319.3" cy="32.5" r="1.29" fill="#1c28c4" opacity="0.66"/>
<circle cx="316.1" cy="55.4" r="1.07" fill="#1c28c4" opacity="0.61"/>
<circle cx="331.5" cy="34.4" r="1.13" fill="#1c28c4" opacity="0.52"/>
<circle cx="301.6" cy="64.2" r="1.09" fill="#1c28c4" opacity="0.47"/>
<circle cx="313.1" cy="35.0" r="1.26" fill="#1c28c4" opacity="0.57"/>
<circle cx="318.0" cy="46.4" r="1.05" fill="#1c28c4" opacity="0.73"/>
<circle cx="297.6" cy="45.0" r="1.08" fill="#1c28c4" opacity="0.58"/>
<circle cx="320.8" cy="69.2" r="1.41" fill="#1c28c4" opacity="0.88"/>
<circle cx="353.3" cy="23.2" r="1.00" fill="#1c28c4" opacity="0.70"/>
<circle cx="338.1" cy="40.1" r="1.40" fill="#1c28c4" opacity="0.68"/>
<circle cx="310.7" cy="68.3" r="1.10" fill="#1c28c4" opacity="0.81"/>
<circle cx="309.9" cy="80.9" r="1.29" fill="#1c28c4" opacity="0.45"/>
<circle cx="289.3" cy="52.7" r="1.09" fill="#1c28c4" opacity="0.74"/>
<circle cx="291.8" cy="69.1" r="1.30" fill="#1c28c4" opacity="0.47"/>
<circle cx="347.1" cy="55.0" r="1.20" fill="#1c28c4" opacity="0.70"/>
<circle cx="298.8" cy="54.5" r="1.42" fill="#1c28c4" opacity="0.50"/>
<circle cx="314.0" cy="60.0" r="1.13" fill="#1c28c4" opacity="0.53"/>
<circle cx="362.9" cy="35.2" r="1.26" fill="#1c28c4" opacity="0.63"/>
<circle cx="299.8" cy="49.5" r="1.08" fill="#1c28c4" opacity="0.85"/>
<circle cx="362.7" cy="99.0" r="1.05" fill="#1c28c4" opacity="0.84"/>
<circle cx="304.4" cy="82.8" r="1.21" fill="#1c28c4" opacity="0.49"/>
<circle cx="280.6" cy="35.9" r="1.38" fill="#1c28c4" opacity="0.71"/>
<circle cx="333.5" cy="81.1" r="1.43" fill="#1c28c4" opacity="0.80"/>
<circle cx="367.2" cy="45.5" r="1.08" fill="#1c28c4" opacity="0.85"/>
<circle cx="361.2" cy="89.5" r="1.22" fill="#1c28c4" opacity="0.85"/>
<circle cx="364.0" cy="93.2" r="1.43" fill="#1c28c4" opacity="0.74"/>
<circle cx="354.9" cy="59.7" r="1.42" fill="#1c28c4" opacity="0.85"/>
<circle cx="361.5" cy="85.3" r="1.01" fill="#1c28c4" opacity="0.90"/>
<circle cx="380.4" cy="99.3" r="1.39" fill="#1c28c4" opacity="0.54"/>
<circle cx="286.1" cy="18.7" r="1.25" fill="#1c28c4" opacity="0.60"/>
<circle cx="362.8" cy="78.1" r="1.09" fill="#1c28c4" opacity="0.85"/>
<circle cx="377.6" cy="89.3" r="1.07" fill="#1c28c4" opacity="0.46"/>
<circle cx="360.3" cy="19.6" r="1.14" fill="#1c28c4" opacity="0.45"/>
<circle cx="308.5" cy="76.5" r="1.23" fill="#1c28c4" opacity="0.46"/>
<circle cx="328.6" cy="25.1" r="1.20" fill="#1c28c4" opacity="0.82"/>
<circle cx="323.2" cy="23.2" r="1.23" fill="#1c28c4" opacity="0.70"/>
<circle cx="362.7" cy="13.4" r="1.30" fill="#1c28c4" opacity="0.74"/>
<circle cx="285.2" cy="104.1" r="1.25" fill="#1c28c4" opacity="0.45"/>
<circle cx="347.0" cy="34.7" r="1.31" fill="#1c28c4" opacity="0.88"/>
<circle cx="333.7" cy="38.4" r="1.21" fill="#1c28c4" opacity="0.60"/>
<circle cx="371.6" cy="101.6" r="1.18" fill="#1c28c4" opacity="0.75"/>
<circle cx="281.7" cy="84.7" r="1.21" fill="#1c28c4" opacity="0.69"/>
<circle cx="342.2" cy="100.6" r="1.24" fill="#1c28c4" opacity="0.64"/>
<circle cx="304.4" cy="21.7" r="1.02" fill="#1c28c4" opacity="0.51"/>
<circle cx="355.1" cy="14.6" r="1.36" fill="#1c28c4" opacity="0.80"/>
<circle cx="301.8" cy="38.6" r="1.44" fill="#1c28c4" opacity="0.74"/>
<circle cx="345.4" cy="93.0" r="1.01" fill="#1c28c4" opacity="0.79"/>
<circle cx="296.2" cy="18.6" r="1.10" fill="#1c28c4" opacity="0.66"/>
<circle cx="299.0" cy="73.4" r="1.42" fill="#1c28c4" opacity="0.81"/>
<circle cx="369.4" cy="73.0" r="1.33" fill="#1c28c4" opacity="0.68"/>
<circle cx="324.1" cy="110.4" r="1.31" fill="#1c28c4" opacity="0.80"/>
<circle cx="334.7" cy="48.8" r="1.34" fill="#1c28c4" opacity="0.63"/>
<circle cx="317.4" cy="18.3" r="1.27" fill="#1c28c4" opacity="0.66"/>
<circle cx="347.6" cy="108.6" r="1.38" fill="#1c28c4" opacity="0.71"/>
<circle cx="369.4" cy="111.5" r="1.02" fill="#1c28c4" opacity="0.60"/>
<circle cx="315.8" cy="74.7" r="1.33" fill="#1c28c4" opacity="0.69"/>
<circle cx="333.3" cy="22.8" r="1.01" fill="#1c28c4" opacity="0.45"/>
<circle cx="353.4" cy="76.9" r="1.29" fill="#1c28c4" opacity="0.60"/>
<circle cx="347.6" cy="59.7" r="1.10" fill="#1c28c4" opacity="0.64"/>
<circle cx="329.6" cy="50.0" r="1.33" fill="#1c28c4" opacity="0.52"/>
<circle cx="336.2" cy="43.8" r="1.26" fill="#1c28c4" opacity="0.67"/>
<circle cx="294.2" cy="88.6" r="1.19" fill="#1c28c4" opacity="0.89"/>
<circle cx="293.2" cy="104.2" r="1.08" fill="#1c28c4" opacity="0.49"/>
<circle cx="351.0" cy="41.2" r="1.22" fill="#1c28c4" opacity="0.87"/>
<circle cx="343.8" cy="64.0" r="1.28" fill="#1c28c4" opacity="0.69"/>
<circle cx="335.7" cy="32.4" r="1.23" fill="#1c28c4" opacity="0.49"/>
<circle cx="359.8" cy="94.8" r="1.10" fill="#1c28c4" opacity="0.49"/>
<circle cx="363.8" cy="103.4" r="1.22" fill="#1c28c4" opacity="0.62"/>
<circle cx="324.7" cy="66.6" r="1.41" fill="#1c28c4" opacity="0.83"/>
<circle cx="342.2" cy="107.2" r="1.43" fill="#1c28c4" opacity="0.55"/>
<circle cx="337.6" cy="92.1" r="1.18" fill="#1c28c4" opacity="0.87"/>
<circle cx="339.8" cy="21.7" r="1.09" fill="#1c28c4" opacity="0.88"/>
<circle cx="356.4" cy="84.6" r="1.21" fill="#1c28c4" opacity="0.51"/>
<circle cx="302.0" cy="92.6" r="1.27" fill="#1c28c4" opacity="0.68"/>
<circle cx="320.8" cy="78.0" r="1.08" fill="#1c28c4" opacity="0.49"/>
<circle cx="283.2" cy="56.2" r="1.28" fill="#1c28c4" opacity="0.71"/>
<circle cx="323.5" cy="27.7" r="1.23" fill="#1c28c4" opacity="0.76"/>
<circle cx="283.4" cy="39.7" r="1.06" fill="#1c28c4" opacity="0.58"/>
<circle cx="367.0" cy="64.7" r="1.25" fill="#1c28c4" opacity="0.50"/>
<circle cx="281.4" cy="47.8" r="1.02" fill="#1c28c4" opacity="0.85"/>
<circle cx="320.6" cy="37.5" r="1.14" fill="#1c28c4" opacity="0.66"/>
<circle cx="304.4" cy="77.3" r="1.09" fill="#1c28c4" opacity="0.82"/>
<circle cx="308.8" cy="52.6" r="1.05" fill="#1c28c4" opacity="0.58"/>
<circle cx="345.4" cy="86.5" r="1.17" fill="#1c28c4" opacity="0.87"/>
<circle cx="340.8" cy="77.3" r="1.44" fill="#1c28c4" opacity="0.53"/>
<circle cx="323.1" cy="91.0" r="1.11" fill="#1c28c4" opacity="0.53"/>
<circle cx="282.8" cy="51.6" r="1.40" fill="#1c28c4" opacity="0.46"/>
<circle cx="372.1" cy="91.1" r="1.09" fill="#1c28c4" opacity="0.65"/>
<circle cx="290.7" cy="28.5" r="1.36" fill="#1c28c4" opacity="0.82"/>
<circle cx="369.6" cy="40.2" r="1.33" fill="#1c28c4" opacity="0.46"/>
<circle cx="332.3" cy="64.5" r="1.38" fill="#1c28c4" opacity="0.60"/>
<circle cx="358.7" cy="49.1" r="1.34" fill="#1c28c4" opacity="0.56"/>
<circle cx="374.1" cy="22.2" r="1.20" fill="#1c28c4" opacity="0.67"/>
<circle cx="285.3" cy="28.4" r="1.13" fill="#1c28c4" opacity="0.60"/>
<circle cx="319.1" cy="27.9" r="1.18" fill="#1c28c4" opacity="0.51"/>
<circle cx="317.6" cy="11.5" r="1.42" fill="#1c28c4" opacity="0.75"/>
<circle cx="338.3" cy="82.1" r="1.11" fill="#1c28c4" opacity="0.64"/>
<circle cx="373.2" cy="44.7" r="1.10" fill="#1c28c4" opacity="0.53"/>
<circle cx="308.8" cy="33.0" r="1.11" fill="#1c28c4" opacity="0.51"/>
<circle cx="357.2" cy="98.9" r="1.27" fill="#1c28c4" opacity="0.72"/>
<circle cx="350.0" cy="102.8" r="1.25" fill="#1c28c4" opacity="0.90"/>
<circle cx="333.3" cy="14.5" r="1.45" fill="#1c28c4" opacity="0.60"/>
<circle cx="309.5" cy="87.2" r="1.18" fill="#1c28c4" opacity="0.85"/>
<circle cx="378.0" cy="106.1" r="1.04" fill="#1c28c4" opacity="0.88"/>
<circle cx="372.8" cy="81.2" r="1.22" fill="#1c28c4" opacity="0.67"/>
<circle cx="360.5" cy="39.1" r="1.16" fill="#1c28c4" opacity="0.47"/>
<circle cx="370.3" cy="49.9" r="1.38" fill="#1c28c4" opacity="0.79"/>
<circle cx="341.8" cy="60.1" r="1.03" fill="#1c28c4" opacity="0.47"/>
<circle cx="376.2" cy="67.3" r="1.18" fill="#1c28c4" opacity="0.68"/>
<circle cx="367.0" cy="81.6" r="1.35" fill="#1c28c4" opacity="0.90"/>
<circle cx="318.4" cy="58.9" r="1.11" fill="#1c28c4" opacity="0.70"/>
<circle cx="294.2" cy="64.8" r="1.15" fill="#1c28c4" opacity="0.54"/>
<circle cx="304.4" cy="27.0" r="1.03" fill="#1c28c4" opacity="0.45"/>
<circle cx="358.2" cy="55.7" r="1.38" fill="#1c28c4" opacity="0.67"/>
<circle cx="332.0" cy="58.6" r="1.30" fill="#1c28c4" opacity="0.88"/>
<circle cx="328.1" cy="12.1" r="1.21" fill="#1c28c4" opacity="0.74"/>
<circle cx="343.6" cy="41.6" r="1.07" fill="#1c28c4" opacity="0.69"/>
<circle cx="329.3" cy="97.4" r="1.45" fill="#1c28c4" opacity="0.75"/>
<circle cx="312.6" cy="101.8" r="1.18" fill="#1c28c4" opacity="0.82"/>
<circle cx="365.2" cy="69.0" r="1.43" fill="#1c28c4" opacity="0.56"/>
<circle cx="347.2" cy="20.0" r="1.06" fill="#1c28c4" opacity="0.88"/>
<circle cx="366.0" cy="88.4" r="1.44" fill="#1c28c4" opacity="0.61"/>
<circle cx="379.7" cy="12.9" r="1.14" fill="#1c28c4" opacity="0.87"/>
<circle cx="360.7" cy="29.2" r="1.37" fill="#1c28c4" opacity="0.81"/>
<circle cx="300.0" cy="26.1" r="1.38" fill="#1c28c4" opacity="0.76"/>
<circle cx="302.5" cy="100.3" r="1.07" fill="#1c28c4" opacity="0.47"/>
<circle cx="348.2" cy="97.5" r="1.35" fill="#1c28c4" opacity="0.78"/>
<circle cx="283.1" cy="110.1" r="1.17" fill="#1c28c4" opacity="0.73"/>
<circle cx="290.4" cy="60.5" r="1.02" fill="#1c28c4" opacity="0.50"/>
<circle cx="322.6" cy="83.5" r="1.39" fill="#1c28c4" opacity="0.82"/>
<circle cx="342.2" cy="16.1" r="1.28" fill="#1c28c4" opacity="0.86"/>
<circle cx="330.1" cy="91.6" r="1.35" fill="#1c28c4" opacity="0.73"/>
<circle cx="313.8" cy="24.7" r="1.40" fill="#1c28c4" opacity="0.65"/>
<circle cx="286.1" cy="73.9" r="1.19" fill="#1c28c4" opacity="0.80"/>
<circle cx="302.0" cy="11.7" r="1.04" fill="#1c28c4" opacity="0.69"/>
<circle cx="372.0" cy="86.6" r="1.28" fill="#1c28c4" opacity="0.69"/>
<circle cx="333.2" cy="73.3" r="1.41" fill="#1c28c4" opacity="0.68"/>
<circle cx="331.4" cy="104.1" r="1.25" fill="#1c28c4" opacity="0.72"/>
<circle cx="365.8" cy="60.0" r="1.15" fill="#1c28c4" opacity="0.86"/>
<circle cx="380.3" cy="71.7" r="1.33" fill="#1c28c4" opacity="0.83"/>
<circle cx="335.1" cy="54.7" r="1.39" fill="#1c28c4" opacity="0.57"/>
<circle cx="304.8" cy="96.6" r="1.01" fill="#1c28c4" opacity="0.56"/>
<circle cx="380.8" cy="21.2" r="1.36" fill="#1c28c4" opacity="0.78"/>
<circle cx="333.1" cy="95.4" r="1.25" fill="#1c28c4" opacity="0.52"/>
<circle cx="328.5" cy="56.3" r="1.04" fill="#1c28c4" opacity="0.67"/>
<circle cx="370.3" cy="19.3" r="1.08" fill="#1c28c4" opacity="0.51"/>
<circle cx="346.4" cy="47.8" r="1.11" fill="#1c28c4" opacity="0.68"/>
<circle cx="318.7" cy="92.2" r="1.25" fill="#1c28c4" opacity="0.90"/>
<circle cx="344.0" cy="25.1" r="1.26" fill="#1c28c4" opacity="0.83"/>
<circle cx="344.3" cy="73.5" r="1.34" fill="#1c28c4" opacity="0.87"/>
<circle cx="291.9" cy="16.9" r="1.11" fill="#1c28c4" opacity="0.90"/>
<circle cx="334.2" cy="109.7" r="1.45" fill="#1c28c4" opacity="0.82"/>
<circle cx="294.4" cy="13.4" r="1.45" fill="#1c28c4" opacity="0.82"/>
<circle cx="349.5" cy="71.7" r="1.00" fill="#1c28c4" opacity="0.50"/>
<circle cx="309.9" cy="14.7" r="1.09" fill="#1c28c4" opacity="0.66"/>
<circle cx="290.3" cy="91.0" r="1.02" fill="#1c28c4" opacity="0.83"/>
<circle cx="320.8" cy="53.3" r="1.26" fill="#1c28c4" opacity="0.45"/>
<circle cx="331.8" cy="42.1" r="1.29" fill="#1c28c4" opacity="0.68"/>
<circle cx="340.1" cy="32.8" r="1.18" fill="#1c28c4" opacity="0.59"/>
<circle cx="294.6" cy="30.8" r="1.35" fill="#1c28c4" opacity="0.62"/>
<circle cx="372.3" cy="95.5" r="1.41" fill="#1c28c4" opacity="0.79"/>
<circle cx="294.2" cy="53.4" r="1.34" fill="#1c28c4" opacity="0.75"/>
<circle cx="352.6" cy="31.0" r="1.30" fill="#1c28c4" opacity="0.82"/>
<circle cx="287.0" cy="33.8" r="1.36" fill="#1c28c4" opacity="0.73"/>
<circle cx="363.1" cy="110.3" r="1.38" fill="#1c28c4" opacity="0.65"/>
<circle cx="310.7" cy="27.8" r="1.08" fill="#1c28c4" opacity="0.80"/>
<circle cx="376.9" cy="29.9" r="1.27" fill="#1c28c4" opacity="0.62"/>
<circle cx="328.8" cy="74.8" r="1.02" fill="#1c28c4" opacity="0.65"/>
</g>
<ellipse cx="334" cy="100" rx="11" ry="7" fill="#040604" opacity="0.92"/>
<ellipse cx="322" cy="97" rx="5" ry="4" fill="#040604" opacity="0.85"/>
<ellipse cx="342" cy="36" rx="3" ry="2.5" fill="#040604" opacity="0.6"/>
<ellipse cx="284.3" cy="23" rx="2.4" ry="2.0" fill="#f0a030"/>
<ellipse cx="312.8" cy="19.8" rx="2.0" ry="1.6" fill="#f05050"/>
<ellipse cx="298.5" cy="23.8" rx="1.8" ry="1.4" fill="#c04020"/>
<ellipse cx="326.2" cy="33.3" rx="2.2" ry="1.8" fill="#f0d830"/>
<ellipse cx="348.3" cy="23.8" rx="2.6" ry="2.2" fill="#30e030"/>
<ellipse cx="349.9" cy="36.4" rx="2.2" ry="1.8" fill="#30e030"/>
<ellipse cx="379.9" cy="39.6" rx="2.2" ry="1.8" fill="#30e030"/>
<ellipse cx="314.3" cy="38.8" rx="2.0" ry="1.6" fill="#f07040"/>
<ellipse cx="305.6" cy="46.7" rx="2.4" ry="2.0" fill="#f0c828"/>
<ellipse cx="326.2" cy="45.9" rx="2.0" ry="1.6" fill="#a0e060"/>
<ellipse cx="323" cy="55.4" rx="2.2" ry="1.8" fill="#e07020"/>
<ellipse cx="298.5" cy="46" rx="1.8" ry="1.4" fill="#a04020"/>
<ellipse cx="348.3" cy="57.8" rx="2.0" ry="1.6" fill="#b0e030"/>
<ellipse cx="345.1" cy="65.2" rx="1.8" ry="1.4" fill="#f0e020"/>
<ellipse cx="352" cy="64" rx="1.3" ry="1.1" fill="#b0e030"/>
<ellipse cx="297" cy="72.8" rx="2.2" ry="1.8" fill="#f06818"/>
<ellipse cx="312.8" cy="83" rx="2.5" ry="2.1" fill="#f0e020"/>
<ellipse cx="307.2" cy="87" rx="2.5" ry="2.1" fill="#f0e020"/>
<ellipse cx="312.8" cy="63.3" rx="1.4" ry="1.2" fill="#40d030"/>
<ellipse cx="342" cy="91" rx="1.8" ry="1.4" fill="#30d030"/>
<ellipse cx="359.4" cy="93.3" rx="2.5" ry="2.1" fill="#f0e020"/>
<ellipse cx="316.7" cy="100.4" rx="2.5" ry="2.1" fill="#f0e020"/>
<ellipse cx="286" cy="80" rx="1.8" ry="1.4" fill="#c04a20"/>
<ellipse cx="289" cy="95" rx="1.5" ry="1.3" fill="#a04020"/>
</g>
<text x="380.0" y="19.4" font-size="9.5" fill="#f0f0f0" text-anchor="end" font-weight="normal" >Merge</text>
<rect x="341.5" y="62" width="6.5" height="6.5" fill="none" stroke="#fff" stroke-width="0.9"/>
<line x1="348.5" y1="106.5" x2="379.5" y2="106.5" stroke="#fff" stroke-width="1" />
<text x="364.0" y="104.5" font-size="9.3" fill="#f0f0f0" text-anchor="middle" font-weight="normal" >100 μm</text>
<rect x="384" y="10" width="33" height="33.0" fill="#020206"/>
<ellipse cx="399.5" cy="28.8" rx="5" ry="8" fill="#1a2ab0" opacity="0.55" filter="url(#bl15)"/>
<ellipse cx="399.5" cy="28.8" rx="1.6" ry="2.2" fill="#3050ff" filter="url(#bl5)"/>
<text x="400.5" y="18.2" font-size="8.9" fill="#f4f4f4" text-anchor="middle" font-weight="normal" textLength="30" lengthAdjust="spacingAndGlyphs">Hoechst</text>
<rect x="384" y="45" width="33" height="32.0" fill="#0b360b"/>
<rect x="384" y="45" width="33" height="32.0" filter="url(#gtexB)" opacity="0.8"/>
<path d="M390.0,67.0 C387.0,59.0 394.0,54.0 402.0,54.0 C408.0,54.0 414.0,52.0 415.0,55.0 C414.0,63.0 411.0,73.0 401.0,74.0 C395.0,74.0 391.0,71.0 390.0,67.0 Z" fill="#12f012" filter="url(#bl5)"/>
<text x="401.5" y="53.6" font-size="9.3" fill="#f8f8f8" text-anchor="middle" font-weight="normal" textLength="30" lengthAdjust="spacingAndGlyphs">GCaMP</text>
<rect x="384" y="80" width="33" height="32.0" fill="#2e0606"/>
<path d="M390.0,106.0 C388.0,100.0 390.0,93.0 396.0,91.0 C404.0,90.0 412.0,89.0 414.0,93.0 C413.0,100.0 410.0,108.0 400.0,109.0 C395.0,109.0 392.0,108.0 390.0,106.0 Z" fill="#f41010" filter="url(#bl5)"/>
<text x="416.0" y="88.6" font-size="9.3" fill="#f8f8f8" text-anchor="end" font-weight="normal" >PVALB</text>
<line x1="402.0" y1="109.0" x2="415.0" y2="109.0" stroke="#f0f0f0" stroke-width="1.1" />
<text x="408.5" y="106.8" font-size="9" fill="#f8f8f8" text-anchor="middle" font-weight="normal" >10 μm</text>
<text x="424.5" y="7.0" font-size="11" fill="#111" text-anchor="start" font-weight="bold" >c</text>
<text x="455.6" y="8.1" font-size="9.8" fill="#7886c8" text-anchor="start" font-weight="normal" >SST-Cre mice</text>
<clipPath id="cl454"><rect x="454.3" y="14.3" width="72.5" height="94.6"/></clipPath><g clip-path="url(#cl454)">
<rect x="454.3" y="14.3" width="72.5" height="94.6" fill="#051226"/>
<rect x="454.3" y="14.3" width="72.5" height="94.6" fill="url(#glinB)"/>
<ellipse cx="472.4" cy="94.7" rx="32.6" ry="28.4" fill="url(#gglow)" opacity="1"/>
<ellipse cx="505.0" cy="66.3" rx="25.4" ry="28.4" fill="url(#gglow)" opacity="0.5"/>
<rect x="454.3" y="14.3" width="72.5" height="94.6" filter="url(#btex)" opacity="0.3"/>
<rect x="454.3" y="14.3" width="2.5" height="94.6" fill="#0a1a60" opacity="0.6"/>
<rect x="456.8" y="14.3" width="5.2" height="55.0" fill="#0a1a55" opacity="0.8"/>
<rect x="462" y="14.3" width="33.4" height="55.0" fill="#000"/>
<circle cx="480.9" cy="84.1" r="0.75" fill="#3cf03c" opacity="0.61"/>
<circle cx="503.1" cy="41.3" r="0.65" fill="#3cf03c" opacity="0.47"/>
<circle cx="482.7" cy="101.3" r="0.74" fill="#3cf03c" opacity="0.91"/>
<circle cx="524.7" cy="96.1" r="0.72" fill="#3cf03c" opacity="0.56"/>
<circle cx="523.2" cy="61.3" r="0.62" fill="#3cf03c" opacity="0.70"/>
<circle cx="474.1" cy="71.5" r="0.84" fill="#3cf03c" opacity="0.66"/>
<circle cx="512.2" cy="78.0" r="0.74" fill="#3cf03c" opacity="0.56"/>
<circle cx="511.2" cy="81.3" r="0.64" fill="#3cf03c" opacity="0.58"/>
<circle cx="501.0" cy="104.5" r="0.73" fill="#3cf03c" opacity="0.56"/>
<circle cx="521.2" cy="66.1" r="0.76" fill="#3cf03c" opacity="0.62"/>
<circle cx="512.5" cy="90.6" r="0.64" fill="#3cf03c" opacity="0.55"/>
<circle cx="504.7" cy="65.3" r="0.75" fill="#3cf03c" opacity="0.83"/>
<circle cx="469.3" cy="93.3" r="0.60" fill="#3cf03c" opacity="0.53"/>
<circle cx="498.5" cy="69.7" r="0.81" fill="#3cf03c" opacity="0.63"/>
<circle cx="500.1" cy="84.7" r="0.68" fill="#3cf03c" opacity="0.46"/>
<circle cx="492.1" cy="86.7" r="0.66" fill="#3cf03c" opacity="0.93"/>
<circle cx="505.1" cy="47.9" r="0.71" fill="#3cf03c" opacity="0.82"/>
<circle cx="483.6" cy="85.2" r="0.56" fill="#3cf03c" opacity="0.81"/>
<circle cx="493.1" cy="82.2" r="0.61" fill="#3cf03c" opacity="0.73"/>
<circle cx="521.2" cy="62.8" r="0.64" fill="#3cf03c" opacity="0.90"/>
<circle cx="503.6" cy="91.3" r="0.59" fill="#3cf03c" opacity="0.69"/>
<circle cx="513.7" cy="89.0" r="0.60" fill="#3cf03c" opacity="0.64"/>
<circle cx="503.4" cy="41.4" r="0.78" fill="#3cf03c" opacity="0.73"/>
<circle cx="493.6" cy="75.4" r="0.70" fill="#3cf03c" opacity="0.89"/>
<circle cx="516.8" cy="75.0" r="0.57" fill="#3cf03c" opacity="0.74"/>
<circle cx="501.9" cy="94.1" r="0.64" fill="#3cf03c" opacity="0.71"/>
<circle cx="519.3" cy="90.5" r="0.81" fill="#3cf03c" opacity="0.59"/>
<circle cx="512.6" cy="52.0" r="0.75" fill="#3cf03c" opacity="0.83"/>
<circle cx="466.9" cy="91.6" r="0.68" fill="#3cf03c" opacity="0.52"/>
<circle cx="506.3" cy="100.8" r="0.68" fill="#3cf03c" opacity="0.51"/>
<circle cx="462.0" cy="95.3" r="0.70" fill="#3cf03c" opacity="0.63"/>
<circle cx="490.9" cy="77.5" r="0.83" fill="#3cf03c" opacity="0.94"/>
<circle cx="497.0" cy="80.6" r="0.71" fill="#3cf03c" opacity="0.82"/>
<circle cx="506.2" cy="44.7" r="0.81" fill="#3cf03c" opacity="0.61"/>
<circle cx="495.1" cy="89.2" r="0.62" fill="#3cf03c" opacity="0.56"/>
<circle cx="510.3" cy="30.4" r="0.75" fill="#3cf03c" opacity="0.56"/>
<circle cx="501.8" cy="69.8" r="0.63" fill="#3cf03c" opacity="0.82"/>
<circle cx="473.7" cy="76.5" r="0.82" fill="#3cf03c" opacity="0.52"/>
<circle cx="508.4" cy="86.0" r="0.82" fill="#3cf03c" opacity="0.81"/>
<circle cx="478.9" cy="81.9" r="0.63" fill="#3cf03c" opacity="0.71"/>
<circle cx="480.1" cy="98.9" r="0.68" fill="#3cf03c" opacity="0.93"/>
<circle cx="523.5" cy="28.1" r="0.73" fill="#3cf03c" opacity="0.73"/>
<circle cx="474.5" cy="87.8" r="0.81" fill="#3cf03c" opacity="0.79"/>
<circle cx="487.3" cy="76.8" r="0.77" fill="#3cf03c" opacity="0.49"/>
<circle cx="495.8" cy="75.2" r="0.59" fill="#3cf03c" opacity="0.87"/>
<circle cx="478.3" cy="78.5" r="0.79" fill="#3cf03c" opacity="0.91"/>
<circle cx="479.6" cy="71.8" r="0.84" fill="#3cf03c" opacity="0.90"/>
<circle cx="477.9" cy="92.2" r="0.73" fill="#3cf03c" opacity="0.70"/>
<circle cx="493.8" cy="93.0" r="0.74" fill="#3cf03c" opacity="0.58"/>
<circle cx="519.2" cy="103.4" r="0.58" fill="#3cf03c" opacity="0.68"/>
<circle cx="491.7" cy="104.8" r="0.70" fill="#3cf03c" opacity="0.45"/>
<circle cx="481.0" cy="75.6" r="0.56" fill="#3cf03c" opacity="0.66"/>
<circle cx="496.1" cy="95.1" r="0.59" fill="#3cf03c" opacity="0.84"/>
<circle cx="470.3" cy="83.9" r="0.56" fill="#3cf03c" opacity="0.85"/>
<circle cx="511.2" cy="40.6" r="0.73" fill="#3cf03c" opacity="0.46"/>
<circle cx="490.8" cy="80.8" r="0.60" fill="#3cf03c" opacity="0.82"/>
<circle cx="503.8" cy="71.8" r="0.66" fill="#3cf03c" opacity="0.75"/>
<circle cx="507.9" cy="30.5" r="0.64" fill="#3cf03c" opacity="0.80"/>
<circle cx="502.4" cy="75.6" r="0.82" fill="#3cf03c" opacity="0.55"/>
<circle cx="502.8" cy="83.0" r="0.65" fill="#3cf03c" opacity="0.56"/>
<circle cx="496.5" cy="53.5" r="0.65" fill="#3cf03c" opacity="0.87"/>
<circle cx="494.3" cy="73.2" r="0.73" fill="#3cf03c" opacity="0.75"/>
<circle cx="496.9" cy="82.1" r="0.64" fill="#3cf03c" opacity="0.68"/>
<circle cx="474.1" cy="100.9" r="0.64" fill="#3cf03c" opacity="0.48"/>
<circle cx="490.8" cy="82.1" r="0.75" fill="#3cf03c" opacity="0.65"/>
<circle cx="479.0" cy="85.4" r="0.58" fill="#3cf03c" opacity="0.85"/>
<circle cx="513.9" cy="67.2" r="0.59" fill="#3cf03c" opacity="0.57"/>
<circle cx="503.9" cy="68.9" r="0.66" fill="#3cf03c" opacity="0.60"/>
<circle cx="515.5" cy="84.2" r="0.70" fill="#3cf03c" opacity="0.69"/>
<circle cx="516.1" cy="21.1" r="0.84" fill="#3cf03c" opacity="0.61"/>
</g>
<polyline points="464.4,14.8 464.4,69.3 494.9,69.3 494.9,14.8" fill="none" stroke="#e4e4e4" stroke-width="0.9" stroke-dasharray="7.5,2.5"/>
<line x1="456.8" y1="16.1" x2="524.5" y2="81.5" stroke="#e0e0e0" stroke-width="0.8" stroke-dasharray="2.6,1.6"/>
<line x1="456.8" y1="57.1" x2="523" y2="83.8" stroke="#e0e0e0" stroke-width="0.8" stroke-dasharray="2.6,1.6"/>
<line x1="456.8" y1="14.3" x2="456.8" y2="102.9" stroke="#f4f4f4" stroke-width="0.9"/>
<path d="M454.6,108.9 C454.3,105.9 455.8,102.9 456.8,102.9 C457.8,102.9 459.3,105.9 459.0,108.9 Z" fill="#000" stroke="#fff" stroke-width="1.1"/>
<path d="M492.7,109.4 C512.8,102.9 521.8,93.9 523.8,85.9 C524.8,81.9 527.8,79.9 527.8,79.9" fill="none" stroke="#fff" stroke-width="1.3"/>
<path d="M500.0,109.4 C514.8,103.9 522.8,98.9 527.3,91.9" fill="none" stroke="#fff" stroke-width="1.2"/>
<text x="503.2" y="74.0" font-size="9.2" fill="#eee" text-anchor="middle" font-weight="normal" >Cg1</text>
<text x="483.5" y="91.5" font-size="9.2" fill="#eee" text-anchor="middle" font-weight="normal" >Cg2</text>
<line x1="510.0" y1="106.1" x2="523.8" y2="106.1" stroke="#fff" stroke-width="1.1" />
<text x="511.0" y="118.0" font-size="9.3" fill="#222" text-anchor="middle" font-weight="normal" >200 μm</text>
<clipPath id="cm533"><rect x="533" y="9" width="101.0" height="101.0"/></clipPath><g clip-path="url(#cm533)">
<rect x="533" y="9" width="101.0" height="101.0" fill="#061a07"/>
<rect x="533" y="9" width="101.0" height="101.0" filter="url(#gtexB)"/>
<g filter="url(#bl5)">
<circle cx="560.6" cy="14.3" r="1.18" fill="#1c28c4" opacity="0.52"/>
<circle cx="565.8" cy="99.8" r="1.40" fill="#1c28c4" opacity="0.82"/>
<circle cx="629.6" cy="86.8" r="1.17" fill="#1c28c4" opacity="0.46"/>
<circle cx="579.0" cy="51.0" r="1.34" fill="#1c28c4" opacity="0.87"/>
<circle cx="562.8" cy="34.8" r="1.21" fill="#1c28c4" opacity="0.87"/>
<circle cx="579.0" cy="93.5" r="1.13" fill="#1c28c4" opacity="0.76"/>
<circle cx="626.7" cy="27.6" r="1.36" fill="#1c28c4" opacity="0.87"/>
<circle cx="570.2" cy="40.9" r="1.10" fill="#1c28c4" opacity="0.81"/>
<circle cx="542.4" cy="43.2" r="1.18" fill="#1c28c4" opacity="0.58"/>
<circle cx="606.8" cy="42.7" r="1.35" fill="#1c28c4" opacity="0.77"/>
<circle cx="603.9" cy="73.7" r="1.41" fill="#1c28c4" opacity="0.73"/>
<circle cx="623.0" cy="63.0" r="1.32" fill="#1c28c4" opacity="0.71"/>
<circle cx="552.6" cy="82.1" r="1.26" fill="#1c28c4" opacity="0.55"/>
<circle cx="554.3" cy="89.0" r="1.39" fill="#1c28c4" opacity="0.79"/>
<circle cx="595.0" cy="90.7" r="1.36" fill="#1c28c4" opacity="0.56"/>
<circle cx="618.3" cy="40.9" r="1.39" fill="#1c28c4" opacity="0.51"/>
<circle cx="538.9" cy="40.2" r="1.29" fill="#1c28c4" opacity="0.48"/>
<circle cx="632.5" cy="93.1" r="1.19" fill="#1c28c4" opacity="0.64"/>
<circle cx="564.8" cy="22.3" r="1.13" fill="#1c28c4" opacity="0.49"/>
<circle cx="534.0" cy="101.6" r="1.16" fill="#1c28c4" opacity="0.90"/>
<circle cx="623.7" cy="23.3" r="1.09" fill="#1c28c4" opacity="0.73"/>
<circle cx="600.8" cy="108.9" r="1.06" fill="#1c28c4" opacity="0.86"/>
<circle cx="609.1" cy="77.4" r="1.17" fill="#1c28c4" opacity="0.88"/>
<circle cx="621.0" cy="35.4" r="1.40" fill="#1c28c4" opacity="0.78"/>
<circle cx="538.6" cy="46.6" r="1.41" fill="#1c28c4" opacity="0.63"/>
<circle cx="544.8" cy="14.6" r="1.05" fill="#1c28c4" opacity="0.79"/>
<circle cx="613.9" cy="80.7" r="1.45" fill="#1c28c4" opacity="0.80"/>
<circle cx="598.2" cy="99.1" r="1.23" fill="#1c28c4" opacity="0.74"/>
<circle cx="564.4" cy="48.7" r="1.23" fill="#1c28c4" opacity="0.88"/>
<circle cx="586.0" cy="75.4" r="1.43" fill="#1c28c4" opacity="0.68"/>
<circle cx="537.5" cy="107.7" r="1.31" fill="#1c28c4" opacity="0.86"/>
<circle cx="594.1" cy="33.8" r="1.34" fill="#1c28c4" opacity="0.73"/>
<circle cx="581.8" cy="86.6" r="1.42" fill="#1c28c4" opacity="0.88"/>
<circle cx="590.5" cy="50.2" r="1.05" fill="#1c28c4" opacity="0.86"/>
<circle cx="578.5" cy="21.2" r="1.26" fill="#1c28c4" opacity="0.46"/>
<circle cx="606.8" cy="83.0" r="1.42" fill="#1c28c4" opacity="0.82"/>
<circle cx="578.1" cy="37.2" r="1.28" fill="#1c28c4" opacity="0.86"/>
<circle cx="619.9" cy="49.1" r="1.32" fill="#1c28c4" opacity="0.88"/>
<circle cx="566.5" cy="29.1" r="1.38" fill="#1c28c4" opacity="0.61"/>
<circle cx="559.8" cy="41.2" r="1.18" fill="#1c28c4" opacity="0.86"/>
<circle cx="540.0" cy="71.7" r="1.06" fill="#1c28c4" opacity="0.87"/>
<circle cx="550.8" cy="54.1" r="1.43" fill="#1c28c4" opacity="0.47"/>
<circle cx="598.2" cy="61.2" r="1.13" fill="#1c28c4" opacity="0.54"/>
<circle cx="553.3" cy="64.3" r="1.13" fill="#1c28c4" opacity="0.81"/>
<circle cx="540.9" cy="94.3" r="1.27" fill="#1c28c4" opacity="0.60"/>
<circle cx="584.5" cy="48.4" r="1.08" fill="#1c28c4" opacity="0.79"/>
<circle cx="602.2" cy="9.9" r="1.22" fill="#1c28c4" opacity="0.83"/>
<circle cx="557.4" cy="30.5" r="1.04" fill="#1c28c4" opacity="0.60"/>
<circle cx="618.4" cy="14.6" r="1.14" fill="#1c28c4" opacity="0.46"/>
<circle cx="607.3" cy="28.3" r="1.15" fill="#1c28c4" opacity="0.67"/>
<circle cx="540.1" cy="64.3" r="1.41" fill="#1c28c4" opacity="0.62"/>
<circle cx="584.5" cy="82.0" r="1.02" fill="#1c28c4" opacity="0.45"/>
<circle cx="608.6" cy="71.3" r="1.45" fill="#1c28c4" opacity="0.85"/>
<circle cx="556.5" cy="107.0" r="1.35" fill="#1c28c4" opacity="0.84"/>
<circle cx="553.0" cy="29.3" r="1.07" fill="#1c28c4" opacity="0.89"/>
<circle cx="568.0" cy="13.8" r="1.30" fill="#1c28c4" opacity="0.54"/>
<circle cx="586.2" cy="98.9" r="1.14" fill="#1c28c4" opacity="0.88"/>
<circle cx="583.3" cy="92.5" r="1.01" fill="#1c28c4" opacity="0.60"/>
<circle cx="603.1" cy="25.4" r="1.10" fill="#1c28c4" opacity="0.69"/>
<circle cx="595.5" cy="10.6" r="1.23" fill="#1c28c4" opacity="0.70"/>
<circle cx="589.8" cy="41.4" r="1.04" fill="#1c28c4" opacity="0.65"/>
<circle cx="631.2" cy="34.0" r="1.00" fill="#1c28c4" opacity="0.63"/>
<circle cx="595.5" cy="24.8" r="1.42" fill="#1c28c4" opacity="0.48"/>
<circle cx="585.7" cy="70.5" r="1.32" fill="#1c28c4" opacity="0.76"/>
<circle cx="578.4" cy="57.7" r="1.41" fill="#1c28c4" opacity="0.54"/>
<circle cx="552.2" cy="103.7" r="1.24" fill="#1c28c4" opacity="0.76"/>
<circle cx="539.6" cy="14.7" r="1.20" fill="#1c28c4" opacity="0.61"/>
<circle cx="574.6" cy="27.1" r="1.36" fill="#1c28c4" opacity="0.52"/>
<circle cx="576.9" cy="66.9" r="1.03" fill="#1c28c4" opacity="0.88"/>
<circle cx="618.8" cy="95.0" r="1.08" fill="#1c28c4" opacity="0.76"/>
<circle cx="630.3" cy="54.1" r="1.11" fill="#1c28c4" opacity="0.86"/>
<circle cx="546.9" cy="75.2" r="1.09" fill="#1c28c4" opacity="0.88"/>
<circle cx="595.3" cy="79.1" r="1.30" fill="#1c28c4" opacity="0.73"/>
<circle cx="578.2" cy="43.3" r="1.39" fill="#1c28c4" opacity="0.84"/>
<circle cx="534.2" cy="61.5" r="1.43" fill="#1c28c4" opacity="0.56"/>
<circle cx="599.3" cy="34.2" r="1.05" fill="#1c28c4" opacity="0.55"/>
<circle cx="595.7" cy="15.3" r="1.18" fill="#1c28c4" opacity="0.47"/>
<circle cx="546.8" cy="20.9" r="1.21" fill="#1c28c4" opacity="0.85"/>
<circle cx="541.0" cy="83.1" r="1.07" fill="#1c28c4" opacity="0.70"/>
<circle cx="536.3" cy="98.3" r="1.45" fill="#1c28c4" opacity="0.65"/>
<circle cx="564.8" cy="63.3" r="1.19" fill="#1c28c4" opacity="0.72"/>
<circle cx="600.2" cy="70.1" r="1.08" fill="#1c28c4" opacity="0.47"/>
<circle cx="602.8" cy="86.1" r="1.35" fill="#1c28c4" opacity="0.48"/>
<circle cx="612.7" cy="51.1" r="1.31" fill="#1c28c4" opacity="0.73"/>
<circle cx="629.3" cy="17.7" r="1.12" fill="#1c28c4" opacity="0.84"/>
<circle cx="570.5" cy="74.2" r="1.38" fill="#1c28c4" opacity="0.50"/>
<circle cx="548.5" cy="91.5" r="1.11" fill="#1c28c4" opacity="0.66"/>
<circle cx="543.7" cy="23.9" r="1.36" fill="#1c28c4" opacity="0.66"/>
<circle cx="559.9" cy="78.0" r="1.44" fill="#1c28c4" opacity="0.87"/>
<circle cx="612.0" cy="15.0" r="1.15" fill="#1c28c4" opacity="0.51"/>
<circle cx="588.6" cy="60.4" r="1.44" fill="#1c28c4" opacity="0.89"/>
<circle cx="631.7" cy="106.5" r="1.30" fill="#1c28c4" opacity="0.74"/>
<circle cx="545.3" cy="106.2" r="1.05" fill="#1c28c4" opacity="0.51"/>
<circle cx="621.5" cy="19.4" r="1.24" fill="#1c28c4" opacity="0.66"/>
<circle cx="535.1" cy="17.5" r="1.34" fill="#1c28c4" opacity="0.56"/>
<circle cx="558.4" cy="90.6" r="1.04" fill="#1c28c4" opacity="0.65"/>
<circle cx="613.6" cy="74.5" r="1.44" fill="#1c28c4" opacity="0.79"/>
<circle cx="565.5" cy="54.9" r="1.40" fill="#1c28c4" opacity="0.67"/>
<circle cx="608.9" cy="104.0" r="1.00" fill="#1c28c4" opacity="0.56"/>
<circle cx="564.9" cy="77.8" r="1.09" fill="#1c28c4" opacity="0.88"/>
<circle cx="593.0" cy="38.7" r="1.32" fill="#1c28c4" opacity="0.87"/>
<circle cx="632.0" cy="76.3" r="1.12" fill="#1c28c4" opacity="0.52"/>
<circle cx="604.8" cy="21.4" r="1.02" fill="#1c28c4" opacity="0.54"/>
<circle cx="553.4" cy="44.7" r="1.34" fill="#1c28c4" opacity="0.72"/>
<circle cx="582.0" cy="107.1" r="1.03" fill="#1c28c4" opacity="0.57"/>
<circle cx="629.6" cy="96.3" r="1.02" fill="#1c28c4" opacity="0.74"/>
<circle cx="573.0" cy="34.0" r="1.08" fill="#1c28c4" opacity="0.58"/>
<circle cx="578.1" cy="88.6" r="1.04" fill="#1c28c4" opacity="0.74"/>
<circle cx="551.6" cy="23.4" r="1.41" fill="#1c28c4" opacity="0.70"/>
<circle cx="546.4" cy="52.7" r="1.15" fill="#1c28c4" opacity="0.83"/>
<circle cx="616.3" cy="21.3" r="1.10" fill="#1c28c4" opacity="0.68"/>
<circle cx="539.1" cy="29.9" r="1.17" fill="#1c28c4" opacity="0.85"/>
<circle cx="545.6" cy="81.8" r="1.14" fill="#1c28c4" opacity="0.57"/>
<circle cx="568.1" cy="92.7" r="1.45" fill="#1c28c4" opacity="0.70"/>
<circle cx="589.0" cy="107.2" r="1.03" fill="#1c28c4" opacity="0.50"/>
<circle cx="587.6" cy="13.2" r="1.38" fill="#1c28c4" opacity="0.74"/>
<circle cx="622.6" cy="41.3" r="1.32" fill="#1c28c4" opacity="0.89"/>
<circle cx="582.7" cy="101.5" r="1.14" fill="#1c28c4" opacity="0.63"/>
<circle cx="633.5" cy="17.7" r="1.29" fill="#1c28c4" opacity="0.90"/>
<circle cx="597.5" cy="38.7" r="1.29" fill="#1c28c4" opacity="0.48"/>
<circle cx="632.9" cy="67.4" r="1.20" fill="#1c28c4" opacity="0.66"/>
<circle cx="629.3" cy="43.0" r="1.20" fill="#1c28c4" opacity="0.45"/>
<circle cx="581.5" cy="77.4" r="1.11" fill="#1c28c4" opacity="0.70"/>
<circle cx="579.0" cy="71.7" r="1.39" fill="#1c28c4" opacity="0.59"/>
<circle cx="545.5" cy="28.0" r="1.26" fill="#1c28c4" opacity="0.75"/>
<circle cx="585.5" cy="65.1" r="1.25" fill="#1c28c4" opacity="0.59"/>
<circle cx="539.1" cy="24.4" r="1.25" fill="#1c28c4" opacity="0.53"/>
<circle cx="586.8" cy="29.6" r="1.05" fill="#1c28c4" opacity="0.79"/>
<circle cx="570.4" cy="98.8" r="1.17" fill="#1c28c4" opacity="0.75"/>
<circle cx="628.6" cy="11.8" r="1.13" fill="#1c28c4" opacity="0.64"/>
<circle cx="586.8" cy="34.1" r="1.24" fill="#1c28c4" opacity="0.84"/>
<circle cx="622.0" cy="54.4" r="1.14" fill="#1c28c4" opacity="0.78"/>
<circle cx="577.2" cy="78.8" r="1.32" fill="#1c28c4" opacity="0.80"/>
<circle cx="541.4" cy="101.3" r="1.35" fill="#1c28c4" opacity="0.82"/>
<circle cx="559.7" cy="97.3" r="1.32" fill="#1c28c4" opacity="0.71"/>
<circle cx="621.6" cy="104.7" r="1.44" fill="#1c28c4" opacity="0.84"/>
<circle cx="568.2" cy="66.1" r="1.17" fill="#1c28c4" opacity="0.47"/>
<circle cx="622.8" cy="96.8" r="1.02" fill="#1c28c4" opacity="0.79"/>
<circle cx="616.9" cy="52.1" r="1.30" fill="#1c28c4" opacity="0.81"/>
<circle cx="605.0" cy="60.9" r="1.39" fill="#1c28c4" opacity="0.50"/>
<circle cx="593.6" cy="69.6" r="1.14" fill="#1c28c4" opacity="0.49"/>
<circle cx="536.6" cy="92.4" r="1.40" fill="#1c28c4" opacity="0.70"/>
<circle cx="537.1" cy="77.1" r="1.06" fill="#1c28c4" opacity="0.81"/>
<circle cx="591.5" cy="92.7" r="1.00" fill="#1c28c4" opacity="0.62"/>
<circle cx="623.3" cy="31.0" r="1.21" fill="#1c28c4" opacity="0.75"/>
<circle cx="612.7" cy="55.6" r="1.36" fill="#1c28c4" opacity="0.82"/>
<circle cx="569.3" cy="49.5" r="1.30" fill="#1c28c4" opacity="0.47"/>
<circle cx="619.7" cy="28.6" r="1.10" fill="#1c28c4" opacity="0.85"/>
<circle cx="594.9" cy="105.5" r="1.11" fill="#1c28c4" opacity="0.51"/>
<circle cx="619.1" cy="87.3" r="1.33" fill="#1c28c4" opacity="0.76"/>
<circle cx="548.0" cy="97.9" r="1.04" fill="#1c28c4" opacity="0.80"/>
<circle cx="555.1" cy="35.3" r="1.03" fill="#1c28c4" opacity="0.73"/>
<circle cx="556.1" cy="70.8" r="1.15" fill="#1c28c4" opacity="0.55"/>
<circle cx="600.9" cy="78.1" r="1.04" fill="#1c28c4" opacity="0.78"/>
<circle cx="626.8" cy="48.0" r="1.44" fill="#1c28c4" opacity="0.45"/>
<circle cx="591.4" cy="102.8" r="1.26" fill="#1c28c4" opacity="0.83"/>
<circle cx="578.4" cy="15.3" r="1.00" fill="#1c28c4" opacity="0.62"/>
<circle cx="539.3" cy="88.6" r="1.21" fill="#1c28c4" opacity="0.84"/>
<circle cx="535.8" cy="42.8" r="1.41" fill="#1c28c4" opacity="0.86"/>
<circle cx="602.9" cy="98.6" r="1.22" fill="#1c28c4" opacity="0.83"/>
<circle cx="564.3" cy="16.0" r="1.04" fill="#1c28c4" opacity="0.84"/>
<circle cx="569.7" cy="81.4" r="1.36" fill="#1c28c4" opacity="0.79"/>
<circle cx="620.6" cy="71.9" r="1.18" fill="#1c28c4" opacity="0.72"/>
<circle cx="604.1" cy="50.4" r="1.35" fill="#1c28c4" opacity="0.69"/>
<circle cx="612.8" cy="62.6" r="1.33" fill="#1c28c4" opacity="0.66"/>
<circle cx="606.1" cy="94.7" r="1.40" fill="#1c28c4" opacity="0.59"/>
<circle cx="534.2" cy="36.6" r="1.27" fill="#1c28c4" opacity="0.58"/>
<circle cx="600.6" cy="90.5" r="1.01" fill="#1c28c4" opacity="0.79"/>
<circle cx="556.2" cy="100.0" r="1.06" fill="#1c28c4" opacity="0.75"/>
<circle cx="624.5" cy="87.7" r="1.29" fill="#1c28c4" opacity="0.45"/>
<circle cx="593.2" cy="64.1" r="1.07" fill="#1c28c4" opacity="0.64"/>
<circle cx="597.8" cy="95.0" r="1.16" fill="#1c28c4" opacity="0.84"/>
<circle cx="625.0" cy="36.1" r="1.15" fill="#1c28c4" opacity="0.85"/>
<circle cx="590.2" cy="21.1" r="1.43" fill="#1c28c4" opacity="0.74"/>
<circle cx="544.7" cy="66.7" r="1.02" fill="#1c28c4" opacity="0.72"/>
<circle cx="591.4" cy="25.1" r="1.20" fill="#1c28c4" opacity="0.66"/>
<circle cx="565.1" cy="10.2" r="1.33" fill="#1c28c4" opacity="0.66"/>
<circle cx="544.4" cy="87.6" r="1.11" fill="#1c28c4" opacity="0.58"/>
<circle cx="575.0" cy="73.5" r="1.36" fill="#1c28c4" opacity="0.85"/>
<circle cx="584.4" cy="17.3" r="1.22" fill="#1c28c4" opacity="0.80"/>
<circle cx="587.1" cy="86.2" r="1.22" fill="#1c28c4" opacity="0.83"/>
<circle cx="572.4" cy="13.2" r="1.29" fill="#1c28c4" opacity="0.58"/>
<circle cx="550.2" cy="61.8" r="1.31" fill="#1c28c4" opacity="0.50"/>
<circle cx="615.6" cy="46.6" r="1.10" fill="#1c28c4" opacity="0.79"/>
<circle cx="617.3" cy="10.6" r="1.32" fill="#1c28c4" opacity="0.65"/>
<circle cx="617.6" cy="64.6" r="1.21" fill="#1c28c4" opacity="0.78"/>
<circle cx="615.7" cy="37.8" r="1.44" fill="#1c28c4" opacity="0.46"/>
<circle cx="612.1" cy="99.6" r="1.34" fill="#1c28c4" opacity="0.54"/>
<circle cx="615.8" cy="31.2" r="1.18" fill="#1c28c4" opacity="0.46"/>
<circle cx="605.1" cy="13.1" r="1.36" fill="#1c28c4" opacity="0.67"/>
</g>
<ellipse cx="608.2" cy="23.4" rx="2.8" ry="2.2" fill="#40f040"/>
<ellipse cx="613.7" cy="24.2" rx="2.0" ry="1.6" fill="#2a8a30"/>
<ellipse cx="590.8" cy="25" rx="1.4" ry="1.2" fill="#c03030"/>
<ellipse cx="628.7" cy="35.2" rx="2.0" ry="1.6" fill="#60e040"/>
<ellipse cx="569.5" cy="41.5" rx="2.4" ry="2.0" fill="#c0f030"/>
<ellipse cx="589.7" cy="42.3" rx="2.4" ry="2.0" fill="#40f040"/>
<ellipse cx="554.5" cy="37.6" rx="2.0" ry="1.6" fill="#806040"/>
<ellipse cx="542.6" cy="51.8" rx="2.2" ry="1.8" fill="#40f040"/>
<ellipse cx="571.9" cy="53.1" rx="2.4" ry="2.0" fill="#b0f040"/>
<ellipse cx="573" cy="56.6" rx="2.2" ry="1.8" fill="#b0f040"/>
<ellipse cx="589.7" cy="63.7" rx="2.2" ry="1.8" fill="#60f040"/>
<ellipse cx="618.5" cy="72.4" rx="2.8" ry="2.2" fill="#40f040"/>
<ellipse cx="582.1" cy="76.3" rx="1.7" ry="1.4" fill="#d02050"/>
<ellipse cx="578.2" cy="92.9" rx="2.0" ry="1.6" fill="#60f040"/>
<ellipse cx="584.5" cy="91.3" rx="1.3" ry="1.1" fill="#40e040"/>
<ellipse cx="534" cy="101.6" rx="2.0" ry="1.6" fill="#40e040"/>
<ellipse cx="548" cy="30" rx="1.7" ry="1.4" fill="#306030"/>
</g>
<text x="632.5" y="18.0" font-size="9.5" fill="#f0f0f0" text-anchor="end" font-weight="normal" >Merge</text>
<rect x="574.2" y="89.3" width="7.6" height="7.5" fill="none" stroke="#fff" stroke-width="0.9"/>
<line x1="601.0" y1="104.5" x2="632.0" y2="104.5" stroke="#fff" stroke-width="1" />
<text x="616.5" y="102.5" font-size="9.3" fill="#f0f0f0" text-anchor="middle" font-weight="normal" >100 μm</text>
<rect x="637" y="9.3" width="33" height="32.3" fill="#04041a"/>
<ellipse cx="651.9" cy="27.4" rx="9" ry="5" fill="#1a2ab0" opacity="0.5" filter="url(#bl15)"/>
<ellipse cx="651.9" cy="27.4" rx="2" ry="1.6" fill="#3050ff" filter="url(#bl5)"/>
<text x="653.5" y="17.5" font-size="8.9" fill="#f4f4f4" text-anchor="middle" font-weight="normal" textLength="30" lengthAdjust="spacingAndGlyphs">Hoechst</text>
<rect x="637" y="43.2" width="33" height="32.8" fill="#0b360b"/>
<rect x="637" y="43.2" width="33" height="32.8" filter="url(#gtexB)" opacity="0.8"/>
<path d="M638.0,56.6 C643.0,50.6 657.0,51.6 668.0,53.6 C670.0,59.6 668.0,66.6 661.0,69.6 C652.0,71.6 643.0,69.6 638.0,66.6 Z" fill="#12f012" filter="url(#bl5)"/>
<text x="654.5" y="51.8" font-size="9.3" fill="#f8f8f8" text-anchor="middle" font-weight="normal" textLength="30" lengthAdjust="spacingAndGlyphs">GCaMP</text>
<rect x="637" y="77.8" width="33" height="32.2" fill="#0a0303"/>
<ellipse cx="654.2" cy="95.5" rx="17" ry="9.5" fill="#f01414" filter="url(#bl15)"/>
<text x="653.5" y="86.4" font-size="9.3" fill="#f8f8f8" text-anchor="middle" font-weight="normal" >SST</text>
<line x1="655.0" y1="107.0" x2="668.0" y2="107.0" stroke="#f0f0f0" stroke-width="1.1" />
<text x="661.5" y="104.8" font-size="9" fill="#f8f8f8" text-anchor="middle" font-weight="normal" >10 μm</text>
<text x="5.5" y="133.4" font-size="11" fill="#111" text-anchor="start" font-weight="bold" >d</text>
<text x="88.5" y="144.0" font-size="10.1" fill="#222" text-anchor="middle" font-weight="normal" >Sociability in home cage test</text>
<path d="M33.3,164.3 L96.7,164.3 L96.7,196.4 L33.3,196.4 Z M33.3,164.3 L20.9,179.4 M96.7,164.3 L84.7,179.4 M96.7,196.4 L84.7,211.6 M33.3,196.4 L20.9,211.6" fill="none" stroke="#555" stroke-width="0.8"/>
<rect x="20.9" y="179.4" width="63.8" height="32.2" fill="none" stroke="#555" stroke-width="0.8"/>
<path d="M47.3,155 C55,156 59,162 59.8,170 C60.5,180 58,190 56.4,197" fill="none" stroke="#777" stroke-width="0.5"/>
<g transform="translate(42.8,201.8) rotate(0) scale(0.78,1.05)">
<path d="M-7.5,0 C-7.5,-3.2 -3,-3.8 1,-3.4 C4,-3.2 6,-2.6 8,-1.4 L10.5,0 L8,1.4 C6,2.6 4,3.2 1,3.4 C-3,3.8 -7.5,3.2 -7.5,0 Z" fill="#9c9c9c"/>
<ellipse cx="5.2" cy="-2.6" rx="1.3" ry="1.1" fill="#9c9c9c"/>
<path d="M10,0 L12,-1.2 M10,0 L12,1.2" stroke="#9c9c9c" stroke-width="0.3"/>
<path d="M-7.3,0.3 C-10,0.4 -11.5,1.8 -10.8,3.2 C-10.2,4.2 -8.6,4 -8.8,3" fill="none" stroke="#9c9c9c" stroke-width="0.8"/>
</g>
<g transform="translate(61.0,200.6) rotate(180) scale(1.0,-1.60)">
<path d="M-7.5,0 C-7.5,-3.2 -3,-3.8 1,-3.4 C4,-3.2 6,-2.6 8,-1.4 L10.5,0 L8,1.4 C6,2.6 4,3.2 1,3.4 C-3,3.8 -7.5,3.2 -7.5,0 Z" fill="#454545"/>
<ellipse cx="5.2" cy="-2.6" rx="1.3" ry="1.1" fill="#454545"/>
<path d="M10,0 L12,-1.2 M10,0 L12,1.2" stroke="#454545" stroke-width="0.3"/>
<path d="M-7.3,0.3 C-10,0.4 -11.5,1.8 -10.8,3.2 C-10.2,4.2 -8.6,4 -8.8,3" fill="none" stroke="#454545" stroke-width="0.8"/>
</g>
<g transform="translate(126.0,170.5) rotate(10) scale(1.1,1.10)">
<path d="M-7.5,0 C-7.5,-3.2 -3,-3.8 1,-3.4 C4,-3.2 6,-2.6 8,-1.4 L10.5,0 L8,1.4 C6,2.6 4,3.2 1,3.4 C-3,3.8 -7.5,3.2 -7.5,0 Z" fill="#8a837e"/>
<ellipse cx="5.2" cy="-2.6" rx="1.3" ry="1.1" fill="#8a837e"/>
<path d="M10,0 L12,-1.2 M10,0 L12,1.2" stroke="#8a837e" stroke-width="0.3"/>
<path d="M-7.3,0.3 C-11,1 -13,4 -12,7 C-11.5,8.5 -10,9 -9,8.5" fill="none" stroke="#8a837e" stroke-width="0.7"/>
</g>
<g transform="translate(136.0,166.0) rotate(5) scale(1.0,1.00)">
<path d="M-7.5,0 C-7.5,-3.2 -3,-3.8 1,-3.4 C4,-3.2 6,-2.6 8,-1.4 L10.5,0 L8,1.4 C6,2.6 4,3.2 1,3.4 C-3,3.8 -7.5,3.2 -7.5,0 Z" fill="#8a837e"/>
<ellipse cx="5.2" cy="-2.6" rx="1.3" ry="1.1" fill="#8a837e"/>
<path d="M10,0 L12,-1.2 M10,0 L12,1.2" stroke="#8a837e" stroke-width="0.3"/>
<path d="M-7.3,-0.3 C-10,-1 -12,-3 -15,-2" fill="none" stroke="#8a837e" stroke-width="0.7"/>
</g>
<g transform="translate(121.5,197.9) rotate(0) scale(1.05,1.05)">
<path d="M-7.5,0 C-7.5,-3.2 -3,-3.8 1,-3.4 C4,-3.2 6,-2.6 8,-1.4 L10.5,0 L8,1.4 C6,2.6 4,3.2 1,3.4 C-3,3.8 -7.5,3.2 -7.5,0 Z" fill="#8a837e"/>
<ellipse cx="5.2" cy="-2.6" rx="1.3" ry="1.1" fill="#8a837e"/>
<path d="M10,0 L12,-1.2 M10,0 L12,1.2" stroke="#8a837e" stroke-width="0.3"/>
<path d="M-7.3,0.3 C-10,0.8 -12,-0.8 -15,0.2" fill="none" stroke="#8a837e" stroke-width="0.7"/>
</g>
<g transform="translate(140.0,198.0) rotate(30) scale(1.05,1.05)">
<path d="M-7.5,0 C-7.5,-3.2 -3,-3.8 1,-3.4 C4,-3.2 6,-2.6 8,-1.4 L10.5,0 L8,1.4 C6,2.6 4,3.2 1,3.4 C-3,3.8 -7.5,3.2 -7.5,0 Z" fill="#8a837e"/>
<ellipse cx="5.2" cy="-2.6" rx="1.3" ry="1.1" fill="#8a837e"/>
<path d="M10,0 L12,-1.2 M10,0 L12,1.2" stroke="#8a837e" stroke-width="0.3"/>
<path d="M-7.3,-0.3 C-10,-1 -12,-3 -15,-2" fill="none" stroke="#8a837e" stroke-width="0.7"/>
</g>
<g transform="translate(46.3,222.5) rotate(10) scale(1.05,1.05)">
<path d="M-7.5,0 C-7.5,-3.2 -3,-3.8 1,-3.4 C4,-3.2 6,-2.6 8,-1.4 L10.5,0 L8,1.4 C6,2.6 4,3.2 1,3.4 C-3,3.8 -7.5,3.2 -7.5,0 Z" fill="#8a837e"/>
<ellipse cx="5.2" cy="-2.6" rx="1.3" ry="1.1" fill="#8a837e"/>
<path d="M10,0 L12,-1.2 M10,0 L12,1.2" stroke="#8a837e" stroke-width="0.3"/>
<path d="M-7.3,0.3 C-10,0.8 -12,-0.8 -15,0.2" fill="none" stroke="#8a837e" stroke-width="0.7"/>
</g>
<g transform="translate(61.0,226.5) rotate(200) scale(1.05,1.05)">
<path d="M-7.5,0 C-7.5,-3.2 -3,-3.8 1,-3.4 C4,-3.2 6,-2.6 8,-1.4 L10.5,0 L8,1.4 C6,2.6 4,3.2 1,3.4 C-3,3.8 -7.5,3.2 -7.5,0 Z" fill="#8a837e"/>
<ellipse cx="5.2" cy="-2.6" rx="1.3" ry="1.1" fill="#8a837e"/>
<path d="M10,0 L12,-1.2 M10,0 L12,1.2" stroke="#8a837e" stroke-width="0.3"/>
<path d="M-7.3,0.3 C-11,1 -13,4 -12,7 C-11.5,8.5 -10,9 -9,8.5" fill="none" stroke="#8a837e" stroke-width="0.7"/>
</g>
<g transform="translate(96.5,229.5) rotate(-35) scale(1.05,1.05)">
<path d="M-7.5,0 C-7.5,-3.2 -3,-3.8 1,-3.4 C4,-3.2 6,-2.6 8,-1.4 L10.5,0 L8,1.4 C6,2.6 4,3.2 1,3.4 C-3,3.8 -7.5,3.2 -7.5,0 Z" fill="#8a837e"/>
<ellipse cx="5.2" cy="-2.6" rx="1.3" ry="1.1" fill="#8a837e"/>
<path d="M10,0 L12,-1.2 M10,0 L12,1.2" stroke="#8a837e" stroke-width="0.3"/>
<path d="M-7.3,0.3 C-10,0.8 -12,-0.8 -15,0.2" fill="none" stroke="#8a837e" stroke-width="0.7"/>
</g>
<g transform="translate(114.5,221.6) rotate(-5) scale(1.05,1.05)">
<path d="M-7.5,0 C-7.5,-3.2 -3,-3.8 1,-3.4 C4,-3.2 6,-2.6 8,-1.4 L10.5,0 L8,1.4 C6,2.6 4,3.2 1,3.4 C-3,3.8 -7.5,3.2 -7.5,0 Z" fill="#8a837e"/>
<ellipse cx="5.2" cy="-2.6" rx="1.3" ry="1.1" fill="#8a837e"/>
<path d="M10,0 L12,-1.2 M10,0 L12,1.2" stroke="#8a837e" stroke-width="0.3"/>
<path d="M-7.3,-0.3 C-10,-1 -12,-3 -15,-2" fill="none" stroke="#8a837e" stroke-width="0.7"/>
</g>
<text x="130.5" y="185.8" font-size="8.4" fill="#333" text-anchor="middle" font-weight="normal" >To body (B)</text>
<text x="130.2" y="209.6" font-size="8.4" fill="#333" text-anchor="middle" font-weight="normal" >Following (F)</text>
<text x="37.2" y="235.6" font-size="8.4" fill="#333" text-anchor="middle" font-weight="normal" >To nose (N)</text>
<text x="131.0" y="235.6" font-size="8.4" fill="#333" text-anchor="middle" font-weight="normal" >To genitals (G)</text>
<text x="4.5" y="262.0" font-size="11" fill="#111" text-anchor="start" font-weight="bold" >g</text>
<text x="85.0" y="275.0" font-size="9.9" fill="#222" text-anchor="middle" font-weight="normal" >Sociability in</text>
<text x="86.0" y="287.0" font-size="9.9" fill="#222" text-anchor="middle" font-weight="normal" >three-chamber test</text>
<path d="M10.0,323.5 L130.7,323.5 L130.7,368.7 L10.0,368.7 Z M33.5,303.2 L153.1,303.2 L153.1,348.4 L33.5,348.4 Z M10.0,323.5 L33.5,303.2 M130.7,323.5 L153.1,303.2 M130.7,368.7 L153.1,348.4 M10.0,368.7 L33.5,348.4 M50.4,368.7 L50.4,323.5 L59.6,315.5 L59.6,360.7 Z M66.4,354.9 L66.4,309.7 L73.9,303.2 L73.9,348.4 Z M89.4,368.7 L89.4,323.5 L98.6,315.5 L98.6,360.7 Z M105.4,354.9 L105.4,309.7 L112.9,303.2 L112.9,348.4 Z" fill="none" stroke="#444" stroke-width="0.75"/>
<line x1="14.8" y1="341.5" x2="14.8" y2="363.2" stroke="#888" stroke-width="0.35"/>
<line x1="16.4" y1="341.5" x2="16.4" y2="363.2" stroke="#888" stroke-width="0.35"/>
<line x1="18.1" y1="341.5" x2="18.1" y2="363.2" stroke="#888" stroke-width="0.35"/>
<line x1="19.7" y1="341.5" x2="19.7" y2="363.2" stroke="#888" stroke-width="0.35"/>
<line x1="21.4" y1="341.5" x2="21.4" y2="363.2" stroke="#888" stroke-width="0.35"/>
<line x1="23.0" y1="341.5" x2="23.0" y2="363.2" stroke="#888" stroke-width="0.35"/>
<line x1="24.6" y1="341.5" x2="24.6" y2="363.2" stroke="#888" stroke-width="0.35"/>
<line x1="26.3" y1="341.5" x2="26.3" y2="363.2" stroke="#888" stroke-width="0.35"/>
<line x1="27.9" y1="341.5" x2="27.9" y2="363.2" stroke="#888" stroke-width="0.35"/>
<line x1="29.6" y1="341.5" x2="29.6" y2="363.2" stroke="#888" stroke-width="0.35"/>
<line x1="31.2" y1="341.5" x2="31.2" y2="363.2" stroke="#888" stroke-width="0.35"/>
<ellipse cx="23" cy="363.2" rx="8.2" ry="3.4" fill="#e8c8c8" stroke="#666" stroke-width="0.5"/>
<ellipse cx="23" cy="341.5" rx="8.2" ry="3.4" fill="#3a3a3a"/>
<g transform="translate(23.0,363.5) rotate(0) scale(0.55,0.55)">
<path d="M-7.5,0 C-7.5,-3.2 -3,-3.8 1,-3.4 C4,-3.2 6,-2.6 8,-1.4 L10.5,0 L8,1.4 C6,2.6 4,3.2 1,3.4 C-3,3.8 -7.5,3.2 -7.5,0 Z" fill="#c09090"/>
<ellipse cx="5.2" cy="-2.6" rx="1.3" ry="1.1" fill="#c09090"/>
<path d="M10,0 L12,-1.2 M10,0 L12,1.2" stroke="#c09090" stroke-width="0.3"/>
<path d="M-7.3,0.3 C-10,0.8 -12,-0.8 -15,0.2" fill="none" stroke="#c09090" stroke-width="0.7"/>
</g>
<line x1="131.3" y1="328" x2="131.3" y2="351.6" stroke="#888" stroke-width="0.35"/>
<line x1="132.9" y1="328" x2="132.9" y2="351.6" stroke="#888" stroke-width="0.35"/>
<line x1="134.6" y1="328" x2="134.6" y2="351.6" stroke="#888" stroke-width="0.35"/>
<line x1="136.2" y1="328" x2="136.2" y2="351.6" stroke="#888" stroke-width="0.35"/>
<line x1="137.9" y1="328" x2="137.9" y2="351.6" stroke="#888" stroke-width="0.35"/>
<line x1="139.5" y1="328" x2="139.5" y2="351.6" stroke="#888" stroke-width="0.35"/>
<line x1="141.1" y1="328" x2="141.1" y2="351.6" stroke="#888" stroke-width="0.35"/>
<line x1="142.8" y1="328" x2="142.8" y2="351.6" stroke="#888" stroke-width="0.35"/>
<line x1="144.4" y1="328" x2="144.4" y2="351.6" stroke="#888" stroke-width="0.35"/>
<line x1="146.1" y1="328" x2="146.1" y2="351.6" stroke="#888" stroke-width="0.35"/>
<line x1="147.7" y1="328" x2="147.7" y2="351.6" stroke="#888" stroke-width="0.35"/>
<ellipse cx="139.5" cy="351.6" rx="8.2" ry="3.4" fill="none" stroke="#666" stroke-width="0.5"/>
<ellipse cx="139.5" cy="328" rx="8.2" ry="3.4" fill="#3a3a3a"/>
<path d="M33.5,305 C38,306 41,320 40,335 C39.5,345 38,352 37.8,357" fill="none" stroke="#888" stroke-width="0.5"/>
<g transform="translate(39.5,360.0) rotate(0) scale(1.0,1.00)">
<path d="M-7.5,0 C-7.5,-3.2 -3,-3.8 1,-3.4 C4,-3.2 6,-2.6 8,-1.4 L10.5,0 L8,1.4 C6,2.6 4,3.2 1,3.4 C-3,3.8 -7.5,3.2 -7.5,0 Z" fill="#3c3c3c"/>
<ellipse cx="5.2" cy="-2.6" rx="1.3" ry="1.1" fill="#3c3c3c"/>
<path d="M10,0 L12,-1.2 M10,0 L12,1.2" stroke="#3c3c3c" stroke-width="0.3"/>
<path d="M-7.3,0.3 C-10,0.8 -12,-0.8 -15,0.2" fill="none" stroke="#3c3c3c" stroke-width="0.7"/>
</g>
<text x="11.0" y="377.6" font-size="9.9" fill="#222" text-anchor="start" font-weight="normal" >Social zone</text>
<text transform="translate(146.5,366) rotate(-43)" font-size="9.6" fill="#222" text-anchor="middle">Empty zone</text>
<text x="7.0" y="391.3" font-size="11" fill="#111" text-anchor="start" font-weight="bold" >j</text>
<text x="85.0" y="405.8" font-size="9.9" fill="#222" text-anchor="middle" font-weight="normal" >Social preference in</text>
<text x="86.0" y="417.6" font-size="9.9" fill="#222" text-anchor="middle" font-weight="normal" >three-chamber test</text>
<path d="M10.0,445.7 L130.7,445.7 L130.7,490.9 L10.0,490.9 Z M33.5,425.4 L153.1,425.4 L153.1,470.59999999999997 L33.5,470.59999999999997 Z M10.0,445.7 L33.5,425.4 M130.7,445.7 L153.1,425.4 M130.7,490.9 L153.1,470.59999999999997 M10.0,490.9 L33.5,470.59999999999997 M50.4,490.9 L50.4,445.7 L59.6,437.7 L59.6,482.9 Z M66.4,477.1 L66.4,431.9 L73.9,425.4 L73.9,470.59999999999997 Z M89.4,490.9 L89.4,445.7 L98.6,437.7 L98.6,482.9 Z M105.4,477.1 L105.4,431.9 L112.9,425.4 L112.9,470.59999999999997 Z" fill="none" stroke="#444" stroke-width="0.75"/>
<line x1="14.8" y1="463.5" x2="14.8" y2="486" stroke="#888" stroke-width="0.35"/>
<line x1="16.4" y1="463.5" x2="16.4" y2="486" stroke="#888" stroke-width="0.35"/>
<line x1="18.1" y1="463.5" x2="18.1" y2="486" stroke="#888" stroke-width="0.35"/>
<line x1="19.7" y1="463.5" x2="19.7" y2="486" stroke="#888" stroke-width="0.35"/>
<line x1="21.4" y1="463.5" x2="21.4" y2="486" stroke="#888" stroke-width="0.35"/>
<line x1="23.0" y1="463.5" x2="23.0" y2="486" stroke="#888" stroke-width="0.35"/>
<line x1="24.6" y1="463.5" x2="24.6" y2="486" stroke="#888" stroke-width="0.35"/>
<line x1="26.3" y1="463.5" x2="26.3" y2="486" stroke="#888" stroke-width="0.35"/>
<line x1="27.9" y1="463.5" x2="27.9" y2="486" stroke="#888" stroke-width="0.35"/>
<line x1="29.6" y1="463.5" x2="29.6" y2="486" stroke="#888" stroke-width="0.35"/>
<line x1="31.2" y1="463.5" x2="31.2" y2="486" stroke="#888" stroke-width="0.35"/>
<ellipse cx="23" cy="486" rx="8.2" ry="3.4" fill="#e8c8c8" stroke="#666" stroke-width="0.5"/>
<ellipse cx="23" cy="463.5" rx="8.2" ry="3.4" fill="#3a3a3a"/>
<g transform="translate(23.0,486.0) rotate(0) scale(0.55,0.55)">
<path d="M-7.5,0 C-7.5,-3.2 -3,-3.8 1,-3.4 C4,-3.2 6,-2.6 8,-1.4 L10.5,0 L8,1.4 C6,2.6 4,3.2 1,3.4 C-3,3.8 -7.5,3.2 -7.5,0 Z" fill="#c09090"/>
<ellipse cx="5.2" cy="-2.6" rx="1.3" ry="1.1" fill="#c09090"/>
<path d="M10,0 L12,-1.2 M10,0 L12,1.2" stroke="#c09090" stroke-width="0.3"/>
<path d="M-7.3,0.3 C-10,0.8 -12,-0.8 -15,0.2" fill="none" stroke="#c09090" stroke-width="0.7"/>
</g>
<line x1="131.3" y1="450.5" x2="131.3" y2="474" stroke="#888" stroke-width="0.35"/>
<line x1="132.9" y1="450.5" x2="132.9" y2="474" stroke="#888" stroke-width="0.35"/>
<line x1="134.6" y1="450.5" x2="134.6" y2="474" stroke="#888" stroke-width="0.35"/>
<line x1="136.2" y1="450.5" x2="136.2" y2="474" stroke="#888" stroke-width="0.35"/>
<line x1="137.9" y1="450.5" x2="137.9" y2="474" stroke="#888" stroke-width="0.35"/>
<line x1="139.5" y1="450.5" x2="139.5" y2="474" stroke="#888" stroke-width="0.35"/>
<line x1="141.1" y1="450.5" x2="141.1" y2="474" stroke="#888" stroke-width="0.35"/>
<line x1="142.8" y1="450.5" x2="142.8" y2="474" stroke="#888" stroke-width="0.35"/>
<line x1="144.4" y1="450.5" x2="144.4" y2="474" stroke="#888" stroke-width="0.35"/>
<line x1="146.1" y1="450.5" x2="146.1" y2="474" stroke="#888" stroke-width="0.35"/>
<line x1="147.7" y1="450.5" x2="147.7" y2="474" stroke="#888" stroke-width="0.35"/>
<ellipse cx="139.5" cy="474" rx="8.2" ry="3.4" fill="#e8d8b8" stroke="#666" stroke-width="0.5"/>
<ellipse cx="139.5" cy="450.5" rx="8.2" ry="3.4" fill="#3a3a3a"/>
<g transform="translate(139.5,474.0) rotate(0) scale(0.55,0.55)">
<path d="M-7.5,0 C-7.5,-3.2 -3,-3.8 1,-3.4 C4,-3.2 6,-2.6 8,-1.4 L10.5,0 L8,1.4 C6,2.6 4,3.2 1,3.4 C-3,3.8 -7.5,3.2 -7.5,0 Z" fill="#d0b890"/>
<ellipse cx="5.2" cy="-2.6" rx="1.3" ry="1.1" fill="#d0b890"/>
<path d="M10,0 L12,-1.2 M10,0 L12,1.2" stroke="#d0b890" stroke-width="0.3"/>
<path d="M-7.3,0.3 C-10,0.8 -12,-0.8 -15,0.2" fill="none" stroke="#d0b890" stroke-width="0.7"/>
</g>
<path d="M134,422 C127,424 123,430 123,445 C123,458 124,465 124.5,472" fill="none" stroke="#888" stroke-width="0.5"/>
<g transform="translate(122.5,476.5) rotate(-12) scale(0.85,0.85)">
<path d="M-7.5,0 C-7.5,-3.2 -3,-3.8 1,-3.4 C4,-3.2 6,-2.6 8,-1.4 L10.5,0 L8,1.4 C6,2.6 4,3.2 1,3.4 C-3,3.8 -7.5,3.2 -7.5,0 Z" fill="#3c3c3c"/>
<ellipse cx="5.2" cy="-2.6" rx="1.3" ry="1.1" fill="#3c3c3c"/>
<path d="M10,0 L12,-1.2 M10,0 L12,1.2" stroke="#3c3c3c" stroke-width="0.3"/>
<path d="M-7.3,0.3 C-10,0.8 -12,-0.8 -15,0.2" fill="none" stroke="#3c3c3c" stroke-width="0.7"/>
</g>
<text x="9.2" y="501.3" font-size="9.9" fill="#222" text-anchor="start" font-weight="normal" >Original zone</text>
<text transform="translate(144,489.5) rotate(-43)" font-size="9.6" fill="#222" text-anchor="middle">Stranger zone</text>
<text x="168.0" y="131.4" font-size="11" fill="#111" text-anchor="start" font-weight="bold" >e</text>
<text x="424.0" y="133.0" font-size="11" fill="#111" text-anchor="start" font-weight="bold" >f</text>
<text x="170.5" y="264.7" font-size="11" fill="#111" text-anchor="start" font-weight="bold" >h</text>
<text x="423.0" y="264.7" font-size="11" fill="#111" text-anchor="start" font-weight="bold" >i</text>
<text x="170.5" y="392.0" font-size="11" fill="#111" text-anchor="start" font-weight="bold" >k</text>
<text x="423.0" y="391.8" font-size="11" fill="#111" text-anchor="start" font-weight="bold" >l</text>
<line x1="205.6" y1="138" x2="205.6" y2="220.7" stroke="#fbfbf0" stroke-width="1.2" stroke-dasharray="5,2.5" opacity="0.92"/>
<rect x="275.1" y="137.50" width="3.599999999999966" height="1.72" fill="#f8f818"/>
<rect x="275.1" y="138.82" width="3.599999999999966" height="1.72" fill="#f6f21e"/>
<rect x="275.1" y="140.13" width="3.599999999999966" height="1.72" fill="#f5ec22"/>
<rect x="275.1" y="141.45" width="3.599999999999966" height="1.72" fill="#f5e626"/>
<rect x="275.1" y="142.76" width="3.599999999999966" height="1.72" fill="#f6e028"/>
<rect x="275.1" y="144.08" width="3.599999999999966" height="1.72" fill="#f8da2b"/>
<rect x="275.1" y="145.39" width="3.599999999999966" height="1.72" fill="#fbd32e"/>
<rect x="275.1" y="146.71" width="3.599999999999966" height="1.72" fill="#fdcd31"/>
<rect x="275.1" y="148.03" width="3.599999999999966" height="1.72" fill="#fec735"/>
<rect x="275.1" y="149.34" width="3.599999999999966" height="1.72" fill="#fec13a"/>
<rect x="275.1" y="150.66" width="3.599999999999966" height="1.72" fill="#fcbc3d"/>
<rect x="275.1" y="151.97" width="3.599999999999966" height="1.72" fill="#f5ba3b"/>
<rect x="275.1" y="153.29" width="3.599999999999966" height="1.72" fill="#edba33"/>
<rect x="275.1" y="154.60" width="3.599999999999966" height="1.72" fill="#e3bb2c"/>
<rect x="275.1" y="155.92" width="3.599999999999966" height="1.72" fill="#d9bd28"/>
<rect x="275.1" y="157.23" width="3.599999999999966" height="1.72" fill="#cec028"/>
<rect x="275.1" y="158.55" width="3.599999999999966" height="1.72" fill="#c2c22c"/>
<rect x="275.1" y="159.87" width="3.599999999999966" height="1.72" fill="#b6c533"/>
<rect x="275.1" y="161.18" width="3.599999999999966" height="1.72" fill="#a8c73b"/>
<rect x="275.1" y="162.50" width="3.599999999999966" height="1.72" fill="#9bc945"/>
<rect x="275.1" y="163.81" width="3.599999999999966" height="1.72" fill="#8dcb50"/>
<rect x="275.1" y="165.13" width="3.599999999999966" height="1.72" fill="#7ecc5b"/>
<rect x="275.1" y="166.44" width="3.599999999999966" height="1.72" fill="#70cd65"/>
<rect x="275.1" y="167.76" width="3.599999999999966" height="1.72" fill="#62cd71"/>
<rect x="275.1" y="169.07" width="3.599999999999966" height="1.72" fill="#55cc7b"/>
<rect x="275.1" y="170.39" width="3.599999999999966" height="1.72" fill="#49cb85"/>
<rect x="275.1" y="171.71" width="3.599999999999966" height="1.72" fill="#3eca8f"/>
<rect x="275.1" y="173.02" width="3.599999999999966" height="1.72" fill="#37c898"/>
<rect x="275.1" y="174.34" width="3.599999999999966" height="1.72" fill="#31c6a0"/>
<rect x="275.1" y="175.65" width="3.599999999999966" height="1.72" fill="#2bc3a7"/>
<rect x="275.1" y="176.97" width="3.599999999999966" height="1.72" fill="#24c1af"/>
<rect x="275.1" y="178.28" width="3.599999999999966" height="1.72" fill="#18bfb6"/>
<rect x="275.1" y="179.60" width="3.599999999999966" height="1.72" fill="#0bbdbc"/>
<rect x="275.1" y="180.92" width="3.599999999999966" height="1.72" fill="#02bbc3"/>
<rect x="275.1" y="182.23" width="3.599999999999966" height="1.72" fill="#01b8ca"/>
<rect x="275.1" y="183.55" width="3.599999999999966" height="1.72" fill="#07b5d0"/>
<rect x="275.1" y="184.86" width="3.599999999999966" height="1.72" fill="#11b1d6"/>
<rect x="275.1" y="186.18" width="3.599999999999966" height="1.72" fill="#18aedb"/>
<rect x="275.1" y="187.49" width="3.599999999999966" height="1.72" fill="#1caadf"/>
<rect x="275.1" y="188.81" width="3.599999999999966" height="1.72" fill="#1fa5e2"/>
<rect x="275.1" y="190.12" width="3.599999999999966" height="1.72" fill="#23a1e5"/>
<rect x="275.1" y="191.44" width="3.599999999999966" height="1.72" fill="#259ce7"/>
<rect x="275.1" y="192.76" width="3.599999999999966" height="1.72" fill="#2797ea"/>
<rect x="275.1" y="194.07" width="3.599999999999966" height="1.72" fill="#2a92ee"/>
<rect x="275.1" y="195.39" width="3.599999999999966" height="1.72" fill="#2d8df2"/>
<rect x="275.1" y="196.70" width="3.599999999999966" height="1.72" fill="#2d88f6"/>
<rect x="275.1" y="198.02" width="3.599999999999966" height="1.72" fill="#2e83f9"/>
<rect x="275.1" y="199.33" width="3.599999999999966" height="1.72" fill="#317dfc"/>
<rect x="275.1" y="200.65" width="3.599999999999966" height="1.72" fill="#3777fe"/>
<rect x="275.1" y="201.97" width="3.599999999999966" height="1.72" fill="#3d71ff"/>
<rect x="275.1" y="203.28" width="3.599999999999966" height="1.72" fill="#416bfe"/>
<rect x="275.1" y="204.60" width="3.599999999999966" height="1.72" fill="#4465fd"/>
<rect x="275.1" y="205.91" width="3.599999999999966" height="1.72" fill="#465ffb"/>
<rect x="275.1" y="207.23" width="3.599999999999966" height="1.72" fill="#475af9"/>
<rect x="275.1" y="208.54" width="3.599999999999966" height="1.72" fill="#4854f6"/>
<rect x="275.1" y="209.86" width="3.599999999999966" height="1.72" fill="#484ff2"/>
<rect x="275.1" y="211.17" width="3.599999999999966" height="1.72" fill="#4849ed"/>
<rect x="275.1" y="212.49" width="3.599999999999966" height="1.72" fill="#4744e8"/>
<rect x="275.1" y="213.81" width="3.599999999999966" height="1.72" fill="#463ee1"/>
<rect x="275.1" y="215.12" width="3.599999999999966" height="1.72" fill="#4539d9"/>
<rect x="275.1" y="216.44" width="3.599999999999966" height="1.72" fill="#4434cf"/>
<rect x="275.1" y="217.75" width="3.599999999999966" height="1.72" fill="#4330c5"/>
<rect x="275.1" y="219.07" width="3.599999999999966" height="1.72" fill="#412cba"/>
<rect x="275.1" y="220.38" width="3.599999999999966" height="1.72" fill="#3f28ae"/>
<line x1="278.7" y1="137.5" x2="278.7" y2="221.7" stroke="#444" stroke-width="0.6" />
<line x1="277.5" y1="145.9" x2="278.7" y2="145.9" stroke="#333" stroke-width="0.7" />
<line x1="277.5" y1="154.3" x2="278.7" y2="154.3" stroke="#333" stroke-width="0.7" />
<line x1="277.5" y1="162.8" x2="278.7" y2="162.8" stroke="#333" stroke-width="0.7" />
<line x1="277.5" y1="171.2" x2="278.7" y2="171.2" stroke="#333" stroke-width="0.7" />
<line x1="277.5" y1="179.6" x2="278.7" y2="179.6" stroke="#333" stroke-width="0.7" />
<line x1="277.5" y1="188.0" x2="278.7" y2="188.0" stroke="#333" stroke-width="0.7" />
<line x1="277.5" y1="196.4" x2="278.7" y2="196.4" stroke="#333" stroke-width="0.7" />
<line x1="277.5" y1="204.9" x2="278.7" y2="204.9" stroke="#333" stroke-width="0.7" />
<line x1="277.5" y1="213.3" x2="278.7" y2="213.3" stroke="#333" stroke-width="0.7" />
<text x="280.0" y="141.0" font-size="10" fill="#222" text-anchor="start" font-weight="normal" >15</text>
<text x="279.0" y="220.2" font-size="10" fill="#222" text-anchor="start" font-weight="normal" >-35</text>
<text transform="translate(173,194.3) rotate(-90)" font-size="10.5" fill="#222" font-style="italic"><tspan textLength="26.4" lengthAdjust="spacingAndGlyphs">ΔF/F</tspan><tspan font-size="7" dy="3.4" dx="0.5">0</tspan></text>
<text x="181.7" y="230.6" font-size="10" fill="#222" text-anchor="middle" font-weight="normal" >-2</text>
<text x="206.7" y="230.6" font-size="10" fill="#222" text-anchor="middle" font-weight="normal" >0</text>
<text x="269.7" y="230.6" font-size="10" fill="#222" text-anchor="middle" font-weight="normal" >5</text>
<text x="234.3" y="244.4" font-size="10" fill="#222" text-anchor="middle" font-weight="normal" >Time (s)</text>
<line x1="464.7" y1="142.2" x2="464.7" y2="224.8" stroke="#fbfbf0" stroke-width="1.2" stroke-dasharray="5,2.5" opacity="0.6"/>
<rect x="538.5" y="141.00" width="3.7000000000000455" height="1.72" fill="#f8f818"/>
<rect x="538.5" y="142.32" width="3.7000000000000455" height="1.72" fill="#f6f21e"/>
<rect x="538.5" y="143.64" width="3.7000000000000455" height="1.72" fill="#f5ec22"/>
<rect x="538.5" y="144.96" width="3.7000000000000455" height="1.72" fill="#f5e626"/>
<rect x="538.5" y="146.28" width="3.7000000000000455" height="1.72" fill="#f6e028"/>
<rect x="538.5" y="147.59" width="3.7000000000000455" height="1.72" fill="#f8da2b"/>
<rect x="538.5" y="148.91" width="3.7000000000000455" height="1.72" fill="#fbd32e"/>
<rect x="538.5" y="150.23" width="3.7000000000000455" height="1.72" fill="#fdcd31"/>
<rect x="538.5" y="151.55" width="3.7000000000000455" height="1.72" fill="#fec735"/>
<rect x="538.5" y="152.87" width="3.7000000000000455" height="1.72" fill="#fec13a"/>
<rect x="538.5" y="154.19" width="3.7000000000000455" height="1.72" fill="#fcbc3d"/>
<rect x="538.5" y="155.51" width="3.7000000000000455" height="1.72" fill="#f5ba3b"/>
<rect x="538.5" y="156.82" width="3.7000000000000455" height="1.72" fill="#edba33"/>
<rect x="538.5" y="158.14" width="3.7000000000000455" height="1.72" fill="#e3bb2c"/>
<rect x="538.5" y="159.46" width="3.7000000000000455" height="1.72" fill="#d9bd28"/>
<rect x="538.5" y="160.78" width="3.7000000000000455" height="1.72" fill="#cec028"/>
<rect x="538.5" y="162.10" width="3.7000000000000455" height="1.72" fill="#c2c22c"/>
<rect x="538.5" y="163.42" width="3.7000000000000455" height="1.72" fill="#b6c533"/>
<rect x="538.5" y="164.74" width="3.7000000000000455" height="1.72" fill="#a8c73b"/>
<rect x="538.5" y="166.06" width="3.7000000000000455" height="1.72" fill="#9bc945"/>
<rect x="538.5" y="167.38" width="3.7000000000000455" height="1.72" fill="#8dcb50"/>
<rect x="538.5" y="168.69" width="3.7000000000000455" height="1.72" fill="#7ecc5b"/>
<rect x="538.5" y="170.01" width="3.7000000000000455" height="1.72" fill="#70cd65"/>
<rect x="538.5" y="171.33" width="3.7000000000000455" height="1.72" fill="#62cd71"/>
<rect x="538.5" y="172.65" width="3.7000000000000455" height="1.72" fill="#55cc7b"/>
<rect x="538.5" y="173.97" width="3.7000000000000455" height="1.72" fill="#49cb85"/>
<rect x="538.5" y="175.29" width="3.7000000000000455" height="1.72" fill="#3eca8f"/>
<rect x="538.5" y="176.61" width="3.7000000000000455" height="1.72" fill="#37c898"/>
<rect x="538.5" y="177.93" width="3.7000000000000455" height="1.72" fill="#31c6a0"/>
<rect x="538.5" y="179.24" width="3.7000000000000455" height="1.72" fill="#2bc3a7"/>
<rect x="538.5" y="180.56" width="3.7000000000000455" height="1.72" fill="#24c1af"/>
<rect x="538.5" y="181.88" width="3.7000000000000455" height="1.72" fill="#18bfb6"/>
<rect x="538.5" y="183.20" width="3.7000000000000455" height="1.72" fill="#0bbdbc"/>
<rect x="538.5" y="184.52" width="3.7000000000000455" height="1.72" fill="#02bbc3"/>
<rect x="538.5" y="185.84" width="3.7000000000000455" height="1.72" fill="#01b8ca"/>
<rect x="538.5" y="187.16" width="3.7000000000000455" height="1.72" fill="#07b5d0"/>
<rect x="538.5" y="188.47" width="3.7000000000000455" height="1.72" fill="#11b1d6"/>
<rect x="538.5" y="189.79" width="3.7000000000000455" height="1.72" fill="#18aedb"/>
<rect x="538.5" y="191.11" width="3.7000000000000455" height="1.72" fill="#1caadf"/>
<rect x="538.5" y="192.43" width="3.7000000000000455" height="1.72" fill="#1fa5e2"/>
<rect x="538.5" y="193.75" width="3.7000000000000455" height="1.72" fill="#23a1e5"/>
<rect x="538.5" y="195.07" width="3.7000000000000455" height="1.72" fill="#259ce7"/>
<rect x="538.5" y="196.39" width="3.7000000000000455" height="1.72" fill="#2797ea"/>
<rect x="538.5" y="197.71" width="3.7000000000000455" height="1.72" fill="#2a92ee"/>
<rect x="538.5" y="199.03" width="3.7000000000000455" height="1.72" fill="#2d8df2"/>
<rect x="538.5" y="200.34" width="3.7000000000000455" height="1.72" fill="#2d88f6"/>
<rect x="538.5" y="201.66" width="3.7000000000000455" height="1.72" fill="#2e83f9"/>
<rect x="538.5" y="202.98" width="3.7000000000000455" height="1.72" fill="#317dfc"/>
<rect x="538.5" y="204.30" width="3.7000000000000455" height="1.72" fill="#3777fe"/>
<rect x="538.5" y="205.62" width="3.7000000000000455" height="1.72" fill="#3d71ff"/>
<rect x="538.5" y="206.94" width="3.7000000000000455" height="1.72" fill="#416bfe"/>
<rect x="538.5" y="208.26" width="3.7000000000000455" height="1.72" fill="#4465fd"/>
<rect x="538.5" y="209.57" width="3.7000000000000455" height="1.72" fill="#465ffb"/>
<rect x="538.5" y="210.89" width="3.7000000000000455" height="1.72" fill="#475af9"/>
<rect x="538.5" y="212.21" width="3.7000000000000455" height="1.72" fill="#4854f6"/>
<rect x="538.5" y="213.53" width="3.7000000000000455" height="1.72" fill="#484ff2"/>
<rect x="538.5" y="214.85" width="3.7000000000000455" height="1.72" fill="#4849ed"/>
<rect x="538.5" y="216.17" width="3.7000000000000455" height="1.72" fill="#4744e8"/>
<rect x="538.5" y="217.49" width="3.7000000000000455" height="1.72" fill="#463ee1"/>
<rect x="538.5" y="218.81" width="3.7000000000000455" height="1.72" fill="#4539d9"/>
<rect x="538.5" y="220.12" width="3.7000000000000455" height="1.72" fill="#4434cf"/>
<rect x="538.5" y="221.44" width="3.7000000000000455" height="1.72" fill="#4330c5"/>
<rect x="538.5" y="222.76" width="3.7000000000000455" height="1.72" fill="#412cba"/>
<rect x="538.5" y="224.08" width="3.7000000000000455" height="1.72" fill="#3f28ae"/>
<line x1="542.2" y1="141.0" x2="542.2" y2="225.4" stroke="#444" stroke-width="0.6" />
<line x1="541.0" y1="149.4" x2="542.2" y2="149.4" stroke="#333" stroke-width="0.7" />
<line x1="541.0" y1="157.9" x2="542.2" y2="157.9" stroke="#333" stroke-width="0.7" />
<line x1="541.0" y1="166.3" x2="542.2" y2="166.3" stroke="#333" stroke-width="0.7" />
<line x1="541.0" y1="174.8" x2="542.2" y2="174.8" stroke="#333" stroke-width="0.7" />
<line x1="541.0" y1="183.2" x2="542.2" y2="183.2" stroke="#333" stroke-width="0.7" />
<line x1="541.0" y1="191.6" x2="542.2" y2="191.6" stroke="#333" stroke-width="0.7" />
<line x1="541.0" y1="200.1" x2="542.2" y2="200.1" stroke="#333" stroke-width="0.7" />
<line x1="541.0" y1="208.5" x2="542.2" y2="208.5" stroke="#333" stroke-width="0.7" />
<line x1="541.0" y1="217.0" x2="542.2" y2="217.0" stroke="#333" stroke-width="0.7" />
<text x="543.0" y="144.5" font-size="10" fill="#222" text-anchor="start" font-weight="normal" >15</text>
<text x="542.0" y="223.9" font-size="10" fill="#222" text-anchor="start" font-weight="normal" >-35</text>
<text transform="translate(430.9,194.2) rotate(-90)" font-size="10.5" fill="#222" font-style="italic"><tspan textLength="26.4" lengthAdjust="spacingAndGlyphs">ΔF/F</tspan><tspan font-size="7" dy="3.4" dx="0.5">0</tspan></text>
<text x="439.2" y="236.1" font-size="10" fill="#222" text-anchor="middle" font-weight="normal" >-2</text>
<text x="465.2" y="236.1" font-size="10" fill="#222" text-anchor="middle" font-weight="normal" >0</text>
<text x="531.3" y="236.1" font-size="10" fill="#222" text-anchor="middle" font-weight="normal" >5</text>
<text x="492.4" y="244.7" font-size="10" fill="#222" text-anchor="middle" font-weight="normal" >Time (s)</text>
<line x1="204.5" y1="269.1" x2="204.5" y2="351.8" stroke="#fbfbf0" stroke-width="1.2" stroke-dasharray="5,2.5" opacity="0.92"/>
<rect x="275.4" y="268.00" width="3.900000000000034" height="1.72" fill="#f8f818"/>
<rect x="275.4" y="269.32" width="3.900000000000034" height="1.72" fill="#f6f21e"/>
<rect x="275.4" y="270.65" width="3.900000000000034" height="1.72" fill="#f5ec22"/>
<rect x="275.4" y="271.97" width="3.900000000000034" height="1.72" fill="#f5e626"/>
<rect x="275.4" y="273.29" width="3.900000000000034" height="1.72" fill="#f6e028"/>
<rect x="275.4" y="274.62" width="3.900000000000034" height="1.72" fill="#f8da2b"/>
<rect x="275.4" y="275.94" width="3.900000000000034" height="1.72" fill="#fbd32e"/>
<rect x="275.4" y="277.26" width="3.900000000000034" height="1.72" fill="#fdcd31"/>
<rect x="275.4" y="278.59" width="3.900000000000034" height="1.72" fill="#fec735"/>
<rect x="275.4" y="279.91" width="3.900000000000034" height="1.72" fill="#fec13a"/>
<rect x="275.4" y="281.23" width="3.900000000000034" height="1.72" fill="#fcbc3d"/>
<rect x="275.4" y="282.56" width="3.900000000000034" height="1.72" fill="#f5ba3b"/>
<rect x="275.4" y="283.88" width="3.900000000000034" height="1.72" fill="#edba33"/>
<rect x="275.4" y="285.20" width="3.900000000000034" height="1.72" fill="#e3bb2c"/>
<rect x="275.4" y="286.53" width="3.900000000000034" height="1.72" fill="#d9bd28"/>
<rect x="275.4" y="287.85" width="3.900000000000034" height="1.72" fill="#cec028"/>
<rect x="275.4" y="289.18" width="3.900000000000034" height="1.72" fill="#c2c22c"/>
<rect x="275.4" y="290.50" width="3.900000000000034" height="1.72" fill="#b6c533"/>
<rect x="275.4" y="291.82" width="3.900000000000034" height="1.72" fill="#a8c73b"/>
<rect x="275.4" y="293.15" width="3.900000000000034" height="1.72" fill="#9bc945"/>
<rect x="275.4" y="294.47" width="3.900000000000034" height="1.72" fill="#8dcb50"/>
<rect x="275.4" y="295.79" width="3.900000000000034" height="1.72" fill="#7ecc5b"/>
<rect x="275.4" y="297.12" width="3.900000000000034" height="1.72" fill="#70cd65"/>
<rect x="275.4" y="298.44" width="3.900000000000034" height="1.72" fill="#62cd71"/>
<rect x="275.4" y="299.76" width="3.900000000000034" height="1.72" fill="#55cc7b"/>
<rect x="275.4" y="301.09" width="3.900000000000034" height="1.72" fill="#49cb85"/>
<rect x="275.4" y="302.41" width="3.900000000000034" height="1.72" fill="#3eca8f"/>
<rect x="275.4" y="303.73" width="3.900000000000034" height="1.72" fill="#37c898"/>
<rect x="275.4" y="305.06" width="3.900000000000034" height="1.72" fill="#31c6a0"/>
<rect x="275.4" y="306.38" width="3.900000000000034" height="1.72" fill="#2bc3a7"/>
<rect x="275.4" y="307.70" width="3.900000000000034" height="1.72" fill="#24c1af"/>
<rect x="275.4" y="309.03" width="3.900000000000034" height="1.72" fill="#18bfb6"/>
<rect x="275.4" y="310.35" width="3.900000000000034" height="1.72" fill="#0bbdbc"/>
<rect x="275.4" y="311.67" width="3.900000000000034" height="1.72" fill="#02bbc3"/>
<rect x="275.4" y="313.00" width="3.900000000000034" height="1.72" fill="#01b8ca"/>
<rect x="275.4" y="314.32" width="3.900000000000034" height="1.72" fill="#07b5d0"/>
<rect x="275.4" y="315.64" width="3.900000000000034" height="1.72" fill="#11b1d6"/>
<rect x="275.4" y="316.97" width="3.900000000000034" height="1.72" fill="#18aedb"/>
<rect x="275.4" y="318.29" width="3.900000000000034" height="1.72" fill="#1caadf"/>
<rect x="275.4" y="319.61" width="3.900000000000034" height="1.72" fill="#1fa5e2"/>
<rect x="275.4" y="320.94" width="3.900000000000034" height="1.72" fill="#23a1e5"/>
<rect x="275.4" y="322.26" width="3.900000000000034" height="1.72" fill="#259ce7"/>
<rect x="275.4" y="323.58" width="3.900000000000034" height="1.72" fill="#2797ea"/>
<rect x="275.4" y="324.91" width="3.900000000000034" height="1.72" fill="#2a92ee"/>
<rect x="275.4" y="326.23" width="3.900000000000034" height="1.72" fill="#2d8df2"/>
<rect x="275.4" y="327.55" width="3.900000000000034" height="1.72" fill="#2d88f6"/>
<rect x="275.4" y="328.88" width="3.900000000000034" height="1.72" fill="#2e83f9"/>
<rect x="275.4" y="330.20" width="3.900000000000034" height="1.72" fill="#317dfc"/>
<rect x="275.4" y="331.52" width="3.900000000000034" height="1.72" fill="#3777fe"/>
<rect x="275.4" y="332.85" width="3.900000000000034" height="1.72" fill="#3d71ff"/>
<rect x="275.4" y="334.17" width="3.900000000000034" height="1.72" fill="#416bfe"/>
<rect x="275.4" y="335.50" width="3.900000000000034" height="1.72" fill="#4465fd"/>
<rect x="275.4" y="336.82" width="3.900000000000034" height="1.72" fill="#465ffb"/>
<rect x="275.4" y="338.14" width="3.900000000000034" height="1.72" fill="#475af9"/>
<rect x="275.4" y="339.47" width="3.900000000000034" height="1.72" fill="#4854f6"/>
<rect x="275.4" y="340.79" width="3.900000000000034" height="1.72" fill="#484ff2"/>
<rect x="275.4" y="342.11" width="3.900000000000034" height="1.72" fill="#4849ed"/>
<rect x="275.4" y="343.44" width="3.900000000000034" height="1.72" fill="#4744e8"/>
<rect x="275.4" y="344.76" width="3.900000000000034" height="1.72" fill="#463ee1"/>
<rect x="275.4" y="346.08" width="3.900000000000034" height="1.72" fill="#4539d9"/>
<rect x="275.4" y="347.41" width="3.900000000000034" height="1.72" fill="#4434cf"/>
<rect x="275.4" y="348.73" width="3.900000000000034" height="1.72" fill="#4330c5"/>
<rect x="275.4" y="350.05" width="3.900000000000034" height="1.72" fill="#412cba"/>
<rect x="275.4" y="351.38" width="3.900000000000034" height="1.72" fill="#3f28ae"/>
<line x1="279.3" y1="268.0" x2="279.3" y2="352.7" stroke="#444" stroke-width="0.6" />
<line x1="278.1" y1="276.5" x2="279.3" y2="276.5" stroke="#333" stroke-width="0.7" />
<line x1="278.1" y1="284.9" x2="279.3" y2="284.9" stroke="#333" stroke-width="0.7" />
<line x1="278.1" y1="293.4" x2="279.3" y2="293.4" stroke="#333" stroke-width="0.7" />
<line x1="278.1" y1="301.9" x2="279.3" y2="301.9" stroke="#333" stroke-width="0.7" />
<line x1="278.1" y1="310.4" x2="279.3" y2="310.4" stroke="#333" stroke-width="0.7" />
<line x1="278.1" y1="318.8" x2="279.3" y2="318.8" stroke="#333" stroke-width="0.7" />
<line x1="278.1" y1="327.3" x2="279.3" y2="327.3" stroke="#333" stroke-width="0.7" />
<line x1="278.1" y1="335.8" x2="279.3" y2="335.8" stroke="#333" stroke-width="0.7" />
<line x1="278.1" y1="344.2" x2="279.3" y2="344.2" stroke="#333" stroke-width="0.7" />
<text x="281.5" y="271.5" font-size="10" fill="#222" text-anchor="start" font-weight="normal" >15</text>
<text x="280.5" y="351.2" font-size="10" fill="#222" text-anchor="start" font-weight="normal" >-35</text>
<text transform="translate(172.7,329.6) rotate(-90)" font-size="10.5" fill="#222" font-style="italic"><tspan textLength="26.4" lengthAdjust="spacingAndGlyphs">ΔF/F</tspan><tspan font-size="7" dy="3.4" dx="0.5">0</tspan></text>
<text x="179.2" y="364.1" font-size="10" fill="#222" text-anchor="middle" font-weight="normal" >-2</text>
<text x="204.6" y="364.1" font-size="10" fill="#222" text-anchor="middle" font-weight="normal" >0</text>
<text x="269.7" y="364.1" font-size="10" fill="#222" text-anchor="middle" font-weight="normal" >5</text>
<text x="234.3" y="373.6" font-size="10" fill="#222" text-anchor="middle" font-weight="normal" >Time (s)</text>
<line x1="461.5" y1="267.8" x2="461.5" y2="352.8" stroke="#fbfbf0" stroke-width="1.2" stroke-dasharray="5,2.5" opacity="0.92"/>
<rect x="537.5" y="268.50" width="3.1000000000000227" height="1.72" fill="#f8f818"/>
<rect x="537.5" y="269.82" width="3.1000000000000227" height="1.72" fill="#f6f21e"/>
<rect x="537.5" y="271.13" width="3.1000000000000227" height="1.72" fill="#f5ec22"/>
<rect x="537.5" y="272.45" width="3.1000000000000227" height="1.72" fill="#f5e626"/>
<rect x="537.5" y="273.76" width="3.1000000000000227" height="1.72" fill="#f6e028"/>
<rect x="537.5" y="275.08" width="3.1000000000000227" height="1.72" fill="#f8da2b"/>
<rect x="537.5" y="276.39" width="3.1000000000000227" height="1.72" fill="#fbd32e"/>
<rect x="537.5" y="277.71" width="3.1000000000000227" height="1.72" fill="#fdcd31"/>
<rect x="537.5" y="279.02" width="3.1000000000000227" height="1.72" fill="#fec735"/>
<rect x="537.5" y="280.34" width="3.1000000000000227" height="1.72" fill="#fec13a"/>
<rect x="537.5" y="281.66" width="3.1000000000000227" height="1.72" fill="#fcbc3d"/>
<rect x="537.5" y="282.97" width="3.1000000000000227" height="1.72" fill="#f5ba3b"/>
<rect x="537.5" y="284.29" width="3.1000000000000227" height="1.72" fill="#edba33"/>
<rect x="537.5" y="285.60" width="3.1000000000000227" height="1.72" fill="#e3bb2c"/>
<rect x="537.5" y="286.92" width="3.1000000000000227" height="1.72" fill="#d9bd28"/>
<rect x="537.5" y="288.23" width="3.1000000000000227" height="1.72" fill="#cec028"/>
<rect x="537.5" y="289.55" width="3.1000000000000227" height="1.72" fill="#c2c22c"/>
<rect x="537.5" y="290.87" width="3.1000000000000227" height="1.72" fill="#b6c533"/>
<rect x="537.5" y="292.18" width="3.1000000000000227" height="1.72" fill="#a8c73b"/>
<rect x="537.5" y="293.50" width="3.1000000000000227" height="1.72" fill="#9bc945"/>
<rect x="537.5" y="294.81" width="3.1000000000000227" height="1.72" fill="#8dcb50"/>
<rect x="537.5" y="296.13" width="3.1000000000000227" height="1.72" fill="#7ecc5b"/>
<rect x="537.5" y="297.44" width="3.1000000000000227" height="1.72" fill="#70cd65"/>
<rect x="537.5" y="298.76" width="3.1000000000000227" height="1.72" fill="#62cd71"/>
<rect x="537.5" y="300.07" width="3.1000000000000227" height="1.72" fill="#55cc7b"/>
<rect x="537.5" y="301.39" width="3.1000000000000227" height="1.72" fill="#49cb85"/>
<rect x="537.5" y="302.71" width="3.1000000000000227" height="1.72" fill="#3eca8f"/>
<rect x="537.5" y="304.02" width="3.1000000000000227" height="1.72" fill="#37c898"/>
<rect x="537.5" y="305.34" width="3.1000000000000227" height="1.72" fill="#31c6a0"/>
<rect x="537.5" y="306.65" width="3.1000000000000227" height="1.72" fill="#2bc3a7"/>
<rect x="537.5" y="307.97" width="3.1000000000000227" height="1.72" fill="#24c1af"/>
<rect x="537.5" y="309.28" width="3.1000000000000227" height="1.72" fill="#18bfb6"/>
<rect x="537.5" y="310.60" width="3.1000000000000227" height="1.72" fill="#0bbdbc"/>
<rect x="537.5" y="311.92" width="3.1000000000000227" height="1.72" fill="#02bbc3"/>
<rect x="537.5" y="313.23" width="3.1000000000000227" height="1.72" fill="#01b8ca"/>
<rect x="537.5" y="314.55" width="3.1000000000000227" height="1.72" fill="#07b5d0"/>
<rect x="537.5" y="315.86" width="3.1000000000000227" height="1.72" fill="#11b1d6"/>
<rect x="537.5" y="317.18" width="3.1000000000000227" height="1.72" fill="#18aedb"/>
<rect x="537.5" y="318.49" width="3.1000000000000227" height="1.72" fill="#1caadf"/>
<rect x="537.5" y="319.81" width="3.1000000000000227" height="1.72" fill="#1fa5e2"/>
<rect x="537.5" y="321.12" width="3.1000000000000227" height="1.72" fill="#23a1e5"/>
<rect x="537.5" y="322.44" width="3.1000000000000227" height="1.72" fill="#259ce7"/>
<rect x="537.5" y="323.76" width="3.1000000000000227" height="1.72" fill="#2797ea"/>
<rect x="537.5" y="325.07" width="3.1000000000000227" height="1.72" fill="#2a92ee"/>
<rect x="537.5" y="326.39" width="3.1000000000000227" height="1.72" fill="#2d8df2"/>
<rect x="537.5" y="327.70" width="3.1000000000000227" height="1.72" fill="#2d88f6"/>
<rect x="537.5" y="329.02" width="3.1000000000000227" height="1.72" fill="#2e83f9"/>
<rect x="537.5" y="330.33" width="3.1000000000000227" height="1.72" fill="#317dfc"/>
<rect x="537.5" y="331.65" width="3.1000000000000227" height="1.72" fill="#3777fe"/>
<rect x="537.5" y="332.97" width="3.1000000000000227" height="1.72" fill="#3d71ff"/>
<rect x="537.5" y="334.28" width="3.1000000000000227" height="1.72" fill="#416bfe"/>
<rect x="537.5" y="335.60" width="3.1000000000000227" height="1.72" fill="#4465fd"/>
<rect x="537.5" y="336.91" width="3.1000000000000227" height="1.72" fill="#465ffb"/>
<rect x="537.5" y="338.23" width="3.1000000000000227" height="1.72" fill="#475af9"/>
<rect x="537.5" y="339.54" width="3.1000000000000227" height="1.72" fill="#4854f6"/>
<rect x="537.5" y="340.86" width="3.1000000000000227" height="1.72" fill="#484ff2"/>
<rect x="537.5" y="342.17" width="3.1000000000000227" height="1.72" fill="#4849ed"/>
<rect x="537.5" y="343.49" width="3.1000000000000227" height="1.72" fill="#4744e8"/>
<rect x="537.5" y="344.81" width="3.1000000000000227" height="1.72" fill="#463ee1"/>
<rect x="537.5" y="346.12" width="3.1000000000000227" height="1.72" fill="#4539d9"/>
<rect x="537.5" y="347.44" width="3.1000000000000227" height="1.72" fill="#4434cf"/>
<rect x="537.5" y="348.75" width="3.1000000000000227" height="1.72" fill="#4330c5"/>
<rect x="537.5" y="350.07" width="3.1000000000000227" height="1.72" fill="#412cba"/>
<rect x="537.5" y="351.38" width="3.1000000000000227" height="1.72" fill="#3f28ae"/>
<line x1="540.6" y1="268.5" x2="540.6" y2="352.7" stroke="#444" stroke-width="0.6" />
<line x1="539.4" y1="276.9" x2="540.6" y2="276.9" stroke="#333" stroke-width="0.7" />
<line x1="539.4" y1="285.3" x2="540.6" y2="285.3" stroke="#333" stroke-width="0.7" />
<line x1="539.4" y1="293.8" x2="540.6" y2="293.8" stroke="#333" stroke-width="0.7" />
<line x1="539.4" y1="302.2" x2="540.6" y2="302.2" stroke="#333" stroke-width="0.7" />
<line x1="539.4" y1="310.6" x2="540.6" y2="310.6" stroke="#333" stroke-width="0.7" />
<line x1="539.4" y1="319.0" x2="540.6" y2="319.0" stroke="#333" stroke-width="0.7" />
<line x1="539.4" y1="327.4" x2="540.6" y2="327.4" stroke="#333" stroke-width="0.7" />
<line x1="539.4" y1="335.9" x2="540.6" y2="335.9" stroke="#333" stroke-width="0.7" />
<line x1="539.4" y1="344.3" x2="540.6" y2="344.3" stroke="#333" stroke-width="0.7" />
<text x="542.0" y="272.0" font-size="10" fill="#222" text-anchor="start" font-weight="normal" >15</text>
<text x="541.0" y="351.2" font-size="10" fill="#222" text-anchor="start" font-weight="normal" >-35</text>
<text transform="translate(431.2,329.2) rotate(-90)" font-size="10.5" fill="#222" font-style="italic"><tspan textLength="26.4" lengthAdjust="spacingAndGlyphs">ΔF/F</tspan><tspan font-size="7" dy="3.4" dx="0.5">0</tspan></text>
<text x="434.8" y="362.2" font-size="10" fill="#222" text-anchor="middle" font-weight="normal" >-2</text>
<text x="461.5" y="362.2" font-size="10" fill="#222" text-anchor="middle" font-weight="normal" >0</text>
<text x="531.0" y="362.2" font-size="10" fill="#222" text-anchor="middle" font-weight="normal" >5</text>
<text x="492.4" y="373.6" font-size="10" fill="#222" text-anchor="middle" font-weight="normal" >Time (s)</text>
<line x1="205.5" y1="395.3" x2="205.5" y2="483.2" stroke="#fbfbf0" stroke-width="1.2" stroke-dasharray="5,2.5" opacity="0.92"/>
<rect x="273.2" y="395.00" width="5.0" height="1.78" fill="#f8f818"/>
<rect x="273.2" y="396.38" width="5.0" height="1.78" fill="#f6f21e"/>
<rect x="273.2" y="397.76" width="5.0" height="1.78" fill="#f5ec22"/>
<rect x="273.2" y="399.14" width="5.0" height="1.78" fill="#f5e626"/>
<rect x="273.2" y="400.52" width="5.0" height="1.78" fill="#f6e028"/>
<rect x="273.2" y="401.91" width="5.0" height="1.78" fill="#f8da2b"/>
<rect x="273.2" y="403.29" width="5.0" height="1.78" fill="#fbd32e"/>
<rect x="273.2" y="404.67" width="5.0" height="1.78" fill="#fdcd31"/>
<rect x="273.2" y="406.05" width="5.0" height="1.78" fill="#fec735"/>
<rect x="273.2" y="407.43" width="5.0" height="1.78" fill="#fec13a"/>
<rect x="273.2" y="408.81" width="5.0" height="1.78" fill="#fcbc3d"/>
<rect x="273.2" y="410.19" width="5.0" height="1.78" fill="#f5ba3b"/>
<rect x="273.2" y="411.57" width="5.0" height="1.78" fill="#edba33"/>
<rect x="273.2" y="412.96" width="5.0" height="1.78" fill="#e3bb2c"/>
<rect x="273.2" y="414.34" width="5.0" height="1.78" fill="#d9bd28"/>
<rect x="273.2" y="415.72" width="5.0" height="1.78" fill="#cec028"/>
<rect x="273.2" y="417.10" width="5.0" height="1.78" fill="#c2c22c"/>
<rect x="273.2" y="418.48" width="5.0" height="1.78" fill="#b6c533"/>
<rect x="273.2" y="419.86" width="5.0" height="1.78" fill="#a8c73b"/>
<rect x="273.2" y="421.24" width="5.0" height="1.78" fill="#9bc945"/>
<rect x="273.2" y="422.62" width="5.0" height="1.78" fill="#8dcb50"/>
<rect x="273.2" y="424.01" width="5.0" height="1.78" fill="#7ecc5b"/>
<rect x="273.2" y="425.39" width="5.0" height="1.78" fill="#70cd65"/>
<rect x="273.2" y="426.77" width="5.0" height="1.78" fill="#62cd71"/>
<rect x="273.2" y="428.15" width="5.0" height="1.78" fill="#55cc7b"/>
<rect x="273.2" y="429.53" width="5.0" height="1.78" fill="#49cb85"/>
<rect x="273.2" y="430.91" width="5.0" height="1.78" fill="#3eca8f"/>
<rect x="273.2" y="432.29" width="5.0" height="1.78" fill="#37c898"/>
<rect x="273.2" y="433.68" width="5.0" height="1.78" fill="#31c6a0"/>
<rect x="273.2" y="435.06" width="5.0" height="1.78" fill="#2bc3a7"/>
<rect x="273.2" y="436.44" width="5.0" height="1.78" fill="#24c1af"/>
<rect x="273.2" y="437.82" width="5.0" height="1.78" fill="#18bfb6"/>
<rect x="273.2" y="439.20" width="5.0" height="1.78" fill="#0bbdbc"/>
<rect x="273.2" y="440.58" width="5.0" height="1.78" fill="#02bbc3"/>
<rect x="273.2" y="441.96" width="5.0" height="1.78" fill="#01b8ca"/>
<rect x="273.2" y="443.34" width="5.0" height="1.78" fill="#07b5d0"/>
<rect x="273.2" y="444.72" width="5.0" height="1.78" fill="#11b1d6"/>
<rect x="273.2" y="446.11" width="5.0" height="1.78" fill="#18aedb"/>
<rect x="273.2" y="447.49" width="5.0" height="1.78" fill="#1caadf"/>
<rect x="273.2" y="448.87" width="5.0" height="1.78" fill="#1fa5e2"/>
<rect x="273.2" y="450.25" width="5.0" height="1.78" fill="#23a1e5"/>
<rect x="273.2" y="451.63" width="5.0" height="1.78" fill="#259ce7"/>
<rect x="273.2" y="453.01" width="5.0" height="1.78" fill="#2797ea"/>
<rect x="273.2" y="454.39" width="5.0" height="1.78" fill="#2a92ee"/>
<rect x="273.2" y="455.77" width="5.0" height="1.78" fill="#2d8df2"/>
<rect x="273.2" y="457.16" width="5.0" height="1.78" fill="#2d88f6"/>
<rect x="273.2" y="458.54" width="5.0" height="1.78" fill="#2e83f9"/>
<rect x="273.2" y="459.92" width="5.0" height="1.78" fill="#317dfc"/>
<rect x="273.2" y="461.30" width="5.0" height="1.78" fill="#3777fe"/>
<rect x="273.2" y="462.68" width="5.0" height="1.78" fill="#3d71ff"/>
<rect x="273.2" y="464.06" width="5.0" height="1.78" fill="#416bfe"/>
<rect x="273.2" y="465.44" width="5.0" height="1.78" fill="#4465fd"/>
<rect x="273.2" y="466.82" width="5.0" height="1.78" fill="#465ffb"/>
<rect x="273.2" y="468.21" width="5.0" height="1.78" fill="#475af9"/>
<rect x="273.2" y="469.59" width="5.0" height="1.78" fill="#4854f6"/>
<rect x="273.2" y="470.97" width="5.0" height="1.78" fill="#484ff2"/>
<rect x="273.2" y="472.35" width="5.0" height="1.78" fill="#4849ed"/>
<rect x="273.2" y="473.73" width="5.0" height="1.78" fill="#4744e8"/>
<rect x="273.2" y="475.11" width="5.0" height="1.78" fill="#463ee1"/>
<rect x="273.2" y="476.49" width="5.0" height="1.78" fill="#4539d9"/>
<rect x="273.2" y="477.88" width="5.0" height="1.78" fill="#4434cf"/>
<rect x="273.2" y="479.26" width="5.0" height="1.78" fill="#4330c5"/>
<rect x="273.2" y="480.64" width="5.0" height="1.78" fill="#412cba"/>
<rect x="273.2" y="482.02" width="5.0" height="1.78" fill="#3f28ae"/>
<line x1="278.2" y1="395.0" x2="278.2" y2="483.4" stroke="#444" stroke-width="0.6" />
<line x1="277.0" y1="403.8" x2="278.2" y2="403.8" stroke="#333" stroke-width="0.7" />
<line x1="277.0" y1="412.7" x2="278.2" y2="412.7" stroke="#333" stroke-width="0.7" />
<line x1="277.0" y1="421.5" x2="278.2" y2="421.5" stroke="#333" stroke-width="0.7" />
<line x1="277.0" y1="430.4" x2="278.2" y2="430.4" stroke="#333" stroke-width="0.7" />
<line x1="277.0" y1="439.2" x2="278.2" y2="439.2" stroke="#333" stroke-width="0.7" />
<line x1="277.0" y1="448.0" x2="278.2" y2="448.0" stroke="#333" stroke-width="0.7" />
<line x1="277.0" y1="456.9" x2="278.2" y2="456.9" stroke="#333" stroke-width="0.7" />
<line x1="277.0" y1="465.7" x2="278.2" y2="465.7" stroke="#333" stroke-width="0.7" />
<line x1="277.0" y1="474.6" x2="278.2" y2="474.6" stroke="#333" stroke-width="0.7" />
<text x="280.9" y="398.5" font-size="10" fill="#222" text-anchor="start" font-weight="normal" >15</text>
<text x="279.9" y="481.9" font-size="10" fill="#222" text-anchor="start" font-weight="normal" >-35</text>
<text transform="translate(173.4,457.6) rotate(-90)" font-size="10.5" fill="#222" font-style="italic"><tspan textLength="26.4" lengthAdjust="spacingAndGlyphs">ΔF/F</tspan><tspan font-size="7" dy="3.4" dx="0.5">0</tspan></text>
<text x="177.9" y="492.2" font-size="10" fill="#222" text-anchor="middle" font-weight="normal" >-2</text>
<text x="205.3" y="492.2" font-size="10" fill="#222" text-anchor="middle" font-weight="normal" >0</text>
<text x="268.9" y="492.2" font-size="10" fill="#222" text-anchor="middle" font-weight="normal" >5</text>
<text x="234.3" y="506.5" font-size="10" fill="#222" text-anchor="middle" font-weight="normal" >Time (s)</text>
<line x1="464.5" y1="395.2" x2="464.5" y2="485.3" stroke="#fbfbf0" stroke-width="1.2" stroke-dasharray="5,2.5" opacity="0.92"/>
<rect x="536.5" y="395.00" width="5.100000000000023" height="1.81" fill="#f8f818"/>
<rect x="536.5" y="396.41" width="5.100000000000023" height="1.81" fill="#f6f21e"/>
<rect x="536.5" y="397.82" width="5.100000000000023" height="1.81" fill="#f5ec22"/>
<rect x="536.5" y="399.24" width="5.100000000000023" height="1.81" fill="#f5e626"/>
<rect x="536.5" y="400.65" width="5.100000000000023" height="1.81" fill="#f6e028"/>
<rect x="536.5" y="402.06" width="5.100000000000023" height="1.81" fill="#f8da2b"/>
<rect x="536.5" y="403.48" width="5.100000000000023" height="1.81" fill="#fbd32e"/>
<rect x="536.5" y="404.89" width="5.100000000000023" height="1.81" fill="#fdcd31"/>
<rect x="536.5" y="406.30" width="5.100000000000023" height="1.81" fill="#fec735"/>
<rect x="536.5" y="407.71" width="5.100000000000023" height="1.81" fill="#fec13a"/>
<rect x="536.5" y="409.12" width="5.100000000000023" height="1.81" fill="#fcbc3d"/>
<rect x="536.5" y="410.54" width="5.100000000000023" height="1.81" fill="#f5ba3b"/>
<rect x="536.5" y="411.95" width="5.100000000000023" height="1.81" fill="#edba33"/>
<rect x="536.5" y="413.36" width="5.100000000000023" height="1.81" fill="#e3bb2c"/>
<rect x="536.5" y="414.77" width="5.100000000000023" height="1.81" fill="#d9bd28"/>
<rect x="536.5" y="416.19" width="5.100000000000023" height="1.81" fill="#cec028"/>
<rect x="536.5" y="417.60" width="5.100000000000023" height="1.81" fill="#c2c22c"/>
<rect x="536.5" y="419.01" width="5.100000000000023" height="1.81" fill="#b6c533"/>
<rect x="536.5" y="420.43" width="5.100000000000023" height="1.81" fill="#a8c73b"/>
<rect x="536.5" y="421.84" width="5.100000000000023" height="1.81" fill="#9bc945"/>
<rect x="536.5" y="423.25" width="5.100000000000023" height="1.81" fill="#8dcb50"/>
<rect x="536.5" y="424.66" width="5.100000000000023" height="1.81" fill="#7ecc5b"/>
<rect x="536.5" y="426.07" width="5.100000000000023" height="1.81" fill="#70cd65"/>
<rect x="536.5" y="427.49" width="5.100000000000023" height="1.81" fill="#62cd71"/>
<rect x="536.5" y="428.90" width="5.100000000000023" height="1.81" fill="#55cc7b"/>
<rect x="536.5" y="430.31" width="5.100000000000023" height="1.81" fill="#49cb85"/>
<rect x="536.5" y="431.73" width="5.100000000000023" height="1.81" fill="#3eca8f"/>
<rect x="536.5" y="433.14" width="5.100000000000023" height="1.81" fill="#37c898"/>
<rect x="536.5" y="434.55" width="5.100000000000023" height="1.81" fill="#31c6a0"/>
<rect x="536.5" y="435.96" width="5.100000000000023" height="1.81" fill="#2bc3a7"/>
<rect x="536.5" y="437.38" width="5.100000000000023" height="1.81" fill="#24c1af"/>
<rect x="536.5" y="438.79" width="5.100000000000023" height="1.81" fill="#18bfb6"/>
<rect x="536.5" y="440.20" width="5.100000000000023" height="1.81" fill="#0bbdbc"/>
<rect x="536.5" y="441.61" width="5.100000000000023" height="1.81" fill="#02bbc3"/>
<rect x="536.5" y="443.02" width="5.100000000000023" height="1.81" fill="#01b8ca"/>
<rect x="536.5" y="444.44" width="5.100000000000023" height="1.81" fill="#07b5d0"/>
<rect x="536.5" y="445.85" width="5.100000000000023" height="1.81" fill="#11b1d6"/>
<rect x="536.5" y="447.26" width="5.100000000000023" height="1.81" fill="#18aedb"/>
<rect x="536.5" y="448.67" width="5.100000000000023" height="1.81" fill="#1caadf"/>
<rect x="536.5" y="450.09" width="5.100000000000023" height="1.81" fill="#1fa5e2"/>
<rect x="536.5" y="451.50" width="5.100000000000023" height="1.81" fill="#23a1e5"/>
<rect x="536.5" y="452.91" width="5.100000000000023" height="1.81" fill="#259ce7"/>
<rect x="536.5" y="454.32" width="5.100000000000023" height="1.81" fill="#2797ea"/>
<rect x="536.5" y="455.74" width="5.100000000000023" height="1.81" fill="#2a92ee"/>
<rect x="536.5" y="457.15" width="5.100000000000023" height="1.81" fill="#2d8df2"/>
<rect x="536.5" y="458.56" width="5.100000000000023" height="1.81" fill="#2d88f6"/>
<rect x="536.5" y="459.97" width="5.100000000000023" height="1.81" fill="#2e83f9"/>
<rect x="536.5" y="461.39" width="5.100000000000023" height="1.81" fill="#317dfc"/>
<rect x="536.5" y="462.80" width="5.100000000000023" height="1.81" fill="#3777fe"/>
<rect x="536.5" y="464.21" width="5.100000000000023" height="1.81" fill="#3d71ff"/>
<rect x="536.5" y="465.62" width="5.100000000000023" height="1.81" fill="#416bfe"/>
<rect x="536.5" y="467.04" width="5.100000000000023" height="1.81" fill="#4465fd"/>
<rect x="536.5" y="468.45" width="5.100000000000023" height="1.81" fill="#465ffb"/>
<rect x="536.5" y="469.86" width="5.100000000000023" height="1.81" fill="#475af9"/>
<rect x="536.5" y="471.27" width="5.100000000000023" height="1.81" fill="#4854f6"/>
<rect x="536.5" y="472.69" width="5.100000000000023" height="1.81" fill="#484ff2"/>
<rect x="536.5" y="474.10" width="5.100000000000023" height="1.81" fill="#4849ed"/>
<rect x="536.5" y="475.51" width="5.100000000000023" height="1.81" fill="#4744e8"/>
<rect x="536.5" y="476.92" width="5.100000000000023" height="1.81" fill="#463ee1"/>
<rect x="536.5" y="478.34" width="5.100000000000023" height="1.81" fill="#4539d9"/>
<rect x="536.5" y="479.75" width="5.100000000000023" height="1.81" fill="#4434cf"/>
<rect x="536.5" y="481.16" width="5.100000000000023" height="1.81" fill="#4330c5"/>
<rect x="536.5" y="482.57" width="5.100000000000023" height="1.81" fill="#412cba"/>
<rect x="536.5" y="483.99" width="5.100000000000023" height="1.81" fill="#3f28ae"/>
<line x1="541.6" y1="395.0" x2="541.6" y2="485.4" stroke="#444" stroke-width="0.6" />
<line x1="540.4" y1="404.0" x2="541.6" y2="404.0" stroke="#333" stroke-width="0.7" />
<line x1="540.4" y1="413.1" x2="541.6" y2="413.1" stroke="#333" stroke-width="0.7" />
<line x1="540.4" y1="422.1" x2="541.6" y2="422.1" stroke="#333" stroke-width="0.7" />
<line x1="540.4" y1="431.2" x2="541.6" y2="431.2" stroke="#333" stroke-width="0.7" />
<line x1="540.4" y1="440.2" x2="541.6" y2="440.2" stroke="#333" stroke-width="0.7" />
<line x1="540.4" y1="449.2" x2="541.6" y2="449.2" stroke="#333" stroke-width="0.7" />
<line x1="540.4" y1="458.3" x2="541.6" y2="458.3" stroke="#333" stroke-width="0.7" />
<line x1="540.4" y1="467.3" x2="541.6" y2="467.3" stroke="#333" stroke-width="0.7" />
<line x1="540.4" y1="476.4" x2="541.6" y2="476.4" stroke="#333" stroke-width="0.7" />
<text x="542.2" y="398.5" font-size="10" fill="#222" text-anchor="start" font-weight="normal" >15</text>
<text x="541.2" y="483.9" font-size="10" fill="#222" text-anchor="start" font-weight="normal" >-35</text>
<text transform="translate(430.7,457.3) rotate(-90)" font-size="10.5" fill="#222" font-style="italic"><tspan textLength="26.4" lengthAdjust="spacingAndGlyphs">ΔF/F</tspan><tspan font-size="7" dy="3.4" dx="0.5">0</tspan></text>
<text x="434.8" y="493.3" font-size="10" fill="#222" text-anchor="middle" font-weight="normal" >-2</text>
<text x="464.9" y="493.3" font-size="10" fill="#222" text-anchor="middle" font-weight="normal" >0</text>
<text x="531.0" y="493.3" font-size="10" fill="#222" text-anchor="middle" font-weight="normal" >5</text>
<text x="492.4" y="506.2" font-size="10" fill="#222" text-anchor="middle" font-weight="normal" >Time (s)</text>
<polygon points="317.3,161.0 317.7,160.7 318.3,161.2 319.0,158.6 319.8,157.8 320.6,157.1 321.4,158.3 322.1,156.4 322.7,156.2 323.3,155.5 323.9,156.6 324.4,155.9 324.9,156.6 325.4,156.6 325.8,155.5 326.3,155.5 326.8,155.6 327.3,155.6 327.9,156.2 328.4,154.7 328.9,153.9 329.4,153.8 329.9,153.8 330.4,152.9 330.9,152.7 331.4,151.3 331.9,153.2 332.4,154.2 332.9,153.2 333.4,153.6 333.9,153.9 334.4,153.4 335.0,155.1 335.6,155.2 336.3,155.1 337.0,156.0 337.7,155.0 338.4,155.0 339.1,155.6 339.8,154.5 340.4,155.1 341.0,156.3 341.6,156.4 342.1,154.7 342.6,155.8 343.1,153.9 343.5,156.6 344.0,154.0 344.5,153.2 345.0,155.0 345.5,155.9 346.1,156.0 346.6,157.6 347.1,158.5 347.6,160.0 348.1,159.8 348.6,162.6 349.1,162.6 349.6,164.0 350.1,165.2 350.6,166.5 351.1,166.3 351.6,167.6 352.1,169.2 352.7,169.1 353.3,171.0 353.9,169.9 354.6,171.6 355.2,174.0 355.9,173.3 356.7,174.7 357.4,174.6 358.1,175.0 358.9,176.0 359.7,176.5 360.6,174.7 361.5,177.5 362.3,176.7 363.2,178.3 364.1,176.8 365.0,176.7 365.8,177.6 366.7,177.8 367.6,176.8 368.5,177.4 369.4,178.4 370.2,178.2 371.0,177.6 371.8,177.3 372.4,177.7 373.0,178.6 373.5,178.2 374.0,177.2 374.4,177.7 374.9,176.8 375.3,174.3 375.8,175.9 376.4,175.7 376.9,175.9 377.4,176.1 378.0,176.0 378.5,175.9 379.0,175.3 379.5,176.5 379.9,176.8 380.3,176.0 380.7,178.3 381.0,178.7 381.3,179.8 381.6,181.2 381.9,182.7 382.3,182.2 382.6,184.9 383.1,184.3 383.5,183.1 384.0,184.3 384.5,185.0 385.0,184.6 385.6,182.6 386.1,182.7 386.7,183.2 387.3,180.2 388.0,181.8 388.6,179.0 389.3,177.5 390.0,176.4 390.7,174.6 391.4,172.9 392.2,171.7 393.0,172.0 393.8,170.9 394.6,170.4 395.5,169.9 396.4,169.4 397.3,169.6 398.1,169.2 399.0,167.0 399.9,168.9 400.8,167.5 401.7,168.2 402.6,165.9 403.4,167.3 404.3,165.1 405.1,165.8 405.8,166.0 406.4,164.9 407.0,163.6 407.6,165.9 408.1,163.4 408.6,163.9 409.0,162.7 409.5,163.7 409.9,163.5 410.3,163.2 410.7,163.9 411.1,165.3 411.5,165.5 411.8,164.9 412.1,164.8 412.4,164.4 412.6,167.7 412.6,177.2 412.4,176.6 412.1,175.5 411.8,175.7 411.5,175.0 411.1,176.2 410.7,173.8 410.3,173.9 409.9,174.2 409.5,173.7 409.0,173.9 408.6,175.0 408.1,175.2 407.6,175.8 407.0,175.3 406.4,175.0 405.8,176.3 405.1,175.4 404.3,177.3 403.4,178.8 402.6,176.6 401.7,177.6 400.8,178.8 399.9,178.3 399.0,177.8 398.1,179.8 397.3,179.9 396.4,179.9 395.5,182.3 394.6,180.4 393.8,182.5 393.0,182.9 392.2,183.3 391.4,185.1 390.7,186.6 390.0,187.7 389.3,188.9 388.6,189.8 388.0,191.7 387.3,192.1 386.7,192.5 386.1,195.2 385.6,195.0 385.0,195.8 384.5,195.5 384.0,194.0 383.5,195.4 383.1,195.8 382.6,195.1 382.3,193.4 381.9,193.6 381.6,193.6 381.3,189.9 381.0,191.0 380.7,188.8 380.3,187.4 379.9,187.3 379.5,186.2 379.0,186.7 378.5,187.4 378.0,187.9 377.4,186.1 376.9,187.8 376.4,187.3 375.8,187.1 375.3,186.7 374.9,187.9 374.4,187.2 374.0,188.5 373.5,188.5 373.0,188.7 372.4,190.0 371.8,187.9 371.0,187.9 370.2,189.6 369.4,188.8 368.5,186.9 367.6,188.9 366.7,187.6 365.8,189.1 365.0,187.2 364.1,187.1 363.2,187.9 362.3,186.8 361.5,188.2 360.6,187.1 359.7,187.9 358.9,187.4 358.1,185.5 357.4,186.9 356.7,186.1 355.9,183.8 355.2,184.6 354.6,182.6 353.9,182.0 353.3,182.4 352.7,179.0 352.1,180.9 351.6,177.0 351.1,177.0 350.6,177.1 350.1,177.3 349.6,173.6 349.1,174.9 348.6,172.5 348.1,170.1 347.6,170.4 347.1,170.8 346.6,167.7 346.1,166.4 345.5,165.6 345.0,164.5 344.5,163.2 344.0,161.3 343.5,162.6 343.1,161.2 342.6,161.6 342.1,161.2 341.6,162.4 341.0,162.4 340.4,161.0 339.8,161.5 339.1,161.1 338.4,162.2 337.7,160.6 337.0,163.1 336.3,161.7 335.6,162.5 335.0,161.1 334.4,160.7 333.9,161.1 333.4,159.7 332.9,160.0 332.4,159.9 331.9,158.9 331.4,158.3 330.9,159.3 330.4,159.2 329.9,159.5 329.4,160.2 328.9,159.4 328.4,160.2 327.9,162.5 327.3,161.9 326.8,162.5 326.3,161.2 325.8,161.3 325.4,162.6 324.9,163.3 324.4,161.6 323.9,164.0 323.3,162.8 322.7,162.7 322.1,162.3 321.4,165.6 320.6,163.9 319.8,164.9 319.0,165.6 318.3,167.2 317.7,167.5 317.3,167.8" fill="#f4c2e2" stroke="none"/>
<line x1="317.3" y1="159.1" x2="412.6" y2="159.1" stroke="#4a4a4a" stroke-width="1.4" stroke-dasharray="5,2.8"/>
<line x1="344.5" y1="142" x2="344.5" y2="223.3" stroke="#cdc4bc" stroke-width="1.9" stroke-dasharray="5.5,2.5"/>
<polyline points="317.3,164.4 317.7,164.1 318.3,164.2 319.0,162.1 319.8,161.3 320.6,160.5 321.4,162.0 322.1,159.3 322.7,159.4 323.3,159.1 323.9,160.3 324.4,158.7 324.9,160.0 325.4,159.6 325.8,158.4 326.3,158.3 326.8,159.0 327.3,158.8 327.9,159.3 328.4,157.5 328.9,156.6 329.4,157.0 329.9,156.7 330.4,156.0 330.9,156.0 331.4,154.8 331.9,156.0 332.4,157.0 332.9,156.6 333.4,156.7 333.9,157.5 334.4,157.1 335.0,158.1 335.6,158.9 336.3,158.4 337.0,159.5 337.7,157.8 338.4,158.6 339.1,158.3 339.8,158.0 340.4,158.0 341.0,159.4 341.6,159.4 342.1,158.0 342.6,158.7 343.1,157.6 343.5,159.6 344.0,157.6 344.5,158.2 345.0,159.7 345.5,160.8 346.1,161.2 346.6,162.6 347.1,164.6 347.6,165.2 348.1,164.9 348.6,167.6 349.1,168.8 349.6,168.8 350.1,171.3 350.6,171.8 351.1,171.7 351.6,172.3 352.1,175.0 352.7,174.1 353.3,176.7 353.9,175.9 354.6,177.1 355.2,179.3 355.9,178.5 356.7,180.4 357.4,180.7 358.1,180.2 358.9,181.7 359.7,182.2 360.6,180.9 361.5,182.8 362.3,181.8 363.2,183.1 364.1,181.9 365.0,182.0 365.8,183.4 366.7,182.7 367.6,182.9 368.5,182.2 369.4,183.6 370.2,183.9 371.0,182.7 371.8,182.6 372.4,183.9 373.0,183.6 373.5,183.4 374.0,182.8 374.4,182.4 374.9,182.3 375.3,180.5 375.8,181.5 376.4,181.5 376.9,181.9 377.4,181.1 378.0,181.9 378.5,181.6 379.0,181.0 379.5,181.3 379.9,182.1 380.3,181.7 380.7,183.5 381.0,184.9 381.3,184.9 381.6,187.4 381.9,188.1 382.3,187.8 382.6,190.0 383.1,190.1 383.5,189.3 384.0,189.2 384.5,190.2 385.0,190.2 385.6,188.8 386.1,189.0 386.7,187.9 387.3,186.2 388.0,186.7 388.6,184.4 389.3,183.2 390.0,182.1 390.7,180.6 391.4,179.0 392.2,177.5 393.0,177.5 393.8,176.7 394.6,175.4 395.5,176.1 396.4,174.7 397.3,174.8 398.1,174.5 399.0,172.4 399.9,173.6 400.8,173.2 401.7,172.9 402.6,171.2 403.4,173.1 404.3,171.2 405.1,170.6 405.8,171.2 406.4,170.0 407.0,169.5 407.6,170.9 408.1,169.3 408.6,169.5 409.0,168.3 409.5,168.7 409.9,168.8 410.3,168.6 410.7,168.9 411.1,170.7 411.5,170.3 411.8,170.3 412.1,170.2 412.4,170.5 412.6,172.5" fill="none" stroke="#b04c80" stroke-width="0.9"/>
<line x1="317.3" y1="142.5" x2="317.3" y2="223.3" stroke="#6e6e6e" stroke-width="1.3" />
<line x1="316.7" y1="223.3" x2="412.6" y2="223.3" stroke="#6e6e6e" stroke-width="1.3" />
<line x1="315.3" y1="143.0" x2="317.3" y2="143.0" stroke="#6e6e6e" stroke-width="0.9" />
<text x="313.8" y="146.6" font-size="10" fill="#222" text-anchor="end" font-weight="normal" >5</text>
<line x1="315.3" y1="159.1" x2="317.3" y2="159.1" stroke="#6e6e6e" stroke-width="0.9" />
<text x="313.8" y="162.7" font-size="10" fill="#222" text-anchor="end" font-weight="normal" >0</text>
<line x1="315.3" y1="175.1" x2="317.3" y2="175.1" stroke="#6e6e6e" stroke-width="0.9" />
<text x="313.8" y="178.7" font-size="10" fill="#222" text-anchor="end" font-weight="normal" >-5</text>
<line x1="315.3" y1="191.2" x2="317.3" y2="191.2" stroke="#6e6e6e" stroke-width="0.9" />
<text x="313.8" y="194.8" font-size="10" fill="#222" text-anchor="end" font-weight="normal" >-10</text>
<line x1="315.3" y1="207.2" x2="317.3" y2="207.2" stroke="#6e6e6e" stroke-width="0.9" />
<text x="313.8" y="210.8" font-size="10" fill="#222" text-anchor="end" font-weight="normal" >-15</text>
<line x1="315.3" y1="223.3" x2="317.3" y2="223.3" stroke="#6e6e6e" stroke-width="0.9" />
<text x="313.8" y="226.9" font-size="10" fill="#222" text-anchor="end" font-weight="normal" >-20</text>
<line x1="317.3" y1="223.3" x2="317.3" y2="225.3" stroke="#6e6e6e" stroke-width="0.9" />
<text x="315.8" y="234.9" font-size="10" fill="#222" text-anchor="middle" font-weight="normal" >-2</text>
<line x1="330.9" y1="223.3" x2="330.9" y2="225.3" stroke="#6e6e6e" stroke-width="0.9" />
<text x="329.4" y="234.9" font-size="10" fill="#222" text-anchor="middle" font-weight="normal" >-1</text>
<line x1="344.5" y1="223.3" x2="344.5" y2="225.3" stroke="#6e6e6e" stroke-width="0.9" />
<text x="344.5" y="234.9" font-size="10" fill="#222" text-anchor="middle" font-weight="normal" >0</text>
<line x1="358.1" y1="223.3" x2="358.1" y2="225.3" stroke="#6e6e6e" stroke-width="0.9" />
<text x="358.1" y="234.9" font-size="10" fill="#222" text-anchor="middle" font-weight="normal" >1</text>
<line x1="371.8" y1="223.3" x2="371.8" y2="225.3" stroke="#6e6e6e" stroke-width="0.9" />
<text x="371.8" y="234.9" font-size="10" fill="#222" text-anchor="middle" font-weight="normal" >2</text>
<line x1="385.4" y1="223.3" x2="385.4" y2="225.3" stroke="#6e6e6e" stroke-width="0.9" />
<text x="385.4" y="234.9" font-size="10" fill="#222" text-anchor="middle" font-weight="normal" >3</text>
<line x1="399.0" y1="223.3" x2="399.0" y2="225.3" stroke="#6e6e6e" stroke-width="0.9" />
<text x="399.0" y="234.9" font-size="10" fill="#222" text-anchor="middle" font-weight="normal" >4</text>
<line x1="412.6" y1="223.3" x2="412.6" y2="225.3" stroke="#6e6e6e" stroke-width="0.9" />
<text x="412.6" y="234.9" font-size="10" fill="#222" text-anchor="middle" font-weight="normal" >5</text>
<text x="370.4" y="244.9" font-size="10" fill="#222" text-anchor="middle" font-weight="normal" >Time (s)</text>
<text x="366.3" y="133.8" font-size="10.2" fill="#c46a9e" text-anchor="middle" font-weight="normal" >PV-Cre</text>
<text transform="translate(298.4,194.2) rotate(-90)" font-size="10.5" fill="#222" font-style="italic"><tspan textLength="26.4" lengthAdjust="spacingAndGlyphs">ΔF/F</tspan><tspan font-size="7" dy="3.4" dx="0.5">0</tspan></text>
<polygon points="580.2,158.8 580.7,159.0 581.4,159.5 582.3,159.0 583.2,159.0 584.2,159.4 585.2,159.4 586.1,158.8 587.0,158.6 587.9,159.2 588.8,159.0 589.6,158.6 590.5,157.7 591.4,157.7 592.2,158.3 593.1,157.2 593.9,157.4 594.6,157.8 595.4,157.5 596.1,156.5 596.8,156.3 597.4,157.2 598.1,156.6 598.7,156.0 599.3,156.6 599.9,156.2 600.4,155.9 601.0,156.0 601.5,155.4 601.9,155.1 602.4,154.7 602.9,154.7 603.4,154.2 603.9,154.9 604.4,154.9 605.0,155.8 605.5,155.8 606.0,155.4 606.5,156.5 607.0,157.6 607.5,156.7 608.0,157.1 608.5,158.1 609.0,157.8 609.5,158.0 610.0,158.2 610.5,159.0 611.0,159.5 611.6,160.2 612.2,160.4 612.9,160.7 613.6,161.3 614.3,161.5 615.1,161.4 615.8,162.5 616.4,162.8 617.1,162.5 617.6,163.0 618.1,163.1 618.6,164.1 619.0,164.4 619.5,164.3 620.0,163.8 620.5,163.7 621.2,164.1 621.9,164.3 622.8,164.9 623.7,164.8 624.6,163.5 625.5,164.5 626.4,164.0 627.3,164.7 628.0,164.2 628.6,163.4 629.2,163.4 629.7,163.1 630.1,163.1 630.6,162.8 631.0,163.2 631.5,163.1 632.1,162.6 632.7,161.8 633.2,162.1 633.8,162.8 634.4,163.2 635.1,163.7 635.8,163.4 636.6,164.0 637.6,163.9 638.7,164.4 640.0,164.2 641.4,164.3 642.9,163.8 644.4,164.7 645.9,163.5 647.3,164.6 648.5,164.1 649.5,164.6 650.5,163.2 651.3,163.4 652.2,164.7 652.9,163.3 653.7,163.4 654.5,163.6 655.3,163.2 656.2,163.1 657.0,163.6 657.9,163.1 658.7,164.5 659.6,162.9 660.4,164.4 661.3,163.1 662.1,164.0 663.0,163.7 663.9,164.1 664.7,163.6 665.6,163.3 666.4,162.5 667.3,163.0 668.1,163.2 669.0,163.2 669.9,162.8 670.8,162.2 671.8,163.2 672.8,162.3 673.7,162.8 674.6,162.1 675.3,162.8 675.8,164.0 675.8,168.3 675.3,168.4 674.6,167.3 673.7,168.3 672.8,167.7 671.8,167.7 670.8,167.8 669.9,167.0 669.0,167.7 668.1,167.9 667.3,167.2 666.4,167.4 665.6,168.0 664.7,168.4 663.9,168.5 663.0,168.3 662.1,168.8 661.3,168.7 660.4,168.8 659.6,168.5 658.7,169.2 657.9,168.2 657.0,168.1 656.2,168.0 655.3,168.3 654.5,168.6 653.7,168.0 652.9,168.7 652.2,169.1 651.3,169.0 650.5,168.8 649.5,169.0 648.5,169.6 647.3,169.5 645.9,168.5 644.4,169.5 642.9,168.1 641.4,168.8 640.0,169.7 638.7,168.9 637.6,168.9 636.6,168.3 635.8,168.2 635.1,169.0 634.4,167.5 633.8,168.3 633.2,167.3 632.7,167.4 632.1,168.2 631.5,167.3 631.0,168.2 630.6,167.0 630.1,168.1 629.7,168.1 629.2,167.9 628.6,168.4 628.0,168.5 627.3,169.7 626.4,168.4 625.5,170.0 624.6,169.1 623.7,169.2 622.8,169.2 621.9,169.0 621.2,168.7 620.5,169.1 620.0,168.6 619.5,168.7 619.0,168.9 618.6,168.4 618.1,167.4 617.6,167.7 617.1,167.2 616.4,167.6 615.8,167.1 615.1,166.8 614.3,165.8 613.6,165.8 612.9,165.5 612.2,165.2 611.6,164.6 611.0,164.2 610.5,163.4 610.0,162.8 609.5,162.7 609.0,163.3 608.5,162.5 608.0,162.6 607.5,162.3 607.0,160.8 606.5,159.7 606.0,159.1 605.5,159.1 605.0,159.2 604.4,158.2 603.9,158.0 603.4,157.8 602.9,158.1 602.4,158.2 601.9,158.1 601.5,158.9 601.0,158.8 600.4,159.3 599.9,159.7 599.3,160.0 598.7,159.2 598.1,159.6 597.4,160.1 596.8,159.4 596.1,159.8 595.4,160.5 594.6,160.7 593.9,161.0 593.1,160.7 592.2,161.6 591.4,161.3 590.5,161.2 589.6,161.6 588.8,162.4 587.9,162.5 587.0,162.1 586.1,162.6 585.2,162.7 584.2,162.9 583.2,162.7 582.3,162.6 581.4,162.8 580.7,162.3 580.2,162.1" fill="#bcc2f0" stroke="none"/>
<line x1="580.2" y1="158.9" x2="675.8" y2="158.9" stroke="#4a4a4a" stroke-width="1.4" stroke-dasharray="5,2.8"/>
<line x1="607.5" y1="141.6" x2="607.5" y2="224.3" stroke="#cdc4bc" stroke-width="1.9" stroke-dasharray="5.5,2.5"/>
<polyline points="580.2,160.5 580.7,160.7 581.4,161.1 582.3,160.8 583.2,160.8 584.2,161.2 585.2,161.1 586.1,160.7 587.0,160.3 587.9,160.8 588.8,160.7 589.6,160.1 590.5,159.4 591.4,159.5 592.2,160.0 593.1,158.9 593.9,159.2 594.6,159.2 595.4,159.0 596.1,158.2 596.8,157.9 597.4,158.6 598.1,158.1 598.7,157.6 599.3,158.3 599.9,158.0 600.4,157.6 601.0,157.4 601.5,157.2 601.9,156.6 602.4,156.4 602.9,156.4 603.4,156.0 603.9,156.4 604.4,156.5 605.0,157.5 605.5,157.5 606.0,157.3 606.5,158.1 607.0,159.2 607.5,159.5 608.0,159.8 608.5,160.3 609.0,160.6 609.5,160.3 610.0,160.5 610.5,161.2 611.0,161.9 611.6,162.4 612.2,162.8 612.9,163.1 613.6,163.6 614.3,163.7 615.1,164.1 615.8,164.8 616.4,165.2 617.1,164.8 617.6,165.4 618.1,165.3 618.6,166.2 619.0,166.6 619.5,166.5 620.0,166.2 620.5,166.4 621.2,166.4 621.9,166.6 622.8,167.0 623.7,167.0 624.6,166.3 625.5,167.2 626.4,166.2 627.3,167.2 628.0,166.3 628.6,165.9 629.2,165.6 629.7,165.6 630.1,165.6 630.6,164.9 631.0,165.7 631.5,165.2 632.1,165.4 632.7,164.6 633.2,164.7 633.8,165.6 634.4,165.4 635.1,166.4 635.8,165.8 636.6,166.1 637.6,166.4 638.7,166.7 640.0,167.0 641.4,166.5 642.9,166.0 644.4,167.1 645.9,166.0 647.3,167.1 648.5,166.8 649.5,166.8 650.5,166.0 651.3,166.2 652.2,166.9 652.9,166.0 653.7,165.7 654.5,166.1 655.3,165.8 656.2,165.6 657.0,165.9 657.9,165.6 658.7,166.8 659.6,165.7 660.4,166.6 661.3,165.9 662.1,166.4 663.0,166.0 663.9,166.3 664.7,166.0 665.6,165.6 666.4,165.0 667.3,165.1 668.1,165.5 669.0,165.4 669.9,164.9 670.8,165.0 671.8,165.5 672.8,165.0 673.7,165.6 674.6,164.7 675.3,165.6 675.8,166.1" fill="none" stroke="#5262bc" stroke-width="0.9"/>
<line x1="580.2" y1="142.1" x2="580.2" y2="224.3" stroke="#6e6e6e" stroke-width="1.3" />
<line x1="579.6" y1="224.3" x2="675.8" y2="224.3" stroke="#6e6e6e" stroke-width="1.3" />
<line x1="578.2" y1="142.6" x2="580.2" y2="142.6" stroke="#6e6e6e" stroke-width="0.9" />
<text x="576.7" y="146.2" font-size="10" fill="#222" text-anchor="end" font-weight="normal" >5</text>
<line x1="578.2" y1="158.9" x2="580.2" y2="158.9" stroke="#6e6e6e" stroke-width="0.9" />
<text x="576.7" y="162.5" font-size="10" fill="#222" text-anchor="end" font-weight="normal" >0</text>
<line x1="578.2" y1="175.3" x2="580.2" y2="175.3" stroke="#6e6e6e" stroke-width="0.9" />
<text x="576.7" y="178.9" font-size="10" fill="#222" text-anchor="end" font-weight="normal" >-5</text>
<line x1="578.2" y1="191.6" x2="580.2" y2="191.6" stroke="#6e6e6e" stroke-width="0.9" />
<text x="576.7" y="195.2" font-size="10" fill="#222" text-anchor="end" font-weight="normal" >-10</text>
<line x1="578.2" y1="208.0" x2="580.2" y2="208.0" stroke="#6e6e6e" stroke-width="0.9" />
<text x="576.7" y="211.6" font-size="10" fill="#222" text-anchor="end" font-weight="normal" >-15</text>
<line x1="578.2" y1="224.3" x2="580.2" y2="224.3" stroke="#6e6e6e" stroke-width="0.9" />
<text x="576.7" y="227.9" font-size="10" fill="#222" text-anchor="end" font-weight="normal" >-20</text>
<line x1="580.2" y1="224.3" x2="580.2" y2="226.3" stroke="#6e6e6e" stroke-width="0.9" />
<text x="578.7" y="235.9" font-size="10" fill="#222" text-anchor="middle" font-weight="normal" >-2</text>
<line x1="593.9" y1="224.3" x2="593.9" y2="226.3" stroke="#6e6e6e" stroke-width="0.9" />
<text x="592.4" y="235.9" font-size="10" fill="#222" text-anchor="middle" font-weight="normal" >-1</text>
<line x1="607.5" y1="224.3" x2="607.5" y2="226.3" stroke="#6e6e6e" stroke-width="0.9" />
<text x="607.5" y="235.9" font-size="10" fill="#222" text-anchor="middle" font-weight="normal" >0</text>
<line x1="621.2" y1="224.3" x2="621.2" y2="226.3" stroke="#6e6e6e" stroke-width="0.9" />
<text x="621.2" y="235.9" font-size="10" fill="#222" text-anchor="middle" font-weight="normal" >1</text>
<line x1="634.8" y1="224.3" x2="634.8" y2="226.3" stroke="#6e6e6e" stroke-width="0.9" />
<text x="634.8" y="235.9" font-size="10" fill="#222" text-anchor="middle" font-weight="normal" >2</text>
<line x1="648.5" y1="224.3" x2="648.5" y2="226.3" stroke="#6e6e6e" stroke-width="0.9" />
<text x="648.5" y="235.9" font-size="10" fill="#222" text-anchor="middle" font-weight="normal" >3</text>
<line x1="662.1" y1="224.3" x2="662.1" y2="226.3" stroke="#6e6e6e" stroke-width="0.9" />
<text x="662.1" y="235.9" font-size="10" fill="#222" text-anchor="middle" font-weight="normal" >4</text>
<line x1="675.8" y1="224.3" x2="675.8" y2="226.3" stroke="#6e6e6e" stroke-width="0.9" />
<text x="675.8" y="235.9" font-size="10" fill="#222" text-anchor="middle" font-weight="normal" >5</text>
<text x="637.0" y="245.9" font-size="10" fill="#222" text-anchor="middle" font-weight="normal" >Time (s)</text>
<text x="629.3" y="133.8" font-size="10.2" fill="#6d7cc4" text-anchor="middle" font-weight="normal" >SST-Cre</text>
<text transform="translate(562,194.2) rotate(-90)" font-size="10.5" fill="#222" font-style="italic"><tspan textLength="26.4" lengthAdjust="spacingAndGlyphs">ΔF/F</tspan><tspan font-size="7" dy="3.4" dx="0.5">0</tspan></text>
<polygon points="316.6,283.2 316.8,283.4 317.1,283.1 317.4,284.8 317.7,283.0 318.1,284.4 318.5,282.0 318.9,283.8 319.3,282.7 319.8,282.6 320.3,281.3 320.8,280.2 321.3,280.3 321.8,280.5 322.4,279.5 322.9,278.6 323.4,280.0 324.0,279.6 324.5,279.2 325.0,278.7 325.6,281.2 326.1,281.6 326.6,281.8 327.1,283.6 327.5,283.6 327.9,283.9 328.3,285.5 328.6,286.8 328.9,286.3 329.2,285.6 329.5,287.0 329.9,286.5 330.3,287.0 330.7,286.7 331.2,285.7 331.6,285.9 332.1,288.5 332.7,286.9 333.2,288.1 333.8,285.4 334.4,286.8 335.0,285.6 335.7,286.1 336.4,287.1 337.1,285.5 337.8,286.8 338.5,287.7 339.2,286.5 339.8,286.7 340.4,286.2 341.0,287.5 341.5,287.1 342.1,287.6 342.6,286.7 343.1,286.5 343.5,288.0 343.9,287.7 344.3,288.7 344.6,289.7 344.8,291.0 345.1,291.0 345.3,294.0 345.5,294.3 345.7,296.6 346.0,298.8 346.2,300.9 346.5,303.2 346.7,301.9 346.9,307.2 347.2,308.2 347.5,310.6 347.7,315.5 348.0,313.9 348.3,315.8 348.6,318.4 349.0,322.3 349.3,321.6 349.7,322.5 350.0,319.9 350.4,322.7 350.7,322.1 351.1,323.6 351.4,325.7 351.8,325.9 352.2,326.3 352.5,323.4 352.8,323.4 353.2,324.3 353.5,323.7 353.8,323.3 354.0,323.7 354.3,321.8 354.5,324.9 354.7,325.3 355.0,324.2 355.2,324.9 355.5,323.0 355.8,321.0 356.1,321.9 356.5,319.8 356.8,318.5 357.1,319.1 357.5,318.2 357.9,317.5 358.3,318.2 358.7,314.4 359.1,316.0 359.5,315.6 360.0,315.7 360.4,317.8 360.8,319.2 361.3,321.2 361.7,321.1 362.0,320.0 362.4,318.5 362.7,322.3 363.0,323.1 363.3,323.3 363.6,323.5 364.0,322.7 364.4,322.3 364.9,322.5 365.4,322.6 365.9,325.2 366.4,323.1 367.0,323.9 367.5,322.5 368.0,324.4 368.5,323.4 368.9,324.2 369.3,322.5 369.6,322.9 369.9,323.2 370.2,320.3 370.5,320.3 370.9,319.2 371.2,314.1 371.6,316.2 372.0,314.9 372.5,313.5 372.9,313.4 373.3,310.3 373.8,312.4 374.2,309.9 374.6,310.9 375.1,312.8 375.5,310.0 376.0,312.4 376.4,309.0 376.8,314.9 377.3,310.2 377.7,312.5 378.1,313.2 378.4,312.8 378.8,312.6 379.1,312.7 379.5,311.2 379.8,310.1 380.1,310.0 380.5,311.3 380.8,310.8 381.1,312.7 381.5,311.5 381.8,314.2 382.2,312.5 382.5,314.8 382.8,313.2 383.2,317.4 383.5,316.9 383.9,316.3 384.2,318.2 384.5,320.0 384.8,319.0 385.2,320.0 385.5,320.9 385.9,323.6 386.3,322.2 386.6,323.0 387.1,320.1 387.5,320.5 387.9,319.1 388.4,316.9 388.8,311.9 389.2,311.5 389.7,310.3 390.1,311.3 390.5,306.4 390.9,305.4 391.3,305.4 391.7,304.5 392.2,302.5 392.6,300.6 393.1,301.3 393.6,303.5 394.1,302.6 394.6,303.7 395.1,307.0 395.6,304.8 396.1,308.4 396.7,309.8 397.2,312.2 397.7,308.6 398.2,310.6 398.7,310.7 399.3,315.8 399.8,317.6 400.3,318.0 400.8,315.7 401.3,320.6 401.7,318.8 402.2,318.0 402.6,320.0 403.1,321.5 403.5,321.8 403.9,319.6 404.3,320.1 404.7,320.6 405.1,321.1 405.4,321.1 405.8,320.0 406.1,322.5 406.4,325.0 406.8,322.4 407.1,324.2 407.4,323.9 407.8,323.5 408.1,322.1 408.5,322.0 408.8,324.0 409.2,320.4 409.5,319.5 409.8,323.1 410.2,320.9 410.5,321.5 410.8,317.6 411.1,319.2 411.3,318.2 411.6,317.2 411.8,316.7 412.0,312.0 412.2,315.4 412.2,343.6 412.0,346.3 411.8,345.5 411.6,348.0 411.3,348.8 411.1,346.1 410.8,350.6 410.5,350.4 410.2,352.7 409.8,351.0 409.5,354.1 409.2,354.1 408.8,350.4 408.5,355.3 408.1,355.8 407.8,351.9 407.4,355.7 407.1,352.7 406.8,354.0 406.4,353.5 406.1,353.7 405.8,352.8 405.4,355.1 405.1,350.6 404.7,350.3 404.3,350.9 403.9,352.5 403.5,347.8 403.1,350.9 402.6,347.2 402.2,348.8 401.7,347.1 401.3,346.3 400.8,350.1 400.3,346.7 399.8,343.5 399.3,342.9 398.7,343.5 398.2,343.1 397.7,342.0 397.2,338.9 396.7,338.6 396.1,337.1 395.6,338.3 395.1,335.5 394.6,337.0 394.1,336.7 393.6,333.8 393.1,333.6 392.6,334.4 392.2,334.8 391.7,335.3 391.3,336.9 390.9,337.6 390.5,340.7 390.1,338.8 389.7,343.7 389.2,345.5 388.8,344.8 388.4,344.2 387.9,345.8 387.5,346.8 387.1,346.8 386.6,350.0 386.3,349.6 385.9,349.3 385.5,350.7 385.2,352.3 384.8,351.2 384.5,346.1 384.2,346.3 383.9,348.4 383.5,348.5 383.2,343.8 382.8,346.0 382.5,345.5 382.2,345.7 381.8,343.4 381.5,346.0 381.1,340.1 380.8,343.3 380.5,343.8 380.1,344.6 379.8,341.8 379.5,341.4 379.1,343.8 378.8,341.0 378.4,342.0 378.1,344.5 377.7,345.7 377.3,344.3 376.8,341.5 376.4,343.2 376.0,340.1 375.5,342.1 375.1,339.8 374.6,343.6 374.2,342.4 373.8,339.9 373.3,344.2 372.9,343.4 372.5,344.6 372.0,343.2 371.6,344.5 371.2,346.0 370.9,341.3 370.5,342.9 370.2,343.5 369.9,341.4 369.6,343.1 369.3,344.5 368.9,343.5 368.5,346.3 368.0,344.2 367.5,346.6 367.0,346.0 366.4,344.7 365.9,344.5 365.4,345.5 364.9,345.8 364.4,345.1 364.0,344.6 363.6,343.4 363.3,342.6 363.0,343.7 362.7,341.4 362.4,342.2 362.0,343.6 361.7,339.2 361.3,339.1 360.8,338.9 360.4,339.7 360.0,339.0 359.5,337.4 359.1,338.6 358.7,337.9 358.3,336.3 357.9,338.2 357.5,337.4 357.1,338.4 356.8,342.0 356.5,339.8 356.1,341.6 355.8,342.2 355.5,344.1 355.2,342.8 355.0,343.7 354.7,344.2 354.5,345.4 354.3,345.5 354.0,344.4 353.8,345.5 353.5,344.6 353.2,347.9 352.8,345.8 352.5,346.3 352.2,345.2 351.8,343.8 351.4,344.4 351.1,345.9 350.7,345.1 350.4,344.5 350.0,343.5 349.7,341.6 349.3,341.9 349.0,341.1 348.6,342.2 348.3,338.5 348.0,337.6 347.7,334.6 347.5,331.2 347.2,330.5 346.9,325.2 346.7,319.8 346.5,312.0 346.2,310.4 346.0,308.4 345.7,307.3 345.5,303.5 345.3,302.3 345.1,301.3 344.8,301.8 344.6,299.7 344.3,298.0 343.9,297.4 343.5,298.0 343.1,296.2 342.6,296.7 342.1,296.9 341.5,297.6 341.0,295.9 340.4,295.2 339.8,297.9 339.2,297.0 338.5,296.7 337.8,297.4 337.1,294.7 336.4,297.2 335.7,296.2 335.0,295.5 334.4,295.3 333.8,296.0 333.2,296.6 332.7,296.4 332.1,297.2 331.6,296.5 331.2,296.5 330.7,296.3 330.3,298.1 329.9,297.6 329.5,295.7 329.2,294.6 328.9,294.9 328.6,296.0 328.3,295.3 327.9,294.3 327.5,293.4 327.1,292.3 326.6,291.9 326.1,292.8 325.6,290.9 325.0,289.9 324.5,289.3 324.0,289.2 323.4,289.8 322.9,288.4 322.4,289.4 321.8,289.4 321.3,291.0 320.8,290.6 320.3,292.6 319.8,292.9 319.3,292.5 318.9,293.3 318.5,292.1 318.1,293.9 317.7,293.9 317.4,294.8 317.1,293.6 316.8,293.7 316.6,293.8" fill="#f4c2e2" stroke="none"/>
<line x1="316.6" y1="290.4" x2="412.2" y2="290.4" stroke="#7a7a7a" stroke-width="1.4" stroke-dasharray="5,2.8"/>
<line x1="343.5" y1="273" x2="343.5" y2="356" stroke="#7a665c" stroke-width="1" stroke-dasharray="6,2.5"/>
<polyline points="316.6,288.5 316.8,288.6 317.1,288.4 317.4,289.8 317.7,288.4 318.1,289.1 318.5,287.0 318.9,288.5 319.3,287.6 319.8,287.8 320.3,287.0 320.8,285.4 321.3,285.7 321.8,285.0 322.4,284.5 322.9,283.5 323.4,284.9 324.0,284.4 324.5,284.2 325.0,284.3 325.6,286.0 326.1,287.2 326.6,286.8 327.1,287.9 327.5,288.5 327.9,289.1 328.3,290.4 328.6,291.4 328.9,290.6 329.2,290.1 329.5,291.4 329.9,292.1 330.3,292.6 330.7,291.5 331.2,291.1 331.6,291.2 332.1,292.9 332.7,291.6 333.2,292.3 333.8,290.7 334.4,291.0 335.0,290.6 335.7,291.2 336.4,292.2 337.1,290.1 337.8,292.1 338.5,292.2 339.2,291.7 339.8,292.3 340.4,290.7 341.0,291.7 341.5,292.3 342.1,292.3 342.6,291.7 343.1,291.3 343.5,293.0 343.9,292.5 344.3,293.3 344.6,294.7 344.8,296.4 345.1,296.1 345.3,298.2 345.5,298.9 345.7,301.9 346.0,303.6 346.2,305.7 346.5,307.6 346.7,310.8 346.9,316.2 347.2,319.3 347.5,320.9 347.7,325.1 348.0,325.8 348.3,327.2 348.6,330.3 349.0,331.7 349.3,331.7 349.7,332.0 350.0,331.7 350.4,333.6 350.7,333.6 351.1,334.7 351.4,335.1 351.8,334.9 352.2,335.8 352.5,334.8 352.8,334.6 353.2,336.1 353.5,334.2 353.8,334.4 354.0,334.0 354.3,333.6 354.5,335.2 354.7,334.7 355.0,333.9 355.2,333.8 355.5,333.5 355.8,331.6 356.1,331.8 356.5,329.8 356.8,330.3 357.1,328.8 357.5,327.8 357.9,327.9 358.3,327.3 358.7,326.1 359.1,327.3 359.5,326.5 360.0,327.3 360.4,328.7 360.8,329.0 361.3,330.1 361.7,330.1 362.0,331.8 362.4,330.4 362.7,331.9 363.0,333.4 363.3,333.0 363.6,333.4 364.0,333.7 364.4,333.7 364.9,334.1 365.4,334.1 365.9,334.8 366.4,333.9 367.0,335.0 367.5,334.6 368.0,334.3 368.5,334.9 368.9,333.8 369.3,333.5 369.6,333.0 369.9,332.3 370.2,331.9 370.5,331.6 370.9,330.3 371.2,330.1 371.6,330.3 372.0,329.0 372.5,329.1 372.9,328.4 373.3,327.2 373.8,326.1 374.2,326.2 374.6,327.3 375.1,326.3 375.5,326.0 376.0,326.2 376.4,326.1 376.8,328.2 377.3,327.2 377.7,329.1 378.1,328.9 378.4,327.4 378.8,326.8 379.1,328.2 379.5,326.3 379.8,325.9 380.1,327.3 380.5,327.5 380.8,327.0 381.1,326.4 381.5,328.8 381.8,328.8 382.2,329.1 382.5,330.1 382.8,329.6 383.2,330.6 383.5,332.7 383.9,332.3 384.2,332.2 384.5,333.0 384.8,335.1 385.2,336.2 385.5,335.8 385.9,336.5 386.3,335.9 386.6,336.5 387.1,333.4 387.5,333.6 387.9,332.4 388.4,330.5 388.8,328.3 389.2,328.5 389.7,327.0 390.1,325.0 390.5,323.5 390.9,321.5 391.3,321.2 391.7,319.9 392.2,318.6 392.6,317.5 393.1,317.5 393.6,318.7 394.1,319.7 394.6,320.3 395.1,321.3 395.6,321.5 396.1,322.7 396.7,324.2 397.2,325.5 397.7,325.3 398.2,326.9 398.7,327.1 399.3,329.3 399.8,330.6 400.3,332.4 400.8,332.9 401.3,333.4 401.7,332.9 402.2,333.4 402.6,333.6 403.1,336.2 403.5,334.8 403.9,336.1 404.3,335.5 404.7,335.4 405.1,335.9 405.4,338.1 405.8,336.4 406.1,338.1 406.4,339.3 406.8,338.2 407.1,338.4 407.4,339.8 407.8,337.7 408.1,339.0 408.5,338.7 408.8,337.2 409.2,337.3 409.5,336.8 409.8,337.1 410.2,336.8 410.5,335.9 410.8,334.1 411.1,332.7 411.3,333.5 411.6,332.6 411.8,331.1 412.0,329.1 412.2,329.5" fill="none" stroke="#b04c80" stroke-width="0.9"/>
<line x1="316.6" y1="273.5" x2="316.6" y2="356.0" stroke="#555" stroke-width="1.3" />
<line x1="316.0" y1="356.0" x2="412.2" y2="356.0" stroke="#555" stroke-width="1.3" />
<line x1="314.6" y1="274.0" x2="316.6" y2="274.0" stroke="#555" stroke-width="0.9" />
<text x="313.1" y="277.6" font-size="10" fill="#222" text-anchor="end" font-weight="normal" >5</text>
<line x1="314.6" y1="290.4" x2="316.6" y2="290.4" stroke="#555" stroke-width="0.9" />
<text x="313.1" y="294.0" font-size="10" fill="#222" text-anchor="end" font-weight="normal" >0</text>
<line x1="314.6" y1="306.8" x2="316.6" y2="306.8" stroke="#555" stroke-width="0.9" />
<text x="313.1" y="310.4" font-size="10" fill="#222" text-anchor="end" font-weight="normal" >-5</text>
<line x1="314.6" y1="323.2" x2="316.6" y2="323.2" stroke="#555" stroke-width="0.9" />
<text x="313.1" y="326.8" font-size="10" fill="#222" text-anchor="end" font-weight="normal" >-10</text>
<line x1="314.6" y1="339.6" x2="316.6" y2="339.6" stroke="#555" stroke-width="0.9" />
<text x="313.1" y="343.2" font-size="10" fill="#222" text-anchor="end" font-weight="normal" >-15</text>
<line x1="314.6" y1="356.0" x2="316.6" y2="356.0" stroke="#555" stroke-width="0.9" />
<text x="313.1" y="359.6" font-size="10" fill="#222" text-anchor="end" font-weight="normal" >-20</text>
<line x1="316.6" y1="356.0" x2="316.6" y2="358.0" stroke="#555" stroke-width="0.9" />
<text x="315.1" y="367.6" font-size="10" fill="#222" text-anchor="middle" font-weight="normal" >-2</text>
<line x1="330.3" y1="356.0" x2="330.3" y2="358.0" stroke="#555" stroke-width="0.9" />
<text x="328.8" y="367.6" font-size="10" fill="#222" text-anchor="middle" font-weight="normal" >-1</text>
<line x1="343.9" y1="356.0" x2="343.9" y2="358.0" stroke="#555" stroke-width="0.9" />
<text x="343.9" y="367.6" font-size="10" fill="#222" text-anchor="middle" font-weight="normal" >0</text>
<line x1="357.6" y1="356.0" x2="357.6" y2="358.0" stroke="#555" stroke-width="0.9" />
<text x="357.6" y="367.6" font-size="10" fill="#222" text-anchor="middle" font-weight="normal" >1</text>
<line x1="371.2" y1="356.0" x2="371.2" y2="358.0" stroke="#555" stroke-width="0.9" />
<text x="371.2" y="367.6" font-size="10" fill="#222" text-anchor="middle" font-weight="normal" >2</text>
<line x1="384.9" y1="356.0" x2="384.9" y2="358.0" stroke="#555" stroke-width="0.9" />
<text x="384.9" y="367.6" font-size="10" fill="#222" text-anchor="middle" font-weight="normal" >3</text>
<line x1="398.5" y1="356.0" x2="398.5" y2="358.0" stroke="#555" stroke-width="0.9" />
<text x="398.5" y="367.6" font-size="10" fill="#222" text-anchor="middle" font-weight="normal" >4</text>
<line x1="412.2" y1="356.0" x2="412.2" y2="358.0" stroke="#555" stroke-width="0.9" />
<text x="412.2" y="367.6" font-size="10" fill="#222" text-anchor="middle" font-weight="normal" >5</text>
<text x="369.8" y="377.6" font-size="10" fill="#222" text-anchor="middle" font-weight="normal" >Time (s)</text>
<text transform="translate(299.5,329.2) rotate(-90)" font-size="10.5" fill="#222" font-style="italic"><tspan textLength="26.4" lengthAdjust="spacingAndGlyphs">ΔF/F</tspan><tspan font-size="7" dy="3.4" dx="0.5">0</tspan></text>
<polygon points="578.7,288.6 579.2,288.9 579.9,288.2 580.8,288.2 581.7,287.9 582.7,287.7 583.7,286.5 584.7,287.7 585.6,287.2 586.5,286.8 587.4,286.5 588.2,286.3 589.1,286.7 590.0,286.5 590.8,285.5 591.7,285.9 592.6,285.2 593.5,284.6 594.4,285.2 595.3,284.0 596.2,284.7 597.1,283.1 598.0,283.2 598.8,282.6 599.5,282.4 600.2,283.4 600.8,282.4 601.3,282.3 601.8,281.8 602.3,282.6 602.8,282.7 603.2,282.0 603.7,282.4 604.1,282.2 604.4,281.9 604.7,282.3 605.1,283.1 605.4,283.3 605.7,283.2 606.0,283.9 606.4,283.6 606.9,285.1 607.4,285.1 607.9,286.5 608.4,287.6 609.0,288.1 609.5,288.7 610.1,290.6 610.6,290.6 611.1,292.7 611.6,292.1 612.1,293.2 612.6,293.6 613.1,294.4 613.6,294.2 614.2,295.8 614.8,296.2 615.4,296.5 616.1,296.9 616.7,297.2 617.5,297.2 618.2,297.9 618.9,298.3 619.6,299.2 620.3,298.1 621.0,299.2 621.6,299.4 622.3,298.3 622.9,298.5 623.6,298.7 624.3,298.2 625.0,298.2 625.9,298.2 626.8,297.2 627.8,296.9 628.8,296.7 629.9,296.5 631.0,295.4 632.1,295.4 633.2,294.4 634.2,294.0 635.1,293.0 636.0,292.9 636.9,293.2 637.7,292.6 638.6,292.1 639.4,292.3 640.3,292.9 641.1,292.6 642.0,292.6 642.9,291.7 643.8,292.3 644.8,293.4 645.7,293.1 646.5,292.6 647.3,293.3 648.1,293.1 648.7,292.7 649.3,293.8 649.8,292.6 650.3,293.1 650.8,292.0 651.2,292.7 651.7,292.2 652.2,291.9 652.7,291.6 653.2,289.9 653.7,290.2 654.2,289.7 654.7,289.1 655.2,288.6 655.8,288.1 656.4,287.8 657.0,287.6 657.6,287.2 658.3,288.9 659.0,288.6 659.7,288.2 660.4,289.5 661.2,289.7 661.9,290.5 662.7,289.6 663.6,289.3 664.5,290.6 665.5,289.9 666.4,289.9 667.3,290.0 668.1,290.0 668.9,289.5 669.5,290.5 670.1,289.9 670.7,291.3 671.2,291.1 671.7,291.6 672.1,292.3 672.6,292.6 673.0,292.5 673.5,292.0 673.9,291.3 674.3,292.3 674.7,291.8 675.0,290.2 675.3,291.0 675.6,290.9 675.8,290.0 675.8,296.1 675.6,296.9 675.3,296.0 675.0,296.3 674.7,297.0 674.3,297.2 673.9,296.8 673.5,297.8 673.0,298.0 672.6,297.9 672.1,297.0 671.7,297.7 671.2,296.3 670.7,296.6 670.1,295.9 669.5,296.3 668.9,295.0 668.1,295.6 667.3,295.3 666.4,295.8 665.5,295.1 664.5,296.0 663.6,295.0 662.7,295.1 661.9,295.6 661.2,295.7 660.4,294.2 659.7,293.9 659.0,293.4 658.3,293.9 657.6,293.0 657.0,292.5 656.4,292.8 655.8,294.1 655.2,294.1 654.7,295.1 654.2,294.9 653.7,296.4 653.2,296.2 652.7,297.4 652.2,297.5 651.7,298.0 651.2,297.5 650.8,297.4 650.3,298.0 649.8,298.2 649.3,298.5 648.7,297.8 648.1,299.0 647.3,299.1 646.5,297.9 645.7,299.0 644.8,298.9 643.8,297.5 642.9,297.9 642.0,297.3 641.1,298.5 640.3,299.0 639.4,298.4 638.6,298.2 637.7,297.3 636.9,298.6 636.0,297.6 635.1,298.2 634.2,299.9 633.2,300.4 632.1,300.6 631.0,300.2 629.9,301.4 628.8,302.8 627.8,302.6 626.8,303.0 625.9,303.3 625.0,303.7 624.3,303.9 623.6,303.9 622.9,304.0 622.3,303.6 621.6,304.5 621.0,304.0 620.3,304.4 619.6,304.0 618.9,303.3 618.2,304.1 617.5,302.1 616.7,301.9 616.1,302.5 615.4,301.6 614.8,302.1 614.2,301.2 613.6,300.4 613.1,300.2 612.6,299.4 612.1,299.4 611.6,297.6 611.1,297.4 610.6,296.8 610.1,296.5 609.5,294.6 609.0,293.3 608.4,293.1 607.9,292.1 607.4,290.4 606.9,289.8 606.4,288.6 606.0,287.8 605.7,287.5 605.4,287.7 605.1,287.0 604.7,286.1 604.4,286.2 604.1,286.2 603.7,286.0 603.2,286.0 602.8,286.4 602.3,286.4 601.8,285.2 601.3,286.2 600.8,286.4 600.2,286.8 599.5,286.1 598.8,286.4 598.0,287.3 597.1,287.4 596.2,288.4 595.3,288.1 594.4,288.6 593.5,288.3 592.6,289.5 591.7,290.3 590.8,289.9 590.0,290.7 589.1,290.0 588.2,290.2 587.4,290.7 586.5,290.2 585.6,291.4 584.7,291.9 583.7,291.0 582.7,291.4 581.7,291.7 580.8,292.2 579.9,291.7 579.2,292.7 578.7,292.3" fill="#bcc2f0" stroke="none"/>
<line x1="578.7" y1="287.3" x2="675.8" y2="287.3" stroke="#7a7a7a" stroke-width="1.4" stroke-dasharray="5,2.8"/>
<line x1="606.5" y1="270.2" x2="606.5" y2="351.9" stroke="#7a665c" stroke-width="1" stroke-dasharray="6,2.5"/>
<polyline points="578.7,290.4 579.2,290.8 579.9,290.0 580.8,290.2 581.7,289.8 582.7,289.6 583.7,288.8 584.7,289.8 585.6,289.3 586.5,288.5 587.4,288.6 588.2,288.3 589.1,288.4 590.0,288.6 590.8,287.7 591.7,288.1 592.6,287.3 593.5,286.5 594.4,286.9 595.3,286.1 596.2,286.5 597.1,285.3 598.0,285.3 598.8,284.5 599.5,284.2 600.2,285.1 600.8,284.4 601.3,284.2 601.8,283.5 602.3,284.5 602.8,284.6 603.2,284.0 603.7,284.2 604.1,284.2 604.4,284.0 604.7,284.2 605.1,285.0 605.4,285.5 605.7,285.3 606.0,285.8 606.4,286.1 606.9,287.4 607.4,287.7 607.9,289.3 608.4,290.3 609.0,290.7 609.5,291.6 610.1,293.6 610.6,293.7 611.1,295.0 611.6,294.8 612.1,296.3 612.6,296.5 613.1,297.3 613.6,297.3 614.2,298.5 614.8,299.2 615.4,299.1 616.1,299.7 616.7,299.5 617.5,299.7 618.2,301.0 618.9,300.8 619.6,301.6 620.3,301.3 621.0,301.6 621.6,302.0 622.3,300.9 622.9,301.2 623.6,301.3 624.3,301.0 625.0,300.9 625.9,300.8 626.8,300.1 627.8,299.8 628.8,299.7 629.9,299.0 631.0,297.8 632.1,298.0 633.2,297.4 634.2,296.9 635.1,295.6 636.0,295.3 636.9,295.9 637.7,295.0 638.6,295.1 639.4,295.4 640.3,295.9 641.1,295.5 642.0,295.0 642.9,294.8 643.8,294.9 644.8,296.2 645.7,296.1 646.5,295.3 647.3,296.2 648.1,296.0 648.7,295.2 649.3,296.1 649.8,295.4 650.3,295.5 650.8,294.7 651.2,295.1 651.7,295.1 652.2,294.7 652.7,294.5 653.2,293.0 653.7,293.3 654.2,292.3 654.7,292.1 655.2,291.4 655.8,291.1 656.4,290.3 657.0,290.1 657.6,290.1 658.3,291.4 659.0,291.0 659.7,291.1 660.4,291.8 661.2,292.7 661.9,293.1 662.7,292.4 663.6,292.1 664.5,293.3 665.5,292.5 666.4,292.9 667.3,292.7 668.1,292.8 668.9,292.2 669.5,293.4 670.1,292.9 670.7,293.9 671.2,293.7 671.7,294.6 672.1,294.6 672.6,295.3 673.0,295.3 673.5,294.9 673.9,294.0 674.3,294.8 674.7,294.4 675.0,293.2 675.3,293.5 675.6,293.9 675.8,293.0" fill="none" stroke="#5262bc" stroke-width="0.9"/>
<line x1="578.7" y1="270.7" x2="578.7" y2="351.9" stroke="#555" stroke-width="1.3" />
<line x1="578.1" y1="351.9" x2="675.8" y2="351.9" stroke="#555" stroke-width="1.3" />
<line x1="576.7" y1="271.2" x2="578.7" y2="271.2" stroke="#555" stroke-width="0.9" />
<text x="575.2" y="274.8" font-size="10" fill="#222" text-anchor="end" font-weight="normal" >5</text>
<line x1="576.7" y1="287.3" x2="578.7" y2="287.3" stroke="#555" stroke-width="0.9" />
<text x="575.2" y="290.9" font-size="10" fill="#222" text-anchor="end" font-weight="normal" >0</text>
<line x1="576.7" y1="303.5" x2="578.7" y2="303.5" stroke="#555" stroke-width="0.9" />
<text x="575.2" y="307.1" font-size="10" fill="#222" text-anchor="end" font-weight="normal" >-5</text>
<line x1="576.7" y1="319.6" x2="578.7" y2="319.6" stroke="#555" stroke-width="0.9" />
<text x="575.2" y="323.2" font-size="10" fill="#222" text-anchor="end" font-weight="normal" >-10</text>
<line x1="576.7" y1="335.8" x2="578.7" y2="335.8" stroke="#555" stroke-width="0.9" />
<text x="575.2" y="339.4" font-size="10" fill="#222" text-anchor="end" font-weight="normal" >-15</text>
<line x1="576.7" y1="351.9" x2="578.7" y2="351.9" stroke="#555" stroke-width="0.9" />
<text x="575.2" y="355.5" font-size="10" fill="#222" text-anchor="end" font-weight="normal" >-20</text>
<line x1="578.7" y1="351.9" x2="578.7" y2="353.9" stroke="#555" stroke-width="0.9" />
<text x="577.2" y="363.5" font-size="10" fill="#222" text-anchor="middle" font-weight="normal" >-2</text>
<line x1="592.6" y1="351.9" x2="592.6" y2="353.9" stroke="#555" stroke-width="0.9" />
<text x="591.1" y="363.5" font-size="10" fill="#222" text-anchor="middle" font-weight="normal" >-1</text>
<line x1="606.4" y1="351.9" x2="606.4" y2="353.9" stroke="#555" stroke-width="0.9" />
<text x="606.4" y="363.5" font-size="10" fill="#222" text-anchor="middle" font-weight="normal" >0</text>
<line x1="620.3" y1="351.9" x2="620.3" y2="353.9" stroke="#555" stroke-width="0.9" />
<text x="620.3" y="363.5" font-size="10" fill="#222" text-anchor="middle" font-weight="normal" >1</text>
<line x1="634.2" y1="351.9" x2="634.2" y2="353.9" stroke="#555" stroke-width="0.9" />
<text x="634.2" y="363.5" font-size="10" fill="#222" text-anchor="middle" font-weight="normal" >2</text>
<line x1="648.1" y1="351.9" x2="648.1" y2="353.9" stroke="#555" stroke-width="0.9" />
<text x="648.1" y="363.5" font-size="10" fill="#222" text-anchor="middle" font-weight="normal" >3</text>
<line x1="661.9" y1="351.9" x2="661.9" y2="353.9" stroke="#555" stroke-width="0.9" />
<text x="661.9" y="363.5" font-size="10" fill="#222" text-anchor="middle" font-weight="normal" >4</text>
<line x1="675.8" y1="351.9" x2="675.8" y2="353.9" stroke="#555" stroke-width="0.9" />
<text x="675.8" y="363.5" font-size="10" fill="#222" text-anchor="middle" font-weight="normal" >5</text>
<text x="636.2" y="373.5" font-size="10" fill="#222" text-anchor="middle" font-weight="normal" >Time (s)</text>
<text transform="translate(563,329.2) rotate(-90)" font-size="10.5" fill="#222" font-style="italic"><tspan textLength="26.4" lengthAdjust="spacingAndGlyphs">ΔF/F</tspan><tspan font-size="7" dy="3.4" dx="0.5">0</tspan></text>
<polygon points="319.6,418.5 320.1,419.1 320.8,420.4 321.6,418.7 322.5,419.6 323.5,418.3 324.5,420.6 325.4,418.5 326.3,418.1 327.1,419.5 328.0,419.4 328.9,419.0 329.7,418.8 330.6,418.1 331.4,416.9 332.2,416.9 333.0,417.7 333.7,418.1 334.4,418.5 335.1,420.4 335.7,419.6 336.4,421.6 337.0,421.9 337.7,421.5 338.3,422.0 339.0,421.0 339.7,422.1 340.4,419.9 341.2,420.3 341.9,420.7 342.5,418.7 343.1,420.0 343.7,418.3 344.1,417.5 344.5,417.8 344.9,416.9 345.2,417.0 345.5,417.6 345.7,416.4 346.0,416.6 346.3,414.0 346.7,413.7 347.0,415.3 347.3,416.0 347.6,414.7 347.9,418.1 348.3,418.8 348.6,418.6 349.0,420.9 349.4,423.2 349.9,423.9 350.3,425.5 350.8,424.6 351.3,429.0 351.8,428.2 352.4,430.6 353.0,431.3 353.7,431.8 354.5,432.4 355.3,433.7 356.2,434.9 357.1,435.5 358.0,436.9 358.9,436.4 359.7,435.9 360.6,437.1 361.4,437.7 362.2,437.4 363.1,438.6 363.9,438.0 364.7,440.0 365.6,440.8 366.4,438.6 367.2,440.7 368.1,441.8 369.0,441.0 369.8,442.7 370.7,442.9 371.5,444.7 372.3,445.5 373.1,448.4 373.8,446.6 374.5,446.5 375.2,446.3 375.9,447.6 376.6,447.2 377.2,446.3 377.8,447.2 378.4,447.0 379.0,445.1 379.5,445.7 380.0,447.1 380.4,445.3 380.9,446.2 381.4,445.6 381.9,447.8 382.4,447.9 383.1,446.7 383.7,446.2 384.4,448.6 385.0,445.6 385.7,446.0 386.4,444.2 387.1,444.2 387.8,445.2 388.5,443.3 389.1,442.4 389.7,441.3 390.4,442.3 391.0,442.2 391.7,440.9 392.4,439.3 393.1,438.0 393.9,437.7 394.8,434.0 395.6,432.5 396.5,430.6 397.4,429.0 398.2,427.3 399.0,426.0 399.8,424.9 400.6,424.2 401.3,424.7 402.0,423.4 402.7,424.0 403.3,425.6 404.0,423.0 404.6,424.4 405.2,424.6 405.7,423.3 406.3,423.4 406.8,420.8 407.3,420.2 407.7,420.0 408.2,418.6 408.7,418.3 409.2,419.0 409.7,416.2 410.3,418.4 410.9,418.2 411.4,417.8 412.0,416.7 412.5,418.6 412.9,417.9 413.2,417.3 413.2,429.4 412.9,430.2 412.5,430.8 412.0,429.0 411.4,429.0 410.9,427.6 410.3,428.7 409.7,428.7 409.2,428.7 408.7,428.6 408.2,428.3 407.7,429.7 407.3,430.8 406.8,430.9 406.3,433.6 405.7,435.2 405.2,434.9 404.6,435.7 404.0,434.2 403.3,435.5 402.7,436.1 402.0,435.2 401.3,436.0 400.6,435.2 399.8,436.2 399.0,438.6 398.2,439.7 397.4,441.5 396.5,442.4 395.6,443.1 394.8,446.5 393.9,447.1 393.1,447.5 392.4,449.2 391.7,451.1 391.0,452.4 390.4,453.4 389.7,453.6 389.1,453.4 388.5,454.1 387.8,454.9 387.1,454.7 386.4,456.1 385.7,455.8 385.0,456.1 384.4,458.4 383.7,457.4 383.1,458.0 382.4,460.2 381.9,460.0 381.4,458.1 380.9,457.6 380.4,457.6 380.0,459.3 379.5,458.1 379.0,457.1 378.4,457.7 377.8,456.9 377.2,458.0 376.6,458.6 375.9,457.2 375.2,457.1 374.5,456.1 373.8,457.4 373.1,457.7 372.3,457.7 371.5,454.6 370.7,455.2 369.8,452.9 369.0,452.6 368.1,452.7 367.2,451.2 366.4,450.0 365.6,450.2 364.7,450.2 363.9,450.0 363.1,449.8 362.2,449.4 361.4,450.3 360.6,448.2 359.7,448.4 358.9,448.6 358.0,446.3 357.1,446.3 356.2,445.4 355.3,445.9 354.5,443.8 353.7,442.3 353.0,442.9 352.4,443.1 351.8,439.9 351.3,438.7 350.8,436.2 350.3,436.0 349.9,434.6 349.4,432.5 349.0,431.0 348.6,429.6 348.3,429.5 347.9,427.6 347.6,426.2 347.3,426.6 347.0,425.1 346.7,423.1 346.3,424.2 346.0,421.7 345.7,420.3 345.5,422.0 345.2,421.0 344.9,421.0 344.5,421.8 344.1,421.8 343.7,422.7 343.1,423.9 342.5,423.9 341.9,425.8 341.2,424.9 340.4,424.5 339.7,426.8 339.0,425.5 338.3,426.4 337.7,426.5 337.0,426.3 336.4,426.3 335.7,424.8 335.1,424.5 334.4,422.8 333.7,422.7 333.0,422.3 332.2,422.1 331.4,421.5 330.6,422.5 329.7,423.6 328.9,423.7 328.0,423.7 327.1,424.7 326.3,422.5 325.4,423.2 324.5,424.6 323.5,423.5 322.5,423.7 321.6,423.3 320.8,424.3 320.1,423.2 319.6,423.1" fill="#f4c2e2" stroke="none"/>
<line x1="319.6" y1="420.8" x2="413.2" y2="420.8" stroke="#8a8a8a" stroke-width="1.4" stroke-dasharray="5,2.8"/>
<line x1="346.3" y1="403.6" x2="346.3" y2="485.4" stroke="#cdc4bc" stroke-width="1.9" stroke-dasharray="5.5,2.5"/>
<polyline points="319.6,420.8 320.1,421.1 320.8,422.3 321.6,421.0 322.5,421.6 323.5,420.9 324.5,422.6 325.4,420.9 326.3,420.3 327.1,422.1 328.0,421.6 328.9,421.4 329.7,421.2 330.6,420.3 331.4,419.2 332.2,419.5 333.0,420.0 333.7,420.4 334.4,420.7 335.1,422.4 335.7,422.2 336.4,423.9 337.0,424.1 337.7,424.0 338.3,424.2 339.0,423.3 339.7,424.4 340.4,422.2 341.2,422.6 341.9,423.2 342.5,421.3 343.1,421.9 343.7,420.5 344.1,419.6 344.5,419.8 344.9,418.9 345.2,419.0 345.5,419.8 345.7,418.4 346.0,419.1 346.3,419.1 346.7,418.4 347.0,420.2 347.3,421.3 347.6,420.4 347.9,422.8 348.3,424.2 348.6,424.1 349.0,426.0 349.4,427.9 349.9,429.3 350.3,430.8 350.8,430.4 351.3,433.9 351.8,434.1 352.4,436.9 353.0,437.1 353.7,437.1 354.5,438.1 355.3,439.8 356.2,440.2 357.1,440.9 358.0,441.6 358.9,442.5 359.7,442.2 360.6,442.6 361.4,444.0 362.2,443.4 363.1,444.2 363.9,444.0 364.7,445.1 365.6,445.5 366.4,444.3 367.2,446.0 368.1,447.2 369.0,446.8 369.8,447.8 370.7,449.0 371.5,449.6 372.3,451.6 373.1,453.1 373.8,452.0 374.5,451.3 375.2,451.7 375.9,452.4 376.6,452.9 377.2,452.2 377.8,452.0 378.4,452.3 379.0,451.1 379.5,451.9 380.0,453.2 380.4,451.5 380.9,451.9 381.4,451.9 381.9,453.9 382.4,454.0 383.1,452.3 383.7,451.8 384.4,453.5 385.0,450.8 385.7,450.9 386.4,450.1 387.1,449.4 387.8,450.1 388.5,448.7 389.1,447.9 389.7,447.4 390.4,447.9 391.0,447.3 391.7,446.0 392.4,444.3 393.1,442.7 393.9,442.4 394.8,440.2 395.6,437.8 396.5,436.5 397.4,435.3 398.2,433.5 399.0,432.3 399.8,430.6 400.6,429.7 401.3,430.4 402.0,429.3 402.7,430.1 403.3,430.6 404.0,428.6 404.6,430.1 405.2,429.8 405.7,429.2 406.3,428.5 406.8,425.8 407.3,425.5 407.7,424.9 408.2,423.5 408.7,423.5 409.2,423.8 409.7,422.4 410.3,423.5 410.9,422.9 411.4,423.4 412.0,422.9 412.5,424.7 412.9,424.1 413.2,423.3" fill="none" stroke="#b04c80" stroke-width="0.9"/>
<line x1="319.6" y1="404.1" x2="319.6" y2="485.4" stroke="#6e6e6e" stroke-width="1.3" />
<line x1="319.0" y1="485.4" x2="413.2" y2="485.4" stroke="#6e6e6e" stroke-width="1.3" />
<line x1="317.6" y1="404.6" x2="319.6" y2="404.6" stroke="#6e6e6e" stroke-width="0.9" />
<text x="316.1" y="408.2" font-size="10" fill="#222" text-anchor="end" font-weight="normal" >5</text>
<line x1="317.6" y1="420.8" x2="319.6" y2="420.8" stroke="#6e6e6e" stroke-width="0.9" />
<text x="316.1" y="424.4" font-size="10" fill="#222" text-anchor="end" font-weight="normal" >0</text>
<line x1="317.6" y1="436.9" x2="319.6" y2="436.9" stroke="#6e6e6e" stroke-width="0.9" />
<text x="316.1" y="440.5" font-size="10" fill="#222" text-anchor="end" font-weight="normal" >-5</text>
<line x1="317.6" y1="453.1" x2="319.6" y2="453.1" stroke="#6e6e6e" stroke-width="0.9" />
<text x="316.1" y="456.7" font-size="10" fill="#222" text-anchor="end" font-weight="normal" >-10</text>
<line x1="317.6" y1="469.2" x2="319.6" y2="469.2" stroke="#6e6e6e" stroke-width="0.9" />
<text x="316.1" y="472.8" font-size="10" fill="#222" text-anchor="end" font-weight="normal" >-15</text>
<line x1="317.6" y1="485.4" x2="319.6" y2="485.4" stroke="#6e6e6e" stroke-width="0.9" />
<text x="316.1" y="489.0" font-size="10" fill="#222" text-anchor="end" font-weight="normal" >-20</text>
<line x1="319.6" y1="485.4" x2="319.6" y2="487.4" stroke="#6e6e6e" stroke-width="0.9" />
<text x="318.1" y="497.0" font-size="10" fill="#222" text-anchor="middle" font-weight="normal" >-2</text>
<line x1="333.0" y1="485.4" x2="333.0" y2="487.4" stroke="#6e6e6e" stroke-width="0.9" />
<text x="331.5" y="497.0" font-size="10" fill="#222" text-anchor="middle" font-weight="normal" >-1</text>
<line x1="346.3" y1="485.4" x2="346.3" y2="487.4" stroke="#6e6e6e" stroke-width="0.9" />
<text x="346.3" y="497.0" font-size="10" fill="#222" text-anchor="middle" font-weight="normal" >0</text>
<line x1="359.7" y1="485.4" x2="359.7" y2="487.4" stroke="#6e6e6e" stroke-width="0.9" />
<text x="359.7" y="497.0" font-size="10" fill="#222" text-anchor="middle" font-weight="normal" >1</text>
<line x1="373.1" y1="485.4" x2="373.1" y2="487.4" stroke="#6e6e6e" stroke-width="0.9" />
<text x="373.1" y="497.0" font-size="10" fill="#222" text-anchor="middle" font-weight="normal" >2</text>
<line x1="386.5" y1="485.4" x2="386.5" y2="487.4" stroke="#6e6e6e" stroke-width="0.9" />
<text x="386.5" y="497.0" font-size="10" fill="#222" text-anchor="middle" font-weight="normal" >3</text>
<line x1="399.8" y1="485.4" x2="399.8" y2="487.4" stroke="#6e6e6e" stroke-width="0.9" />
<text x="399.8" y="497.0" font-size="10" fill="#222" text-anchor="middle" font-weight="normal" >4</text>
<line x1="413.2" y1="485.4" x2="413.2" y2="487.4" stroke="#6e6e6e" stroke-width="0.9" />
<text x="413.2" y="497.0" font-size="10" fill="#222" text-anchor="middle" font-weight="normal" >5</text>
<text x="371.8" y="507.0" font-size="10" fill="#222" text-anchor="middle" font-weight="normal" >Time (s)</text>
<text transform="translate(299.5,457.4) rotate(-90)" font-size="10.5" fill="#222" font-style="italic"><tspan textLength="26.4" lengthAdjust="spacingAndGlyphs">ΔF/F</tspan><tspan font-size="7" dy="3.4" dx="0.5">0</tspan></text>
<polygon points="579.2,416.9 579.5,416.9 580.0,418.2 580.5,416.3 581.0,416.5 581.6,413.4 582.2,413.0 582.8,411.7 583.4,411.9 583.9,412.0 584.5,410.9 585.0,411.3 585.6,409.8 586.1,409.9 586.6,407.6 587.1,407.3 587.6,405.1 588.0,405.2 588.4,405.6 588.7,405.5 589.0,403.8 589.4,403.3 589.7,403.4 590.0,403.9 590.4,404.4 590.7,404.1 591.0,404.7 591.3,405.6 591.7,406.6 592.0,406.8 592.3,407.1 592.7,406.6 593.1,408.5 593.6,408.9 594.1,408.9 594.5,407.6 595.1,408.4 595.6,408.1 596.1,409.5 596.7,409.5 597.3,410.1 598.0,409.8 598.7,410.4 599.4,410.3 600.2,410.5 601.0,412.8 601.7,412.7 602.3,414.0 602.9,412.3 603.4,413.5 603.8,413.5 604.2,413.2 604.6,413.7 604.9,414.0 605.2,413.1 605.4,413.7 605.7,413.3 605.9,415.1 606.1,414.2 606.2,414.3 606.3,413.6 606.4,415.8 606.6,414.0 606.8,415.9 607.1,412.6 607.5,413.5 607.9,414.6 608.5,414.6 609.0,417.5 609.6,420.7 610.2,422.7 610.7,426.3 611.3,426.1 611.8,428.2 612.3,429.4 612.8,430.4 613.3,431.2 613.8,432.6 614.3,435.8 614.9,437.8 615.5,439.7 616.1,439.5 616.8,443.0 617.5,443.9 618.2,444.1 619.0,446.5 619.7,448.9 620.4,451.6 621.0,451.5 621.6,451.5 622.2,453.1 622.7,450.8 623.2,449.8 623.7,451.6 624.2,452.6 624.7,453.0 625.2,451.5 625.7,449.3 626.3,449.6 626.8,449.7 627.4,449.6 627.9,449.1 628.4,446.1 628.9,446.6 629.4,448.1 629.8,446.6 630.1,446.1 630.4,445.6 630.6,444.5 630.9,443.9 631.2,440.6 631.6,441.3 632.2,439.8 632.9,440.6 633.7,440.2 634.6,440.0 635.5,441.2 636.5,439.2 637.4,438.5 638.3,438.9 639.2,437.5 639.9,438.8 640.6,438.2 641.3,439.8 642.0,439.4 642.7,440.5 643.4,443.1 644.0,443.2 644.7,442.6 645.4,443.5 646.1,443.9 646.8,440.1 647.5,439.0 648.2,440.0 648.9,439.6 649.6,439.3 650.3,437.6 651.0,437.2 651.7,439.7 652.3,437.9 653.0,440.1 653.7,439.6 654.4,441.6 655.1,441.9 655.9,444.2 656.7,441.4 657.5,441.0 658.4,440.7 659.3,441.9 660.2,440.2 661.1,440.2 662.0,439.2 662.9,439.8 663.7,440.6 664.6,439.4 665.5,438.4 666.4,441.0 667.3,440.4 668.2,439.0 669.0,440.4 669.8,441.7 670.6,438.5 671.5,440.3 672.3,439.4 673.1,440.8 673.8,438.0 674.4,438.1 675.0,437.2 675.4,436.5 675.4,453.7 675.0,455.7 674.4,453.3 673.8,454.8 673.1,455.5 672.3,455.8 671.5,457.3 670.6,455.9 669.8,456.7 669.0,456.0 668.2,457.9 667.3,456.4 666.4,455.3 665.5,455.2 664.6,455.3 663.7,454.9 662.9,455.2 662.0,455.5 661.1,458.2 660.2,458.1 659.3,457.4 658.4,457.7 657.5,457.6 656.7,458.2 655.9,458.6 655.1,459.7 654.4,456.0 653.7,456.6 653.0,457.8 652.3,454.7 651.7,454.3 651.0,453.7 650.3,456.3 649.6,454.2 648.9,453.9 648.2,455.4 647.5,456.4 646.8,459.0 646.1,458.4 645.4,458.3 644.7,459.1 644.0,461.2 643.4,458.9 642.7,458.9 642.0,458.3 641.3,457.4 640.6,456.9 639.9,455.7 639.2,455.2 638.3,457.2 637.4,454.8 636.5,454.1 635.5,455.7 634.6,455.2 633.7,457.1 632.9,454.9 632.2,456.8 631.6,458.6 631.2,459.2 630.9,458.9 630.6,461.0 630.4,461.5 630.1,462.2 629.8,464.0 629.4,463.5 628.9,465.5 628.4,465.3 627.9,464.6 627.4,464.5 626.8,464.9 626.3,466.7 625.7,468.6 625.2,467.7 624.7,467.4 624.2,466.9 623.7,468.4 623.2,468.5 622.7,469.8 622.2,469.9 621.6,467.6 621.0,467.9 620.4,466.9 619.7,467.6 619.0,463.6 618.2,463.0 617.5,462.7 616.8,460.1 616.1,457.1 615.5,455.9 614.9,452.4 614.3,450.9 613.8,450.9 613.3,449.7 612.8,449.0 612.3,447.9 611.8,445.5 611.3,443.2 610.7,440.8 610.2,437.0 609.6,435.6 609.0,433.8 608.5,433.8 607.9,432.7 607.5,430.9 607.1,428.3 606.8,423.7 606.6,422.2 606.4,423.0 606.3,421.0 606.2,422.2 606.1,421.7 605.9,422.2 605.7,422.0 605.4,421.2 605.2,421.2 604.9,422.0 604.6,421.7 604.2,420.8 603.8,422.3 603.4,422.1 602.9,420.4 602.3,420.7 601.7,420.4 601.0,419.9 600.2,418.6 599.4,419.1 598.7,417.5 598.0,418.7 597.3,417.8 596.7,417.9 596.1,417.3 595.6,416.7 595.1,417.0 594.5,416.3 594.1,417.4 593.6,416.7 593.1,416.7 592.7,414.5 592.3,414.0 592.0,415.0 591.7,413.4 591.3,412.5 591.0,411.5 590.7,410.9 590.4,411.1 590.0,411.3 589.7,411.2 589.4,411.8 589.0,412.1 588.7,413.8 588.4,413.0 588.0,412.7 587.6,413.3 587.1,414.9 586.6,414.2 586.1,416.8 585.6,418.0 585.0,418.0 584.5,418.9 583.9,418.7 583.4,420.6 582.8,420.4 582.2,420.3 581.6,421.3 581.0,423.8 580.5,424.7 580.0,425.0 579.5,424.2 579.2,424.5" fill="#bcc2f0" stroke="none"/>
<line x1="579.2" y1="415.2" x2="676.8" y2="415.2" stroke="#8a8a8a" stroke-width="1.4" stroke-dasharray="5,2.8"/>
<line x1="607.5" y1="398" x2="607.5" y2="485" stroke="#7a665c" stroke-width="1" stroke-dasharray="6,2.5"/>
<polyline points="579.2,420.7 579.5,420.6 580.0,421.6 580.5,420.5 581.0,420.1 581.6,417.3 582.2,416.7 582.8,416.1 583.4,416.2 583.9,415.4 584.5,414.9 585.0,414.7 585.6,413.9 586.1,413.3 586.6,410.9 587.1,411.1 587.6,409.2 588.0,409.0 588.4,409.3 588.7,409.7 589.0,408.0 589.4,407.6 589.7,407.3 590.0,407.6 590.4,407.8 590.7,407.5 591.0,408.1 591.3,409.0 591.7,410.0 592.0,410.9 592.3,410.5 592.7,410.6 593.1,412.6 593.6,412.8 594.1,413.2 594.5,412.0 595.1,412.7 595.6,412.4 596.1,413.4 596.7,413.7 597.3,413.9 598.0,414.3 598.7,414.0 599.4,414.7 600.2,414.5 601.0,416.4 601.7,416.6 602.3,417.3 602.9,416.3 603.4,417.8 603.8,417.9 604.2,417.0 604.6,417.7 604.9,418.0 605.2,417.1 605.4,417.4 605.7,417.7 605.9,418.7 606.1,418.0 606.2,418.3 606.3,417.3 606.4,419.4 606.6,418.1 606.8,419.8 607.1,420.4 607.5,422.2 607.9,423.7 608.5,424.2 609.0,425.7 609.6,428.1 610.2,429.8 610.7,433.6 611.3,434.6 611.8,436.9 612.3,438.6 612.8,439.7 613.3,440.4 613.8,441.7 614.3,443.4 614.9,445.1 615.5,447.8 616.1,448.3 616.8,451.6 617.5,453.3 618.2,453.5 619.0,455.1 619.7,458.2 620.4,459.3 621.0,459.7 621.6,459.5 622.2,461.5 622.7,460.3 623.2,459.2 623.7,460.0 624.2,459.8 624.7,460.2 625.2,459.6 625.7,459.0 626.3,458.1 626.8,457.3 627.4,457.1 627.9,456.8 628.4,455.7 628.9,456.1 629.4,455.8 629.8,455.3 630.1,454.2 630.4,453.6 630.6,452.8 630.9,451.4 631.2,449.9 631.6,449.9 632.2,448.3 632.9,447.7 633.7,448.7 634.6,447.6 635.5,448.5 636.5,446.7 637.4,446.6 638.3,448.0 639.2,446.4 639.9,447.3 640.6,447.6 641.3,448.6 642.0,448.9 642.7,449.7 643.4,451.0 644.0,452.2 644.7,450.9 645.4,450.9 646.1,451.2 646.8,449.5 647.5,447.7 648.2,447.7 648.9,446.8 649.6,446.7 650.3,446.9 651.0,445.4 651.7,447.0 652.3,446.3 653.0,449.0 653.7,448.1 654.4,448.8 655.1,450.8 655.9,451.4 656.7,449.8 657.5,449.3 658.4,449.2 659.3,449.7 660.2,449.1 661.1,449.2 662.0,447.4 662.9,447.5 663.7,447.8 664.6,447.3 665.5,446.8 666.4,448.2 667.3,448.4 668.2,448.4 669.0,448.2 669.8,449.2 670.6,447.2 671.5,448.8 672.3,447.6 673.1,448.1 673.8,446.4 674.4,445.7 675.0,446.4 675.4,445.1" fill="none" stroke="#5262bc" stroke-width="0.9"/>
<line x1="579.2" y1="398.5" x2="579.2" y2="485.0" stroke="#555" stroke-width="1.3" />
<line x1="578.6" y1="485.0" x2="676.8" y2="485.0" stroke="#555" stroke-width="1.3" />
<line x1="577.2" y1="399.0" x2="579.2" y2="399.0" stroke="#555" stroke-width="0.9" />
<text x="575.7" y="402.6" font-size="10" fill="#222" text-anchor="end" font-weight="normal" >5</text>
<line x1="577.2" y1="415.2" x2="579.2" y2="415.2" stroke="#555" stroke-width="0.9" />
<text x="575.7" y="418.8" font-size="10" fill="#222" text-anchor="end" font-weight="normal" >0</text>
<line x1="577.2" y1="431.3" x2="579.2" y2="431.3" stroke="#555" stroke-width="0.9" />
<text x="575.7" y="434.9" font-size="10" fill="#222" text-anchor="end" font-weight="normal" >-5</text>
<line x1="577.2" y1="447.5" x2="579.2" y2="447.5" stroke="#555" stroke-width="0.9" />
<text x="575.7" y="451.1" font-size="10" fill="#222" text-anchor="end" font-weight="normal" >-10</text>
<line x1="577.2" y1="463.6" x2="579.2" y2="463.6" stroke="#555" stroke-width="0.9" />
<text x="575.7" y="467.2" font-size="10" fill="#222" text-anchor="end" font-weight="normal" >-15</text>
<line x1="577.2" y1="479.8" x2="579.2" y2="479.8" stroke="#555" stroke-width="0.9" />
<text x="575.7" y="483.4" font-size="10" fill="#222" text-anchor="end" font-weight="normal" >-20</text>
<line x1="579.2" y1="485.0" x2="579.2" y2="487.0" stroke="#555" stroke-width="0.9" />
<text x="577.7" y="496.6" font-size="10" fill="#222" text-anchor="middle" font-weight="normal" >-2</text>
<line x1="593.1" y1="485.0" x2="593.1" y2="487.0" stroke="#555" stroke-width="0.9" />
<text x="591.6" y="496.6" font-size="10" fill="#222" text-anchor="middle" font-weight="normal" >-1</text>
<line x1="607.1" y1="485.0" x2="607.1" y2="487.0" stroke="#555" stroke-width="0.9" />
<text x="607.1" y="496.6" font-size="10" fill="#222" text-anchor="middle" font-weight="normal" >0</text>
<line x1="621.0" y1="485.0" x2="621.0" y2="487.0" stroke="#555" stroke-width="0.9" />
<text x="621.0" y="496.6" font-size="10" fill="#222" text-anchor="middle" font-weight="normal" >1</text>
<line x1="635.0" y1="485.0" x2="635.0" y2="487.0" stroke="#555" stroke-width="0.9" />
<text x="635.0" y="496.6" font-size="10" fill="#222" text-anchor="middle" font-weight="normal" >2</text>
<line x1="648.9" y1="485.0" x2="648.9" y2="487.0" stroke="#555" stroke-width="0.9" />
<text x="648.9" y="496.6" font-size="10" fill="#222" text-anchor="middle" font-weight="normal" >3</text>
<line x1="662.9" y1="485.0" x2="662.9" y2="487.0" stroke="#555" stroke-width="0.9" />
<text x="662.9" y="496.6" font-size="10" fill="#222" text-anchor="middle" font-weight="normal" >4</text>
<line x1="676.8" y1="485.0" x2="676.8" y2="487.0" stroke="#555" stroke-width="0.9" />
<text x="676.8" y="496.6" font-size="10" fill="#222" text-anchor="middle" font-weight="normal" >5</text>
<text x="637.0" y="506.6" font-size="10" fill="#222" text-anchor="middle" font-weight="normal" >Time (s)</text>
<text transform="translate(563,457.4) rotate(-90)" font-size="10.5" fill="#222" font-style="italic"><tspan textLength="26.4" lengthAdjust="spacingAndGlyphs">ΔF/F</tspan><tspan font-size="7" dy="3.4" dx="0.5">0</tspan></text>
<line x1="0.0" y1="514.2" x2="685.0" y2="514.2" stroke="#3a3a3a" stroke-width="1.2" />
<text x="7.0" y="529.0" font-size="11" fill="#111" text-anchor="start" font-weight="bold" >m</text>
<text x="232.0" y="529.0" font-size="11" fill="#111" text-anchor="start" font-weight="bold" >n</text>
<text x="453.0" y="529.0" font-size="11" fill="#111" text-anchor="start" font-weight="bold" >o</text>
<text x="117.5" y="534.4" font-size="9.9" fill="#222" text-anchor="middle" font-weight="normal" >Sociability in home cage test</text>
<text x="358.5" y="534.4" font-size="9.9" fill="#222" text-anchor="middle" font-weight="normal" >Sociability in three-chamber test</text>
<text x="583.6" y="534.2" font-size="9.9" fill="#222" text-anchor="middle" font-weight="normal" >Social preference in three-chamber test</text>
<rect x="46.2" y="583.8" width="13.6" height="30.5" fill="#e6b4d2"/>
<rect x="66.6" y="583.8" width="14.0" height="11.8" fill="none" stroke="#8898d4" stroke-width="1"/>
<line x1="53.0" y1="609.4" x2="53.0" y2="619.0" stroke="#c0608a" stroke-width="0.9" />
<line x1="50.0" y1="609.4" x2="56.0" y2="609.4" stroke="#c0608a" stroke-width="0.9" />
<line x1="50.0" y1="619.0" x2="56.0" y2="619.0" stroke="#c0608a" stroke-width="0.9" />
<line x1="73.6" y1="593.4" x2="73.6" y2="597.7" stroke="#7484cc" stroke-width="0.9" />
<line x1="70.6" y1="593.4" x2="76.6" y2="593.4" stroke="#7484cc" stroke-width="0.9" />
<line x1="70.6" y1="597.7" x2="76.6" y2="597.7" stroke="#7484cc" stroke-width="0.9" />
<circle cx="53.0" cy="584.2" r="1.8" fill="#c4648e"/>
<circle cx="53.0" cy="589.5" r="1.8" fill="#c4648e"/>
<circle cx="53.0" cy="613.5" r="1.8" fill="#c4648e"/>
<circle cx="48.8" cy="614.7" r="1.8" fill="#c4648e"/>
<circle cx="57.4" cy="615.7" r="1.8" fill="#c4648e"/>
<circle cx="48.8" cy="617.6" r="1.8" fill="#c4648e"/>
<circle cx="53.0" cy="617.1" r="1.8" fill="#c4648e"/>
<circle cx="53.0" cy="629.7" r="1.8" fill="#c4648e"/>
<circle cx="57.4" cy="627.8" r="1.8" fill="#c4648e"/>
<circle cx="53.0" cy="635.0" r="1.8" fill="#c4648e"/>
<rect x="67.7" y="586.8" width="2.6" height="2.6" fill="#fff" stroke="#7484cc" stroke-width="0.8"/>
<rect x="72.2" y="584.3" width="2.6" height="2.6" fill="#fff" stroke="#7484cc" stroke-width="0.8"/>
<rect x="76.7" y="582.2" width="2.6" height="2.6" fill="#fff" stroke="#7484cc" stroke-width="0.8"/>
<rect x="72.2" y="589.0" width="2.6" height="2.6" fill="#fff" stroke="#7484cc" stroke-width="0.8"/>
<rect x="67.7" y="592.6" width="2.6" height="2.6" fill="#fff" stroke="#7484cc" stroke-width="0.8"/>
<rect x="76.7" y="592.6" width="2.6" height="2.6" fill="#fff" stroke="#7484cc" stroke-width="0.8"/>
<rect x="67.7" y="599.4" width="2.6" height="2.6" fill="#fff" stroke="#7484cc" stroke-width="0.8"/>
<rect x="72.2" y="599.6" width="2.6" height="2.6" fill="#fff" stroke="#7484cc" stroke-width="0.8"/>
<rect x="76.7" y="599.4" width="2.6" height="2.6" fill="#fff" stroke="#7484cc" stroke-width="0.8"/>
<rect x="67.7" y="602.7" width="2.6" height="2.6" fill="#fff" stroke="#7484cc" stroke-width="0.8"/>
<rect x="76.7" y="602.7" width="2.6" height="2.6" fill="#fff" stroke="#7484cc" stroke-width="0.8"/>
<rect x="76.7" y="600.8" width="2.6" height="2.6" fill="#fff" stroke="#7484cc" stroke-width="0.8"/>
<line x1="39.6" y1="561.9" x2="39.6" y2="647.9" stroke="#222" stroke-width="1.1" />
<line x1="39.1" y1="647.9" x2="87.0" y2="647.9" stroke="#222" stroke-width="1.1" />
<line x1="39.6" y1="583.8" x2="87.0" y2="583.8" stroke="#222" stroke-width="1.1" />
<line x1="37.1" y1="562.4" x2="39.6" y2="562.4" stroke="#222" stroke-width="0.9" />
<text x="36.1" y="565.9" font-size="9.9" fill="#222" text-anchor="end" font-weight="normal" >20</text>
<line x1="37.1" y1="583.8" x2="39.6" y2="583.8" stroke="#222" stroke-width="0.9" />
<text x="36.1" y="587.3" font-size="9.9" fill="#222" text-anchor="end" font-weight="normal" >0</text>
<line x1="37.1" y1="605.1" x2="39.6" y2="605.1" stroke="#222" stroke-width="0.9" />
<text x="36.1" y="608.6" font-size="9.9" fill="#222" text-anchor="end" font-weight="normal" >-20</text>
<line x1="37.1" y1="626.5" x2="39.6" y2="626.5" stroke="#222" stroke-width="0.9" />
<text x="36.1" y="630.0" font-size="9.9" fill="#222" text-anchor="end" font-weight="normal" >-40</text>
<line x1="37.1" y1="647.9" x2="39.6" y2="647.9" stroke="#222" stroke-width="0.9" />
<text x="36.1" y="651.4" font-size="9.9" fill="#222" text-anchor="end" font-weight="normal" >-60</text>
<line x1="38.1" y1="573.1" x2="39.6" y2="573.1" stroke="#222" stroke-width="0.8" />
<line x1="38.1" y1="594.5" x2="39.6" y2="594.5" stroke="#222" stroke-width="0.8" />
<line x1="38.1" y1="615.8" x2="39.6" y2="615.8" stroke="#222" stroke-width="0.8" />
<line x1="38.1" y1="637.2" x2="39.6" y2="637.2" stroke="#222" stroke-width="0.8" />
<line x1="53.0" y1="647.9" x2="53.0" y2="650.4" stroke="#222" stroke-width="0.9" />
<line x1="73.6" y1="647.9" x2="73.6" y2="650.4" stroke="#222" stroke-width="0.9" />
<text x="48.8" y="661.5" font-size="9.9" fill="#222" text-anchor="middle" font-weight="normal" >PV-Cre</text>
<text x="88.2" y="661.5" font-size="9.9" fill="#222" text-anchor="middle" font-weight="normal" >SST-Cre</text>
<line x1="51.4" y1="559.5" x2="72.9" y2="559.5" stroke="#222" stroke-width="1" />
<text x="62.2" y="558.3" font-size="9.5" fill="#222" text-anchor="middle" font-weight="bold" >**</text>
<text transform="translate(17.2,604.5) rotate(-90)" font-size="9.9" fill="#222" text-anchor="middle">Area under curve (0-5s)</text>
<line x1="121.7" y1="566.6" x2="121.7" y2="647.7" stroke="#222" stroke-width="1.1" />
<line x1="121.2" y1="647.7" x2="220.8" y2="647.7" stroke="#222" stroke-width="1.1" />
<line x1="119.2" y1="573.3" x2="121.7" y2="573.3" stroke="#222" stroke-width="0.9" />
<text x="118.2" y="576.8" font-size="9.9" fill="#222" text-anchor="end" font-weight="normal" >0</text>
<line x1="119.2" y1="587.0" x2="121.7" y2="587.0" stroke="#222" stroke-width="0.9" />
<text x="118.2" y="590.5" font-size="9.9" fill="#222" text-anchor="end" font-weight="normal" >-10</text>
<line x1="119.2" y1="600.7" x2="121.7" y2="600.7" stroke="#222" stroke-width="0.9" />
<text x="118.2" y="604.2" font-size="9.9" fill="#222" text-anchor="end" font-weight="normal" >-20</text>
<line x1="119.2" y1="614.0" x2="121.7" y2="614.0" stroke="#222" stroke-width="0.9" />
<text x="118.2" y="617.5" font-size="9.9" fill="#222" text-anchor="end" font-weight="normal" >-30</text>
<line x1="119.2" y1="627.9" x2="121.7" y2="627.9" stroke="#222" stroke-width="0.9" />
<text x="118.2" y="631.4" font-size="9.9" fill="#222" text-anchor="end" font-weight="normal" >-40</text>
<line x1="119.2" y1="641.2" x2="121.7" y2="641.2" stroke="#222" stroke-width="0.9" />
<text x="118.2" y="644.7" font-size="9.9" fill="#222" text-anchor="end" font-weight="normal" >-50</text>
<line x1="121.7" y1="647.7" x2="121.7" y2="650.2" stroke="#222" stroke-width="0.9" />
<text x="121.7" y="661.0" font-size="9.9" fill="#222" text-anchor="middle" font-weight="normal" >20</text>
<line x1="155.0" y1="647.7" x2="155.0" y2="650.2" stroke="#222" stroke-width="0.9" />
<text x="155.0" y="661.0" font-size="9.9" fill="#222" text-anchor="middle" font-weight="normal" >60</text>
<line x1="187.7" y1="647.7" x2="187.7" y2="650.2" stroke="#222" stroke-width="0.9" />
<text x="187.7" y="661.0" font-size="9.9" fill="#222" text-anchor="middle" font-weight="normal" >100</text>
<line x1="220.8" y1="647.7" x2="220.8" y2="650.2" stroke="#222" stroke-width="0.9" />
<text x="220.8" y="661.0" font-size="9.9" fill="#222" text-anchor="middle" font-weight="normal" >140</text>
<line x1="138.3" y1="647.7" x2="138.3" y2="649.2" stroke="#222" stroke-width="0.8" />
<line x1="171.3" y1="647.7" x2="171.3" y2="649.2" stroke="#222" stroke-width="0.8" />
<line x1="204.2" y1="647.7" x2="204.2" y2="649.2" stroke="#222" stroke-width="0.8" />
<text x="171.2" y="668.5" font-size="9.9" fill="#222" text-anchor="middle" font-weight="normal" >Time (s)</text>
<text transform="translate(102.7,601.3) rotate(-90)" font-size="9.9" fill="#222" text-anchor="middle">AUC</text>
<line x1="134.6" y1="581.5" x2="213.6" y2="599.3" stroke="#5a6cc0" stroke-width="0.9" />
<line x1="139.0" y1="596.8" x2="198.7" y2="634.4" stroke="#c0608a" stroke-width="0.9" />
<circle cx="148.9" cy="575.2" r="1.9" fill="#c4648e"/>
<circle cx="164.0" cy="581.9" r="1.9" fill="#c4648e"/>
<circle cx="141.7" cy="606.6" r="1.9" fill="#c4648e"/>
<circle cx="138.6" cy="613.0" r="1.9" fill="#c4648e"/>
<circle cx="154.4" cy="611.5" r="1.9" fill="#c4648e"/>
<circle cx="151.9" cy="616.0" r="1.9" fill="#c4648e"/>
<circle cx="165.2" cy="616.6" r="1.9" fill="#c4648e"/>
<circle cx="168.1" cy="614.6" r="1.9" fill="#c4648e"/>
<circle cx="180.9" cy="629.5" r="1.9" fill="#c4648e"/>
<circle cx="187.5" cy="632.0" r="1.9" fill="#c4648e"/>
<circle cx="198.9" cy="638.3" r="1.9" fill="#c4648e"/>
<rect x="133.2" y="572.4" width="2.7" height="2.7" fill="#fff" stroke="#7484cc" stroke-width="0.8"/>
<rect x="150.4" y="576.1" width="2.7" height="2.7" fill="#fff" stroke="#7484cc" stroke-width="0.8"/>
<rect x="144.2" y="578.7" width="2.7" height="2.7" fill="#fff" stroke="#7484cc" stroke-width="0.8"/>
<rect x="142.2" y="585.7" width="2.7" height="2.7" fill="#fff" stroke="#7484cc" stroke-width="0.8"/>
<rect x="177.6" y="581.6" width="2.7" height="2.7" fill="#fff" stroke="#7484cc" stroke-width="0.8"/>
<rect x="179.0" y="586.1" width="2.7" height="2.7" fill="#fff" stroke="#7484cc" stroke-width="0.8"/>
<rect x="138.7" y="593.8" width="2.7" height="2.7" fill="#fff" stroke="#7484cc" stroke-width="0.8"/>
<rect x="169.4" y="598.3" width="2.7" height="2.7" fill="#fff" stroke="#7484cc" stroke-width="0.8"/>
<rect x="184.7" y="594.4" width="2.7" height="2.7" fill="#fff" stroke="#7484cc" stroke-width="0.8"/>
<rect x="205.1" y="594.4" width="2.7" height="2.7" fill="#fff" stroke="#7484cc" stroke-width="0.8"/>
<rect x="212.1" y="598.3" width="2.7" height="2.7" fill="#fff" stroke="#7484cc" stroke-width="0.8"/>
<circle cx="126.4" cy="553.5" r="2.8" fill="#c4648e"/>
<text x="131.3" y="558.3" font-size="9.9" fill="#222" text-anchor="start" font-weight="normal" >PV-Cre</text>
<rect x="174.7" y="551.6" width="3" height="3" fill="#fff" stroke="#7484cc" stroke-width="0.8"/>
<text x="181.4" y="558.3" font-size="9.9" fill="#222" text-anchor="start" font-weight="normal" >SST-Cre</text>
<text x="183.0" y="572.6" font-size="8.6" fill="#6d7cc4" text-anchor="start" font-weight="normal" >r=-0.635</text>
<text x="183.0" y="580.4" font-size="8.6" fill="#6d7cc4" text-anchor="start" font-weight="normal" >P=0.036</text>
<text x="135.4" y="627.8" font-size="8.6" fill="#c46a9e" text-anchor="start" font-weight="normal" >r=-0.623</text>
<text x="135.4" y="635.6" font-size="8.6" fill="#c46a9e" text-anchor="start" font-weight="normal" >P=0.041</text>
<text transform="translate(228.9,568.5) rotate(-90)" font-size="8.6" fill="#6d7cc4" text-anchor="middle" textLength="51.0" lengthAdjust="spacingAndGlyphs">Slope=-0.132</text>
<text transform="translate(228.9,621.1) rotate(-90)" font-size="8.6" fill="#c46a9e" text-anchor="middle" textLength="50.3" lengthAdjust="spacingAndGlyphs">Slope=-0.390</text>
<rect x="272.3" y="571.2" width="13.7" height="37.7" fill="#e6b4d2"/>
<rect x="292.4" y="571.2" width="14.3" height="10.0" fill="none" stroke="#8898d4" stroke-width="1"/>
<line x1="279.1" y1="599.4" x2="279.1" y2="618.2" stroke="#c0608a" stroke-width="0.9" />
<line x1="276.1" y1="599.4" x2="282.1" y2="599.4" stroke="#c0608a" stroke-width="0.9" />
<line x1="276.1" y1="618.2" x2="282.1" y2="618.2" stroke="#c0608a" stroke-width="0.9" />
<line x1="299.5" y1="578.1" x2="299.5" y2="583.1" stroke="#7484cc" stroke-width="0.9" />
<line x1="296.5" y1="578.1" x2="302.5" y2="578.1" stroke="#7484cc" stroke-width="0.9" />
<line x1="296.5" y1="583.1" x2="302.5" y2="583.1" stroke="#7484cc" stroke-width="0.9" />
<circle cx="279.1" cy="565.4" r="1.8" fill="#c4648e"/>
<circle cx="279.1" cy="578.5" r="1.8" fill="#c4648e"/>
<circle cx="279.1" cy="585.9" r="1.8" fill="#c4648e"/>
<circle cx="279.1" cy="605.5" r="1.8" fill="#c4648e"/>
<circle cx="283.2" cy="602.9" r="1.8" fill="#c4648e"/>
<circle cx="283.2" cy="629.9" r="1.8" fill="#c4648e"/>
<circle cx="279.1" cy="633.4" r="1.8" fill="#c4648e"/>
<circle cx="279.1" cy="635.7" r="1.8" fill="#c4648e"/>
<circle cx="279.1" cy="643.6" r="1.8" fill="#c4648e"/>
<rect x="300.3" y="568.4" width="2.6" height="2.6" fill="#fff" stroke="#7484cc" stroke-width="0.8"/>
<rect x="296.0" y="571.5" width="2.6" height="2.6" fill="#fff" stroke="#7484cc" stroke-width="0.8"/>
<rect x="300.3" y="573.5" width="2.6" height="2.6" fill="#fff" stroke="#7484cc" stroke-width="0.8"/>
<rect x="293.1" y="575.8" width="2.6" height="2.6" fill="#fff" stroke="#7484cc" stroke-width="0.8"/>
<rect x="296.0" y="577.8" width="2.6" height="2.6" fill="#fff" stroke="#7484cc" stroke-width="0.8"/>
<rect x="300.3" y="577.8" width="2.6" height="2.6" fill="#fff" stroke="#7484cc" stroke-width="0.8"/>
<rect x="303.8" y="577.8" width="2.6" height="2.6" fill="#fff" stroke="#7484cc" stroke-width="0.8"/>
<rect x="293.1" y="580.7" width="2.6" height="2.6" fill="#fff" stroke="#7484cc" stroke-width="0.8"/>
<rect x="296.0" y="580.7" width="2.6" height="2.6" fill="#fff" stroke="#7484cc" stroke-width="0.8"/>
<rect x="300.3" y="580.3" width="2.6" height="2.6" fill="#fff" stroke="#7484cc" stroke-width="0.8"/>
<rect x="296.0" y="583.6" width="2.6" height="2.6" fill="#fff" stroke="#7484cc" stroke-width="0.8"/>
<rect x="296.0" y="588.5" width="2.6" height="2.6" fill="#fff" stroke="#7484cc" stroke-width="0.8"/>
<line x1="265.4" y1="558.1" x2="265.4" y2="646.5" stroke="#222" stroke-width="1.1" />
<line x1="264.9" y1="646.5" x2="313.3" y2="646.5" stroke="#222" stroke-width="1.1" />
<line x1="265.4" y1="571.2" x2="313.3" y2="571.2" stroke="#222" stroke-width="1.1" />
<line x1="262.9" y1="558.6" x2="265.4" y2="558.6" stroke="#222" stroke-width="0.9" />
<text x="261.9" y="562.1" font-size="9.9" fill="#222" text-anchor="end" font-weight="normal" >20</text>
<line x1="262.9" y1="571.2" x2="265.4" y2="571.2" stroke="#222" stroke-width="0.9" />
<text x="261.9" y="574.7" font-size="9.9" fill="#222" text-anchor="end" font-weight="normal" >0</text>
<line x1="262.9" y1="583.7" x2="265.4" y2="583.7" stroke="#222" stroke-width="0.9" />
<text x="261.9" y="587.2" font-size="9.9" fill="#222" text-anchor="end" font-weight="normal" >-20</text>
<line x1="262.9" y1="596.3" x2="265.4" y2="596.3" stroke="#222" stroke-width="0.9" />
<text x="261.9" y="599.8" font-size="9.9" fill="#222" text-anchor="end" font-weight="normal" >-40</text>
<line x1="262.9" y1="608.8" x2="265.4" y2="608.8" stroke="#222" stroke-width="0.9" />
<text x="261.9" y="612.3" font-size="9.9" fill="#222" text-anchor="end" font-weight="normal" >-60</text>
<line x1="262.9" y1="621.4" x2="265.4" y2="621.4" stroke="#222" stroke-width="0.9" />
<text x="261.9" y="624.9" font-size="9.9" fill="#222" text-anchor="end" font-weight="normal" >-80</text>
<line x1="262.9" y1="633.9" x2="265.4" y2="633.9" stroke="#222" stroke-width="0.9" />
<text x="261.9" y="637.4" font-size="9.9" fill="#222" text-anchor="end" font-weight="normal" >-100</text>
<line x1="262.9" y1="646.5" x2="265.4" y2="646.5" stroke="#222" stroke-width="0.9" />
<text x="261.9" y="650.0" font-size="9.9" fill="#222" text-anchor="end" font-weight="normal" >-120</text>
<line x1="263.9" y1="564.9" x2="265.4" y2="564.9" stroke="#222" stroke-width="0.8" />
<line x1="263.9" y1="577.4" x2="265.4" y2="577.4" stroke="#222" stroke-width="0.8" />
<line x1="263.9" y1="590.0" x2="265.4" y2="590.0" stroke="#222" stroke-width="0.8" />
<line x1="263.9" y1="602.5" x2="265.4" y2="602.5" stroke="#222" stroke-width="0.8" />
<line x1="263.9" y1="615.1" x2="265.4" y2="615.1" stroke="#222" stroke-width="0.8" />
<line x1="263.9" y1="627.7" x2="265.4" y2="627.7" stroke="#222" stroke-width="0.8" />
<line x1="263.9" y1="640.2" x2="265.4" y2="640.2" stroke="#222" stroke-width="0.8" />
<line x1="279.1" y1="646.5" x2="279.1" y2="649.0" stroke="#222" stroke-width="0.9" />
<line x1="299.5" y1="646.5" x2="299.5" y2="649.0" stroke="#222" stroke-width="0.9" />
<text x="270.5" y="660.0" font-size="9.9" fill="#222" text-anchor="middle" font-weight="normal" >PV-Cre</text>
<text x="308.6" y="660.0" font-size="9.9" fill="#222" text-anchor="middle" font-weight="normal" >SST-Cre</text>
<line x1="276.8" y1="559.1" x2="299.2" y2="559.1" stroke="#222" stroke-width="1" />
<text x="288.0" y="557.9" font-size="9.5" fill="#222" text-anchor="middle" font-weight="bold" >*</text>
<text transform="translate(239.8,603.5) rotate(-90)" font-size="9.9" fill="#222" text-anchor="middle">Area under curve (0-5s)</text>
<line x1="343.9" y1="563.3" x2="343.9" y2="645.2" stroke="#222" stroke-width="1.1" />
<line x1="343.4" y1="645.2" x2="442.3" y2="645.2" stroke="#222" stroke-width="1.1" />
<line x1="341.4" y1="564.8" x2="343.9" y2="564.8" stroke="#222" stroke-width="0.9" />
<text x="340.4" y="568.3" font-size="9.9" fill="#222" text-anchor="end" font-weight="normal" >20</text>
<line x1="341.4" y1="575.4" x2="343.9" y2="575.4" stroke="#222" stroke-width="0.9" />
<text x="340.4" y="578.9" font-size="9.9" fill="#222" text-anchor="end" font-weight="normal" >0</text>
<line x1="341.4" y1="586.0" x2="343.9" y2="586.0" stroke="#222" stroke-width="0.9" />
<text x="340.4" y="589.5" font-size="9.9" fill="#222" text-anchor="end" font-weight="normal" >-20</text>
<line x1="341.4" y1="596.6" x2="343.9" y2="596.6" stroke="#222" stroke-width="0.9" />
<text x="340.4" y="600.1" font-size="9.9" fill="#222" text-anchor="end" font-weight="normal" >-40</text>
<line x1="341.4" y1="607.2" x2="343.9" y2="607.2" stroke="#222" stroke-width="0.9" />
<text x="340.4" y="610.7" font-size="9.9" fill="#222" text-anchor="end" font-weight="normal" >-60</text>
<line x1="341.4" y1="617.8" x2="343.9" y2="617.8" stroke="#222" stroke-width="0.9" />
<text x="340.4" y="621.3" font-size="9.9" fill="#222" text-anchor="end" font-weight="normal" >-80</text>
<line x1="341.4" y1="628.4" x2="343.9" y2="628.4" stroke="#222" stroke-width="0.9" />
<text x="340.4" y="631.9" font-size="9.9" fill="#222" text-anchor="end" font-weight="normal" >-100</text>
<line x1="341.4" y1="639.0" x2="343.9" y2="639.0" stroke="#222" stroke-width="0.9" />
<text x="340.4" y="642.5" font-size="9.9" fill="#222" text-anchor="end" font-weight="normal" >-120</text>
<line x1="343.9" y1="645.2" x2="343.9" y2="647.7" stroke="#222" stroke-width="0.9" />
<text x="343.9" y="655.1" font-size="9.9" fill="#222" text-anchor="middle" font-weight="normal" >0</text>
<line x1="364.0" y1="645.2" x2="364.0" y2="647.7" stroke="#222" stroke-width="0.9" />
<text x="364.0" y="655.1" font-size="9.9" fill="#222" text-anchor="middle" font-weight="normal" >40</text>
<line x1="383.0" y1="645.2" x2="383.0" y2="647.7" stroke="#222" stroke-width="0.9" />
<text x="383.0" y="655.1" font-size="9.9" fill="#222" text-anchor="middle" font-weight="normal" >80</text>
<line x1="403.1" y1="645.2" x2="403.1" y2="647.7" stroke="#222" stroke-width="0.9" />
<text x="403.1" y="655.1" font-size="9.9" fill="#222" text-anchor="middle" font-weight="normal" >120</text>
<line x1="422.2" y1="645.2" x2="422.2" y2="647.7" stroke="#222" stroke-width="0.9" />
<text x="422.2" y="655.1" font-size="9.9" fill="#222" text-anchor="middle" font-weight="normal" >160</text>
<line x1="442.3" y1="645.2" x2="442.3" y2="647.7" stroke="#222" stroke-width="0.9" />
<text x="442.3" y="655.1" font-size="9.9" fill="#222" text-anchor="middle" font-weight="normal" >200</text>
<line x1="353.9" y1="645.2" x2="353.9" y2="646.7" stroke="#222" stroke-width="0.8" />
<line x1="373.5" y1="645.2" x2="373.5" y2="646.7" stroke="#222" stroke-width="0.8" />
<line x1="393.1" y1="645.2" x2="393.1" y2="646.7" stroke="#222" stroke-width="0.8" />
<line x1="412.6" y1="645.2" x2="412.6" y2="646.7" stroke="#222" stroke-width="0.8" />
<line x1="432.2" y1="645.2" x2="432.2" y2="646.7" stroke="#222" stroke-width="0.8" />
<text x="393.1" y="669.5" font-size="9.9" fill="#222" text-anchor="middle" font-weight="normal" >Time (s)</text>
<text transform="translate(323,603.5) rotate(-90)" font-size="9.9" fill="#222" text-anchor="middle">AUC</text>
<line x1="351.3" y1="574.9" x2="426.0" y2="589.7" stroke="#5a6cc0" stroke-width="0.9" />
<line x1="354.5" y1="571.8" x2="436.6" y2="634.2" stroke="#c0608a" stroke-width="0.9" />
<circle cx="354.5" cy="570.7" r="1.9" fill="#c4648e"/>
<circle cx="374.6" cy="581.3" r="1.9" fill="#c4648e"/>
<circle cx="401.0" cy="587.6" r="1.9" fill="#c4648e"/>
<circle cx="409.1" cy="602.4" r="1.9" fill="#c4648e"/>
<circle cx="390.0" cy="604.1" r="1.9" fill="#c4648e"/>
<circle cx="401.7" cy="625.3" r="1.9" fill="#c4648e"/>
<circle cx="405.7" cy="637.4" r="1.9" fill="#c4648e"/>
<circle cx="432.4" cy="627.4" r="1.9" fill="#c4648e"/>
<circle cx="436.4" cy="630.0" r="1.9" fill="#c4648e"/>
<rect x="351.0" y="572.9" width="2.7" height="2.7" fill="#fff" stroke="#7484cc" stroke-width="0.8"/>
<rect x="361.6" y="576.1" width="2.7" height="2.7" fill="#fff" stroke="#7484cc" stroke-width="0.8"/>
<rect x="364.1" y="581.6" width="2.7" height="2.7" fill="#fff" stroke="#7484cc" stroke-width="0.8"/>
<rect x="374.7" y="581.0" width="2.7" height="2.7" fill="#fff" stroke="#7484cc" stroke-width="0.8"/>
<rect x="384.2" y="580.4" width="2.7" height="2.7" fill="#fff" stroke="#7484cc" stroke-width="0.8"/>
<rect x="394.4" y="582.5" width="2.7" height="2.7" fill="#fff" stroke="#7484cc" stroke-width="0.8"/>
<rect x="400.7" y="582.7" width="2.7" height="2.7" fill="#fff" stroke="#7484cc" stroke-width="0.8"/>
<rect x="403.9" y="584.8" width="2.7" height="2.7" fill="#fff" stroke="#7484cc" stroke-width="0.8"/>
<rect x="413.4" y="583.7" width="2.7" height="2.7" fill="#fff" stroke="#7484cc" stroke-width="0.8"/>
<rect x="423.4" y="589.5" width="2.7" height="2.7" fill="#fff" stroke="#7484cc" stroke-width="0.8"/>
<circle cx="346.4" cy="554.8" r="2.8" fill="#c4648e"/>
<text x="351.3" y="559.6" font-size="9.9" fill="#222" text-anchor="start" font-weight="normal" >PV-Cre</text>
<rect x="394.7" y="552.9" width="3" height="3" fill="#fff" stroke="#7484cc" stroke-width="0.8"/>
<text x="401.4" y="559.6" font-size="9.9" fill="#222" text-anchor="start" font-weight="normal" >SST-Cre</text>
<text x="396.8" y="570.5" font-size="8.6" fill="#6d7cc4" text-anchor="start" font-weight="normal" >r=-0.910</text>
<text x="396.8" y="578.3" font-size="8.6" fill="#6d7cc4" text-anchor="start" font-weight="normal" >P=0.0001</text>
<text x="360.2" y="617.5" font-size="8.6" fill="#c46a9e" text-anchor="start" font-weight="normal" >r=-0.807</text>
<text x="360.2" y="625.3" font-size="8.6" fill="#c46a9e" text-anchor="start" font-weight="normal" >P=0.009</text>
<text transform="translate(450.6,565.0) rotate(-90)" font-size="8.6" fill="#6d7cc4" text-anchor="middle" textLength="50.0" lengthAdjust="spacingAndGlyphs">Slope=-0.156</text>
<text transform="translate(450.6,618.9) rotate(-90)" font-size="8.6" fill="#c46a9e" text-anchor="middle" textLength="51.8" lengthAdjust="spacingAndGlyphs">Slope=-0.660</text>
<rect x="500" y="570.3" width="15.7" height="16.8" fill="#e6b4d2"/>
<rect x="523.6" y="570.3" width="16.4" height="33.7" fill="none" stroke="#8898d4" stroke-width="1"/>
<line x1="507.9" y1="585.2" x2="507.9" y2="589.6" stroke="#c0608a" stroke-width="0.9" />
<line x1="504.9" y1="585.2" x2="510.9" y2="585.2" stroke="#c0608a" stroke-width="0.9" />
<line x1="504.9" y1="589.6" x2="510.9" y2="589.6" stroke="#c0608a" stroke-width="0.9" />
<line x1="531.8" y1="597.7" x2="531.8" y2="609.6" stroke="#7484cc" stroke-width="0.9" />
<line x1="528.8" y1="597.7" x2="534.8" y2="597.7" stroke="#7484cc" stroke-width="0.9" />
<line x1="528.8" y1="609.6" x2="534.8" y2="609.6" stroke="#7484cc" stroke-width="0.9" />
<circle cx="504.0" cy="579.6" r="1.8" fill="#c4648e"/>
<circle cx="508.9" cy="578.9" r="1.8" fill="#c4648e"/>
<circle cx="500.6" cy="591.5" r="1.8" fill="#c4648e"/>
<circle cx="505.1" cy="590.9" r="1.8" fill="#c4648e"/>
<circle cx="508.9" cy="591.5" r="1.8" fill="#c4648e"/>
<circle cx="514.1" cy="589.7" r="1.8" fill="#c4648e"/>
<circle cx="505.1" cy="585.7" r="1.8" fill="#c4648e"/>
<circle cx="509.6" cy="585.7" r="1.8" fill="#c4648e"/>
<circle cx="505.1" cy="599.4" r="1.8" fill="#c4648e"/>
<rect x="530.1" y="573.8" width="2.6" height="2.6" fill="#fff" stroke="#7484cc" stroke-width="0.8"/>
<rect x="530.1" y="579.9" width="2.6" height="2.6" fill="#fff" stroke="#7484cc" stroke-width="0.8"/>
<rect x="530.1" y="585.7" width="2.6" height="2.6" fill="#fff" stroke="#7484cc" stroke-width="0.8"/>
<rect x="530.1" y="591.1" width="2.6" height="2.6" fill="#fff" stroke="#7484cc" stroke-width="0.8"/>
<rect x="530.1" y="597.0" width="2.6" height="2.6" fill="#fff" stroke="#7484cc" stroke-width="0.8"/>
<rect x="530.1" y="601.9" width="2.6" height="2.6" fill="#fff" stroke="#7484cc" stroke-width="0.8"/>
<rect x="530.1" y="608.7" width="2.6" height="2.6" fill="#fff" stroke="#7484cc" stroke-width="0.8"/>
<rect x="530.1" y="613.2" width="2.6" height="2.6" fill="#fff" stroke="#7484cc" stroke-width="0.8"/>
<rect x="525.2" y="622.2" width="2.6" height="2.6" fill="#fff" stroke="#7484cc" stroke-width="0.8"/>
<rect x="530.1" y="622.6" width="2.6" height="2.6" fill="#fff" stroke="#7484cc" stroke-width="0.8"/>
<rect x="530.1" y="633.4" width="2.6" height="2.6" fill="#fff" stroke="#7484cc" stroke-width="0.8"/>
<line x1="491.6" y1="557.3" x2="491.6" y2="645.1" stroke="#222" stroke-width="1.1" />
<line x1="491.1" y1="645.1" x2="547.2" y2="645.1" stroke="#222" stroke-width="1.1" />
<line x1="491.6" y1="570.3" x2="547.2" y2="570.3" stroke="#222" stroke-width="1.1" />
<line x1="489.1" y1="557.8" x2="491.6" y2="557.8" stroke="#222" stroke-width="0.9" />
<text x="488.1" y="561.3" font-size="9.9" fill="#222" text-anchor="end" font-weight="normal" >20</text>
<line x1="489.1" y1="570.3" x2="491.6" y2="570.3" stroke="#222" stroke-width="0.9" />
<text x="488.1" y="573.8" font-size="9.9" fill="#222" text-anchor="end" font-weight="normal" >0</text>
<line x1="489.1" y1="582.7" x2="491.6" y2="582.7" stroke="#222" stroke-width="0.9" />
<text x="488.1" y="586.2" font-size="9.9" fill="#222" text-anchor="end" font-weight="normal" >-20</text>
<line x1="489.1" y1="595.2" x2="491.6" y2="595.2" stroke="#222" stroke-width="0.9" />
<text x="488.1" y="598.7" font-size="9.9" fill="#222" text-anchor="end" font-weight="normal" >-40</text>
<line x1="489.1" y1="607.7" x2="491.6" y2="607.7" stroke="#222" stroke-width="0.9" />
<text x="488.1" y="611.2" font-size="9.9" fill="#222" text-anchor="end" font-weight="normal" >-60</text>
<line x1="489.1" y1="620.2" x2="491.6" y2="620.2" stroke="#222" stroke-width="0.9" />
<text x="488.1" y="623.7" font-size="9.9" fill="#222" text-anchor="end" font-weight="normal" >-80</text>
<line x1="489.1" y1="632.6" x2="491.6" y2="632.6" stroke="#222" stroke-width="0.9" />
<text x="488.1" y="636.1" font-size="9.9" fill="#222" text-anchor="end" font-weight="normal" >-100</text>
<line x1="489.1" y1="645.1" x2="491.6" y2="645.1" stroke="#222" stroke-width="0.9" />
<text x="488.1" y="648.6" font-size="9.9" fill="#222" text-anchor="end" font-weight="normal" >-120</text>
<line x1="490.1" y1="564.0" x2="491.6" y2="564.0" stroke="#222" stroke-width="0.8" />
<line x1="490.1" y1="576.5" x2="491.6" y2="576.5" stroke="#222" stroke-width="0.8" />
<line x1="490.1" y1="589.0" x2="491.6" y2="589.0" stroke="#222" stroke-width="0.8" />
<line x1="490.1" y1="601.5" x2="491.6" y2="601.5" stroke="#222" stroke-width="0.8" />
<line x1="490.1" y1="613.9" x2="491.6" y2="613.9" stroke="#222" stroke-width="0.8" />
<line x1="490.1" y1="626.4" x2="491.6" y2="626.4" stroke="#222" stroke-width="0.8" />
<line x1="490.1" y1="638.9" x2="491.6" y2="638.9" stroke="#222" stroke-width="0.8" />
<line x1="507.9" y1="645.1" x2="507.9" y2="647.6" stroke="#222" stroke-width="0.9" />
<line x1="531.8" y1="645.1" x2="531.8" y2="647.6" stroke="#222" stroke-width="0.9" />
<text x="502.2" y="660.5" font-size="9.9" fill="#222" text-anchor="middle" font-weight="normal" >PV-Cre</text>
<text x="541.1" y="660.5" font-size="9.9" fill="#222" text-anchor="middle" font-weight="normal" >SST-Cre</text>
<line x1="505.8" y1="559.4" x2="532.8" y2="559.4" stroke="#222" stroke-width="1" />
<text x="519.3" y="558.2" font-size="9.5" fill="#222" text-anchor="middle" font-weight="bold" >*</text>
<text transform="translate(464.7,604.4) rotate(-90)" font-size="9.9" fill="#222" text-anchor="middle">Area under curve (0-5s)</text>
<line x1="577.6" y1="563.6" x2="577.6" y2="645.2" stroke="#222" stroke-width="1.1" />
<line x1="577.1" y1="645.2" x2="671.1" y2="645.2" stroke="#222" stroke-width="1.1" />
<line x1="575.1" y1="564.0" x2="577.6" y2="564.0" stroke="#222" stroke-width="0.9" />
<text x="574.1" y="567.5" font-size="9.9" fill="#222" text-anchor="end" font-weight="normal" >20</text>
<line x1="575.1" y1="575.2" x2="577.6" y2="575.2" stroke="#222" stroke-width="0.9" />
<text x="574.1" y="578.7" font-size="9.9" fill="#222" text-anchor="end" font-weight="normal" >0</text>
<line x1="575.1" y1="586.4" x2="577.6" y2="586.4" stroke="#222" stroke-width="0.9" />
<text x="574.1" y="589.9" font-size="9.9" fill="#222" text-anchor="end" font-weight="normal" >-20</text>
<line x1="575.1" y1="597.6" x2="577.6" y2="597.6" stroke="#222" stroke-width="0.9" />
<text x="574.1" y="601.1" font-size="9.9" fill="#222" text-anchor="end" font-weight="normal" >-40</text>
<line x1="575.1" y1="608.8" x2="577.6" y2="608.8" stroke="#222" stroke-width="0.9" />
<text x="574.1" y="612.3" font-size="9.9" fill="#222" text-anchor="end" font-weight="normal" >-60</text>
<line x1="575.1" y1="620.0" x2="577.6" y2="620.0" stroke="#222" stroke-width="0.9" />
<text x="574.1" y="623.5" font-size="9.9" fill="#222" text-anchor="end" font-weight="normal" >-80</text>
<line x1="575.1" y1="631.2" x2="577.6" y2="631.2" stroke="#222" stroke-width="0.9" />
<text x="574.1" y="634.7" font-size="9.9" fill="#222" text-anchor="end" font-weight="normal" >-100</text>
<line x1="575.1" y1="642.4" x2="577.6" y2="642.4" stroke="#222" stroke-width="0.9" />
<text x="574.1" y="645.9" font-size="9.9" fill="#222" text-anchor="end" font-weight="normal" >-120</text>
<line x1="577.6" y1="645.2" x2="577.6" y2="647.7" stroke="#222" stroke-width="0.9" />
<text x="577.6" y="655.0" font-size="9.9" fill="#222" text-anchor="middle" font-weight="normal" >0</text>
<line x1="596.5" y1="645.2" x2="596.5" y2="647.7" stroke="#222" stroke-width="0.9" />
<text x="596.5" y="655.0" font-size="9.9" fill="#222" text-anchor="middle" font-weight="normal" >40</text>
<line x1="614.4" y1="645.2" x2="614.4" y2="647.7" stroke="#222" stroke-width="0.9" />
<text x="614.4" y="655.0" font-size="9.9" fill="#222" text-anchor="middle" font-weight="normal" >80</text>
<line x1="633.3" y1="645.2" x2="633.3" y2="647.7" stroke="#222" stroke-width="0.9" />
<text x="633.3" y="655.0" font-size="9.9" fill="#222" text-anchor="middle" font-weight="normal" >120</text>
<line x1="652.2" y1="645.2" x2="652.2" y2="647.7" stroke="#222" stroke-width="0.9" />
<text x="652.2" y="655.0" font-size="9.9" fill="#222" text-anchor="middle" font-weight="normal" >160</text>
<line x1="671.1" y1="645.2" x2="671.1" y2="647.7" stroke="#222" stroke-width="0.9" />
<text x="671.1" y="655.0" font-size="9.9" fill="#222" text-anchor="middle" font-weight="normal" >200</text>
<line x1="587.0" y1="645.2" x2="587.0" y2="646.7" stroke="#222" stroke-width="0.8" />
<line x1="605.5" y1="645.2" x2="605.5" y2="646.7" stroke="#222" stroke-width="0.8" />
<line x1="623.8" y1="645.2" x2="623.8" y2="646.7" stroke="#222" stroke-width="0.8" />
<line x1="642.8" y1="645.2" x2="642.8" y2="646.7" stroke="#222" stroke-width="0.8" />
<line x1="661.7" y1="645.2" x2="661.7" y2="646.7" stroke="#222" stroke-width="0.8" />
<text x="624.4" y="669.1" font-size="9.9" fill="#222" text-anchor="middle" font-weight="normal" >Time (s)</text>
<text transform="translate(554.8,603.6) rotate(-90)" font-size="9.9" fill="#222" text-anchor="middle">AUC</text>
<line x1="596.5" y1="585.7" x2="670.1" y2="633.0" stroke="#5a6cc0" stroke-width="0.9" />
<line x1="581.8" y1="582.6" x2="652.2" y2="599.0" stroke="#c0608a" stroke-width="0.9" />
<circle cx="581.8" cy="583.2" r="1.9" fill="#c4648e"/>
<circle cx="604.5" cy="588.4" r="1.9" fill="#c4648e"/>
<circle cx="614.4" cy="584.2" r="1.9" fill="#c4648e"/>
<circle cx="614.4" cy="588.9" r="1.9" fill="#c4648e"/>
<circle cx="619.6" cy="592.6" r="1.9" fill="#c4648e"/>
<circle cx="624.9" cy="592.6" r="1.9" fill="#c4648e"/>
<circle cx="629.1" cy="592.4" r="1.9" fill="#c4648e"/>
<circle cx="641.1" cy="593.5" r="1.9" fill="#c4648e"/>
<circle cx="651.8" cy="601.1" r="1.9" fill="#c4648e"/>
<rect x="598.7" y="579.5" width="2.7" height="2.7" fill="#fff" stroke="#7484cc" stroke-width="0.8"/>
<rect x="595.2" y="584.8" width="2.7" height="2.7" fill="#fff" stroke="#7484cc" stroke-width="0.8"/>
<rect x="612.0" y="588.6" width="2.7" height="2.7" fill="#fff" stroke="#7484cc" stroke-width="0.8"/>
<rect x="619.7" y="593.8" width="2.7" height="2.7" fill="#fff" stroke="#7484cc" stroke-width="0.8"/>
<rect x="616.2" y="597.6" width="2.7" height="2.7" fill="#fff" stroke="#7484cc" stroke-width="0.8"/>
<rect x="614.7" y="601.2" width="2.7" height="2.7" fill="#fff" stroke="#7484cc" stroke-width="0.8"/>
<rect x="628.8" y="610.6" width="2.7" height="2.7" fill="#fff" stroke="#7484cc" stroke-width="0.8"/>
<rect x="628.2" y="613.2" width="2.7" height="2.7" fill="#fff" stroke="#7484cc" stroke-width="0.8"/>
<rect x="622.5" y="621.1" width="2.7" height="2.7" fill="#fff" stroke="#7484cc" stroke-width="0.8"/>
<rect x="662.4" y="620.7" width="2.7" height="2.7" fill="#fff" stroke="#7484cc" stroke-width="0.8"/>
<rect x="668.5" y="630.4" width="2.7" height="2.7" fill="#fff" stroke="#7484cc" stroke-width="0.8"/>
<circle cx="578.6" cy="554.8" r="2.8" fill="#c4648e"/>
<text x="583.5" y="559.6" font-size="9.9" fill="#222" text-anchor="start" font-weight="normal" >PV-Cre</text>
<rect x="627.2" y="552.9" width="3" height="3" fill="#fff" stroke="#7484cc" stroke-width="0.8"/>
<text x="633.9" y="559.6" font-size="9.9" fill="#222" text-anchor="start" font-weight="normal" >SST-Cre</text>
<text x="583.9" y="622.3" font-size="8.6" fill="#6d7cc4" text-anchor="start" font-weight="normal" >r=-0.875</text>
<text x="583.9" y="630.1" font-size="8.6" fill="#6d7cc4" text-anchor="start" font-weight="normal" >P&lt;0.0001</text>
<text x="637.5" y="576.7" font-size="8.6" fill="#c46a9e" text-anchor="start" font-weight="normal" >r=-0.895</text>
<text x="637.5" y="584.5" font-size="8.6" fill="#c46a9e" text-anchor="start" font-weight="normal" >P=0.001</text>
<text transform="translate(680,564.8) rotate(-90)" font-size="8.6" fill="#6d7cc4" text-anchor="middle" textLength="50.5" lengthAdjust="spacingAndGlyphs">Slope=-0.565</text>
<text transform="translate(680,617.2) rotate(-90)" font-size="8.6" fill="#c46a9e" text-anchor="middle" textLength="48.4" lengthAdjust="spacingAndGlyphs">Slope=-0.211</text>
</svg></body></html>
